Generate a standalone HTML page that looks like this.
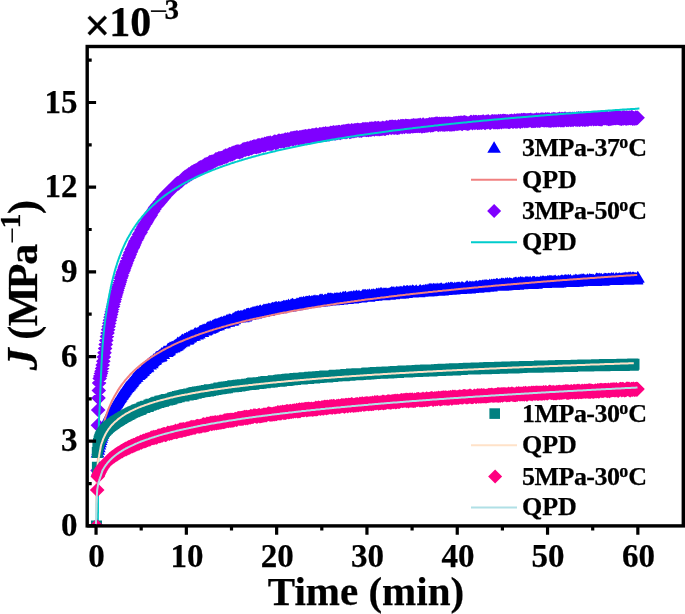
<!DOCTYPE html>
<html><head><meta charset="utf-8"><style>
html,body{margin:0;padding:0;background:#fff;width:685px;height:614px;overflow:hidden}
svg{display:block;will-change:transform}
text{font-family:"Liberation Serif",serif;stroke:#000;stroke-width:0.25px} .thin{stroke:none}
</style></head><body>
<svg xmlns="http://www.w3.org/2000/svg" width="685" height="614" viewBox="0 0 685 614"><defs><clipPath id="c"><rect x="87.2" y="46.5" width="596.0999999999999" height="479.4"/></clipPath></defs><g clip-path="url(#c)"><path fill="#7f00ff" d="M96.5 518.7l7.3 7.3l-7.3 7.3l-7.3-7.3zM97.6 463.1l7.3 7.3l-7.3 7.3l-7.3-7.3zM97.9 417.9l7.3 7.3l-7.3 7.3l-7.3-7.3zM98.2 402.7l7.3 7.3l-7.3 7.3l-7.3-7.3zM98.5 390.7l7.3 7.3l-7.3 7.3l-7.3-7.3zM98.8 383.2l7.3 7.3l-7.3 7.3l-7.3-7.3zM99.1 375.7l7.3 7.3l-7.3 7.3l-7.3-7.3zM99.1 375.7l7.3 7.3l-7.3 7.3l-7.3-7.3zM99.7 371.2l7.3 7.3l-7.3 7.3l-7.3-7.3zM100.3 368.6l7.3 7.3l-7.3 7.3l-7.3-7.3zM100.9 366.3l7.3 7.3l-7.3 7.3l-7.3-7.3zM101.5 363.9l7.3 7.3l-7.3 7.3l-7.3-7.3zM102.1 361.1l7.3 7.3l-7.3 7.3l-7.3-7.3zM102.7 357.8l7.3 7.3l-7.3 7.3l-7.3-7.3zM103.3 353.9l7.3 7.3l-7.3 7.3l-7.3-7.3zM103.9 349.8l7.3 7.3l-7.3 7.3l-7.3-7.3zM104.5 345.5l7.3 7.3l-7.3 7.3l-7.3-7.3zM105.1 341.2l7.3 7.3l-7.3 7.3l-7.3-7.3zM105.7 337.1l7.3 7.3l-7.3 7.3l-7.3-7.3zM106.3 333.1l7.3 7.3l-7.3 7.3l-7.3-7.3zM106.9 329.3l7.3 7.3l-7.3 7.3l-7.3-7.3zM107.5 325.8l7.3 7.3l-7.3 7.3l-7.3-7.3zM108.1 322.4l7.3 7.3l-7.3 7.3l-7.3-7.3zM108.7 319.1l7.3 7.3l-7.3 7.3l-7.3-7.3zM109.3 316l7.3 7.3l-7.3 7.3l-7.3-7.3zM109.9 312.9l7.3 7.3l-7.3 7.3l-7.3-7.3zM110.5 310l7.3 7.3l-7.3 7.3l-7.3-7.3zM111.1 307.2l7.3 7.3l-7.3 7.3l-7.3-7.3zM111.7 304.5l7.3 7.3l-7.3 7.3l-7.3-7.3zM112.4 301.8l7.3 7.3l-7.3 7.3l-7.3-7.3zM113 299.3l7.3 7.3l-7.3 7.3l-7.3-7.3zM113.6 296.8l7.3 7.3l-7.3 7.3l-7.3-7.3zM114.2 294.4l7.3 7.3l-7.3 7.3l-7.3-7.3zM114.8 292l7.3 7.3l-7.3 7.3l-7.3-7.3zM115.4 289.6l7.3 7.3l-7.3 7.3l-7.3-7.3zM116 287.4l7.3 7.3l-7.3 7.3l-7.3-7.3zM116.6 285.4l7.3 7.3l-7.3 7.3l-7.3-7.3zM117.2 283.1l7.3 7.3l-7.3 7.3l-7.3-7.3zM117.8 280.9l7.3 7.3l-7.3 7.3l-7.3-7.3zM118.4 279l7.3 7.3l-7.3 7.3l-7.3-7.3zM119 277.1l7.3 7.3l-7.3 7.3l-7.3-7.3zM119.6 275.1l7.3 7.3l-7.3 7.3l-7.3-7.3zM120.2 273.3l7.3 7.3l-7.3 7.3l-7.3-7.3zM120.8 271l7.3 7.3l-7.3 7.3l-7.3-7.3zM121.4 269.4l7.3 7.3l-7.3 7.3l-7.3-7.3zM122 267.6l7.3 7.3l-7.3 7.3l-7.3-7.3zM122.6 265.6l7.3 7.3l-7.3 7.3l-7.3-7.3zM123.2 264.2l7.3 7.3l-7.3 7.3l-7.3-7.3zM123.8 262.6l7.3 7.3l-7.3 7.3l-7.3-7.3zM124.4 260.8l7.3 7.3l-7.3 7.3l-7.3-7.3zM125 258.9l7.3 7.3l-7.3 7.3l-7.3-7.3zM125.6 257.7l7.3 7.3l-7.3 7.3l-7.3-7.3zM126.2 255.9l7.3 7.3l-7.3 7.3l-7.3-7.3zM126.8 254.3l7.3 7.3l-7.3 7.3l-7.3-7.3zM127.4 253l7.3 7.3l-7.3 7.3l-7.3-7.3zM128 251.1l7.3 7.3l-7.3 7.3l-7.3-7.3zM128.6 250.1l7.3 7.3l-7.3 7.3l-7.3-7.3zM129.2 248.5l7.3 7.3l-7.3 7.3l-7.3-7.3zM129.8 247.2l7.3 7.3l-7.3 7.3l-7.3-7.3zM130.4 245.3l7.3 7.3l-7.3 7.3l-7.3-7.3zM131 244.4l7.3 7.3l-7.3 7.3l-7.3-7.3zM131.6 242.5l7.3 7.3l-7.3 7.3l-7.3-7.3zM132.2 241.1l7.3 7.3l-7.3 7.3l-7.3-7.3zM132.8 240.4l7.3 7.3l-7.3 7.3l-7.3-7.3zM133.4 239.1l7.3 7.3l-7.3 7.3l-7.3-7.3zM134 237.8l7.3 7.3l-7.3 7.3l-7.3-7.3zM134.6 236.2l7.3 7.3l-7.3 7.3l-7.3-7.3zM135.2 234.7l7.3 7.3l-7.3 7.3l-7.3-7.3zM135.8 233.2l7.3 7.3l-7.3 7.3l-7.3-7.3zM136.4 232.6l7.3 7.3l-7.3 7.3l-7.3-7.3zM137 231.5l7.3 7.3l-7.3 7.3l-7.3-7.3zM137.6 230.4l7.3 7.3l-7.3 7.3l-7.3-7.3zM138.2 228.6l7.3 7.3l-7.3 7.3l-7.3-7.3zM138.9 227.4l7.3 7.3l-7.3 7.3l-7.3-7.3zM139.5 226.7l7.3 7.3l-7.3 7.3l-7.3-7.3zM140.1 225.8l7.3 7.3l-7.3 7.3l-7.3-7.3zM140.7 224.9l7.3 7.3l-7.3 7.3l-7.3-7.3zM141.3 222.8l7.3 7.3l-7.3 7.3l-7.3-7.3zM141.9 222.1l7.3 7.3l-7.3 7.3l-7.3-7.3zM142.5 221.5l7.3 7.3l-7.3 7.3l-7.3-7.3zM143.1 219.9l7.3 7.3l-7.3 7.3l-7.3-7.3zM143.7 219l7.3 7.3l-7.3 7.3l-7.3-7.3zM144.3 217.2l7.3 7.3l-7.3 7.3l-7.3-7.3zM144.9 217l7.3 7.3l-7.3 7.3l-7.3-7.3zM145.5 216.4l7.3 7.3l-7.3 7.3l-7.3-7.3zM146.1 215.2l7.3 7.3l-7.3 7.3l-7.3-7.3zM146.7 214.3l7.3 7.3l-7.3 7.3l-7.3-7.3zM147.3 213l7.3 7.3l-7.3 7.3l-7.3-7.3zM147.9 211.4l7.3 7.3l-7.3 7.3l-7.3-7.3zM148.5 211.2l7.3 7.3l-7.3 7.3l-7.3-7.3zM149.1 209.5l7.3 7.3l-7.3 7.3l-7.3-7.3zM149.7 209.5l7.3 7.3l-7.3 7.3l-7.3-7.3zM150.3 207.4l7.3 7.3l-7.3 7.3l-7.3-7.3zM150.9 207.6l7.3 7.3l-7.3 7.3l-7.3-7.3zM151.5 205.7l7.3 7.3l-7.3 7.3l-7.3-7.3zM152.1 205.1l7.3 7.3l-7.3 7.3l-7.3-7.3zM152.7 204.1l7.3 7.3l-7.3 7.3l-7.3-7.3zM153.3 203.8l7.3 7.3l-7.3 7.3l-7.3-7.3zM153.9 202.2l7.3 7.3l-7.3 7.3l-7.3-7.3zM154.5 201.7l7.3 7.3l-7.3 7.3l-7.3-7.3zM155.1 200.2l7.3 7.3l-7.3 7.3l-7.3-7.3zM155.7 199.8l7.3 7.3l-7.3 7.3l-7.3-7.3zM156.3 199.2l7.3 7.3l-7.3 7.3l-7.3-7.3zM156.9 197.9l7.3 7.3l-7.3 7.3l-7.3-7.3zM157.5 197.9l7.3 7.3l-7.3 7.3l-7.3-7.3zM158.1 196.7l7.3 7.3l-7.3 7.3l-7.3-7.3zM158.7 196.5l7.3 7.3l-7.3 7.3l-7.3-7.3zM159.3 195.6l7.3 7.3l-7.3 7.3l-7.3-7.3zM159.9 194.5l7.3 7.3l-7.3 7.3l-7.3-7.3zM160.5 194.4l7.3 7.3l-7.3 7.3l-7.3-7.3zM161.1 193.3l7.3 7.3l-7.3 7.3l-7.3-7.3zM161.7 192.9l7.3 7.3l-7.3 7.3l-7.3-7.3zM162.3 191.4l7.3 7.3l-7.3 7.3l-7.3-7.3zM162.9 191l7.3 7.3l-7.3 7.3l-7.3-7.3zM163.5 189.8l7.3 7.3l-7.3 7.3l-7.3-7.3zM164.1 190.3l7.3 7.3l-7.3 7.3l-7.3-7.3zM164.8 188.5l7.3 7.3l-7.3 7.3l-7.3-7.3zM165.4 187.8l7.3 7.3l-7.3 7.3l-7.3-7.3zM166 186.9l7.3 7.3l-7.3 7.3l-7.3-7.3zM166.6 186.5l7.3 7.3l-7.3 7.3l-7.3-7.3zM167.2 186.6l7.3 7.3l-7.3 7.3l-7.3-7.3zM167.8 185.9l7.3 7.3l-7.3 7.3l-7.3-7.3zM168.4 184.4l7.3 7.3l-7.3 7.3l-7.3-7.3zM169 184.1l7.3 7.3l-7.3 7.3l-7.3-7.3zM169.6 183.6l7.3 7.3l-7.3 7.3l-7.3-7.3zM170.2 183.4l7.3 7.3l-7.3 7.3l-7.3-7.3zM170.8 182.4l7.3 7.3l-7.3 7.3l-7.3-7.3zM171.4 182.1l7.3 7.3l-7.3 7.3l-7.3-7.3zM172 181.9l7.3 7.3l-7.3 7.3l-7.3-7.3zM172.6 181.1l7.3 7.3l-7.3 7.3l-7.3-7.3zM173.2 180l7.3 7.3l-7.3 7.3l-7.3-7.3zM173.8 179.6l7.3 7.3l-7.3 7.3l-7.3-7.3zM174.4 178.9l7.3 7.3l-7.3 7.3l-7.3-7.3zM175 177.9l7.3 7.3l-7.3 7.3l-7.3-7.3zM175.6 177.5l7.3 7.3l-7.3 7.3l-7.3-7.3zM176.2 177.1l7.3 7.3l-7.3 7.3l-7.3-7.3zM176.8 176.6l7.3 7.3l-7.3 7.3l-7.3-7.3zM177.4 176.1l7.3 7.3l-7.3 7.3l-7.3-7.3zM178 176l7.3 7.3l-7.3 7.3l-7.3-7.3zM178.6 176.1l7.3 7.3l-7.3 7.3l-7.3-7.3zM179.2 175.3l7.3 7.3l-7.3 7.3l-7.3-7.3zM179.8 174.8l7.3 7.3l-7.3 7.3l-7.3-7.3zM180.4 174.3l7.3 7.3l-7.3 7.3l-7.3-7.3zM181 173.6l7.3 7.3l-7.3 7.3l-7.3-7.3zM181.6 173.6l7.3 7.3l-7.3 7.3l-7.3-7.3zM182.2 172.8l7.3 7.3l-7.3 7.3l-7.3-7.3zM182.8 172l7.3 7.3l-7.3 7.3l-7.3-7.3zM183.4 170.9l7.3 7.3l-7.3 7.3l-7.3-7.3zM184 171.1l7.3 7.3l-7.3 7.3l-7.3-7.3zM184.6 170.2l7.3 7.3l-7.3 7.3l-7.3-7.3zM185.2 169.6l7.3 7.3l-7.3 7.3l-7.3-7.3zM185.8 169.8l7.3 7.3l-7.3 7.3l-7.3-7.3zM186.4 169.8l7.3 7.3l-7.3 7.3l-7.3-7.3zM187 168.6l7.3 7.3l-7.3 7.3l-7.3-7.3zM187.6 168.9l7.3 7.3l-7.3 7.3l-7.3-7.3zM188.2 168.1l7.3 7.3l-7.3 7.3l-7.3-7.3zM188.8 167.1l7.3 7.3l-7.3 7.3l-7.3-7.3zM189.4 168l7.3 7.3l-7.3 7.3l-7.3-7.3zM190 166.7l7.3 7.3l-7.3 7.3l-7.3-7.3zM190.6 166.1l7.3 7.3l-7.3 7.3l-7.3-7.3zM191.3 166.6l7.3 7.3l-7.3 7.3l-7.3-7.3zM191.9 165.1l7.3 7.3l-7.3 7.3l-7.3-7.3zM192.5 165.6l7.3 7.3l-7.3 7.3l-7.3-7.3zM193.1 164.4l7.3 7.3l-7.3 7.3l-7.3-7.3zM193.7 164.3l7.3 7.3l-7.3 7.3l-7.3-7.3zM194.3 163.7l7.3 7.3l-7.3 7.3l-7.3-7.3zM194.9 164.3l7.3 7.3l-7.3 7.3l-7.3-7.3zM195.5 163.2l7.3 7.3l-7.3 7.3l-7.3-7.3zM196.1 163.7l7.3 7.3l-7.3 7.3l-7.3-7.3zM196.7 162.8l7.3 7.3l-7.3 7.3l-7.3-7.3zM197.3 162.6l7.3 7.3l-7.3 7.3l-7.3-7.3zM197.9 162l7.3 7.3l-7.3 7.3l-7.3-7.3zM198.5 161.3l7.3 7.3l-7.3 7.3l-7.3-7.3zM199.1 161.1l7.3 7.3l-7.3 7.3l-7.3-7.3zM199.7 161.6l7.3 7.3l-7.3 7.3l-7.3-7.3zM200.3 160.1l7.3 7.3l-7.3 7.3l-7.3-7.3zM200.9 161l7.3 7.3l-7.3 7.3l-7.3-7.3zM201.5 160.3l7.3 7.3l-7.3 7.3l-7.3-7.3zM202.1 159.4l7.3 7.3l-7.3 7.3l-7.3-7.3zM202.7 159.5l7.3 7.3l-7.3 7.3l-7.3-7.3zM203.3 158.7l7.3 7.3l-7.3 7.3l-7.3-7.3zM203.9 158.4l7.3 7.3l-7.3 7.3l-7.3-7.3zM204.5 158.3l7.3 7.3l-7.3 7.3l-7.3-7.3zM205.1 157.2l7.3 7.3l-7.3 7.3l-7.3-7.3zM205.7 157.7l7.3 7.3l-7.3 7.3l-7.3-7.3zM206.3 158.1l7.3 7.3l-7.3 7.3l-7.3-7.3zM206.9 156.7l7.3 7.3l-7.3 7.3l-7.3-7.3zM207.5 157.1l7.3 7.3l-7.3 7.3l-7.3-7.3zM208.1 156.4l7.3 7.3l-7.3 7.3l-7.3-7.3zM208.7 155.7l7.3 7.3l-7.3 7.3l-7.3-7.3zM209.3 156.5l7.3 7.3l-7.3 7.3l-7.3-7.3zM209.9 154.8l7.3 7.3l-7.3 7.3l-7.3-7.3zM210.5 155l7.3 7.3l-7.3 7.3l-7.3-7.3zM211.1 155.8l7.3 7.3l-7.3 7.3l-7.3-7.3zM211.7 154.4l7.3 7.3l-7.3 7.3l-7.3-7.3zM212.3 155l7.3 7.3l-7.3 7.3l-7.3-7.3zM212.9 154.3l7.3 7.3l-7.3 7.3l-7.3-7.3zM213.5 154.4l7.3 7.3l-7.3 7.3l-7.3-7.3zM214.1 153.8l7.3 7.3l-7.3 7.3l-7.3-7.3zM214.7 153.2l7.3 7.3l-7.3 7.3l-7.3-7.3zM215.3 153.5l7.3 7.3l-7.3 7.3l-7.3-7.3zM215.9 152.1l7.3 7.3l-7.3 7.3l-7.3-7.3zM216.5 152.5l7.3 7.3l-7.3 7.3l-7.3-7.3zM217.2 152.1l7.3 7.3l-7.3 7.3l-7.3-7.3zM217.8 152l7.3 7.3l-7.3 7.3l-7.3-7.3zM218.4 151.2l7.3 7.3l-7.3 7.3l-7.3-7.3zM219 151.1l7.3 7.3l-7.3 7.3l-7.3-7.3zM219.6 151.4l7.3 7.3l-7.3 7.3l-7.3-7.3zM220.2 150.9l7.3 7.3l-7.3 7.3l-7.3-7.3zM220.8 151.2l7.3 7.3l-7.3 7.3l-7.3-7.3zM221.4 150.7l7.3 7.3l-7.3 7.3l-7.3-7.3zM222 150.9l7.3 7.3l-7.3 7.3l-7.3-7.3zM222.6 150.4l7.3 7.3l-7.3 7.3l-7.3-7.3zM223.2 150l7.3 7.3l-7.3 7.3l-7.3-7.3zM223.8 149.3l7.3 7.3l-7.3 7.3l-7.3-7.3zM224.4 149.8l7.3 7.3l-7.3 7.3l-7.3-7.3zM225 148.8l7.3 7.3l-7.3 7.3l-7.3-7.3zM225.6 148.3l7.3 7.3l-7.3 7.3l-7.3-7.3zM226.2 149.4l7.3 7.3l-7.3 7.3l-7.3-7.3zM226.8 148.5l7.3 7.3l-7.3 7.3l-7.3-7.3zM227.4 148.6l7.3 7.3l-7.3 7.3l-7.3-7.3zM228 148.1l7.3 7.3l-7.3 7.3l-7.3-7.3zM228.6 148l7.3 7.3l-7.3 7.3l-7.3-7.3zM229.2 146.9l7.3 7.3l-7.3 7.3l-7.3-7.3zM229.8 146.9l7.3 7.3l-7.3 7.3l-7.3-7.3zM230.4 147.4l7.3 7.3l-7.3 7.3l-7.3-7.3zM231 147l7.3 7.3l-7.3 7.3l-7.3-7.3zM231.6 146.2l7.3 7.3l-7.3 7.3l-7.3-7.3zM232.2 147.2l7.3 7.3l-7.3 7.3l-7.3-7.3zM232.8 145.8l7.3 7.3l-7.3 7.3l-7.3-7.3zM233.4 146.1l7.3 7.3l-7.3 7.3l-7.3-7.3zM234 145.3l7.3 7.3l-7.3 7.3l-7.3-7.3zM234.6 146l7.3 7.3l-7.3 7.3l-7.3-7.3zM235.2 145.1l7.3 7.3l-7.3 7.3l-7.3-7.3zM235.8 144.7l7.3 7.3l-7.3 7.3l-7.3-7.3zM236.4 144.4l7.3 7.3l-7.3 7.3l-7.3-7.3zM237 144.4l7.3 7.3l-7.3 7.3l-7.3-7.3zM237.6 144.2l7.3 7.3l-7.3 7.3l-7.3-7.3zM238.2 144.5l7.3 7.3l-7.3 7.3l-7.3-7.3zM238.8 144.2l7.3 7.3l-7.3 7.3l-7.3-7.3zM239.4 144.8l7.3 7.3l-7.3 7.3l-7.3-7.3zM240 144.6l7.3 7.3l-7.3 7.3l-7.3-7.3zM240.6 144.2l7.3 7.3l-7.3 7.3l-7.3-7.3zM241.2 143.8l7.3 7.3l-7.3 7.3l-7.3-7.3zM241.8 143.9l7.3 7.3l-7.3 7.3l-7.3-7.3zM242.4 143.8l7.3 7.3l-7.3 7.3l-7.3-7.3zM243 142.3l7.3 7.3l-7.3 7.3l-7.3-7.3zM243.7 142.2l7.3 7.3l-7.3 7.3l-7.3-7.3zM244.3 142.4l7.3 7.3l-7.3 7.3l-7.3-7.3zM244.9 141.8l7.3 7.3l-7.3 7.3l-7.3-7.3zM245.5 142.4l7.3 7.3l-7.3 7.3l-7.3-7.3zM246.1 141.7l7.3 7.3l-7.3 7.3l-7.3-7.3zM246.7 141.6l7.3 7.3l-7.3 7.3l-7.3-7.3zM247.3 141.4l7.3 7.3l-7.3 7.3l-7.3-7.3zM247.9 141l7.3 7.3l-7.3 7.3l-7.3-7.3zM248.5 141.8l7.3 7.3l-7.3 7.3l-7.3-7.3zM249.1 141.5l7.3 7.3l-7.3 7.3l-7.3-7.3zM249.7 141.2l7.3 7.3l-7.3 7.3l-7.3-7.3zM250.3 140.2l7.3 7.3l-7.3 7.3l-7.3-7.3zM250.9 140.6l7.3 7.3l-7.3 7.3l-7.3-7.3zM251.5 140.9l7.3 7.3l-7.3 7.3l-7.3-7.3zM252.1 139.9l7.3 7.3l-7.3 7.3l-7.3-7.3zM252.7 140.1l7.3 7.3l-7.3 7.3l-7.3-7.3zM253.3 139.4l7.3 7.3l-7.3 7.3l-7.3-7.3zM253.9 139.3l7.3 7.3l-7.3 7.3l-7.3-7.3zM254.5 139.3l7.3 7.3l-7.3 7.3l-7.3-7.3zM255.1 139.5l7.3 7.3l-7.3 7.3l-7.3-7.3zM255.7 139.4l7.3 7.3l-7.3 7.3l-7.3-7.3zM256.3 139.9l7.3 7.3l-7.3 7.3l-7.3-7.3zM256.9 138.9l7.3 7.3l-7.3 7.3l-7.3-7.3zM257.5 138.3l7.3 7.3l-7.3 7.3l-7.3-7.3zM258.1 139.3l7.3 7.3l-7.3 7.3l-7.3-7.3zM258.7 138l7.3 7.3l-7.3 7.3l-7.3-7.3zM259.3 137.9l7.3 7.3l-7.3 7.3l-7.3-7.3zM259.9 139.1l7.3 7.3l-7.3 7.3l-7.3-7.3zM260.5 138.6l7.3 7.3l-7.3 7.3l-7.3-7.3zM261.1 137.9l7.3 7.3l-7.3 7.3l-7.3-7.3zM261.7 137.4l7.3 7.3l-7.3 7.3l-7.3-7.3zM262.3 137.6l7.3 7.3l-7.3 7.3l-7.3-7.3zM262.9 137.4l7.3 7.3l-7.3 7.3l-7.3-7.3zM263.5 138.1l7.3 7.3l-7.3 7.3l-7.3-7.3zM264.1 137.3l7.3 7.3l-7.3 7.3l-7.3-7.3zM264.7 136.6l7.3 7.3l-7.3 7.3l-7.3-7.3zM265.3 137.8l7.3 7.3l-7.3 7.3l-7.3-7.3zM265.9 137.1l7.3 7.3l-7.3 7.3l-7.3-7.3zM266.5 136.2l7.3 7.3l-7.3 7.3l-7.3-7.3zM267.1 136.1l7.3 7.3l-7.3 7.3l-7.3-7.3zM267.7 136.5l7.3 7.3l-7.3 7.3l-7.3-7.3zM268.3 135.8l7.3 7.3l-7.3 7.3l-7.3-7.3zM268.9 136.5l7.3 7.3l-7.3 7.3l-7.3-7.3zM269.6 136.3l7.3 7.3l-7.3 7.3l-7.3-7.3zM270.2 135.3l7.3 7.3l-7.3 7.3l-7.3-7.3zM270.8 136.4l7.3 7.3l-7.3 7.3l-7.3-7.3zM271.4 136.2l7.3 7.3l-7.3 7.3l-7.3-7.3zM272 136.3l7.3 7.3l-7.3 7.3l-7.3-7.3zM272.6 135.8l7.3 7.3l-7.3 7.3l-7.3-7.3zM273.2 135.7l7.3 7.3l-7.3 7.3l-7.3-7.3zM273.8 134.7l7.3 7.3l-7.3 7.3l-7.3-7.3zM274.4 134.4l7.3 7.3l-7.3 7.3l-7.3-7.3zM275 134.3l7.3 7.3l-7.3 7.3l-7.3-7.3zM275.6 135.6l7.3 7.3l-7.3 7.3l-7.3-7.3zM276.2 135l7.3 7.3l-7.3 7.3l-7.3-7.3zM276.8 135.3l7.3 7.3l-7.3 7.3l-7.3-7.3zM277.4 134.3l7.3 7.3l-7.3 7.3l-7.3-7.3zM278 134.8l7.3 7.3l-7.3 7.3l-7.3-7.3zM278.6 133.6l7.3 7.3l-7.3 7.3l-7.3-7.3zM279.2 133.6l7.3 7.3l-7.3 7.3l-7.3-7.3zM279.8 133.7l7.3 7.3l-7.3 7.3l-7.3-7.3zM280.4 134l7.3 7.3l-7.3 7.3l-7.3-7.3zM281 133.9l7.3 7.3l-7.3 7.3l-7.3-7.3zM281.6 133.6l7.3 7.3l-7.3 7.3l-7.3-7.3zM282.2 133.4l7.3 7.3l-7.3 7.3l-7.3-7.3zM282.8 133.5l7.3 7.3l-7.3 7.3l-7.3-7.3zM283.4 134l7.3 7.3l-7.3 7.3l-7.3-7.3zM284 133.1l7.3 7.3l-7.3 7.3l-7.3-7.3zM284.6 133.6l7.3 7.3l-7.3 7.3l-7.3-7.3zM285.2 132.3l7.3 7.3l-7.3 7.3l-7.3-7.3zM285.8 132.7l7.3 7.3l-7.3 7.3l-7.3-7.3zM286.4 132.8l7.3 7.3l-7.3 7.3l-7.3-7.3zM287 132.8l7.3 7.3l-7.3 7.3l-7.3-7.3zM287.6 132.1l7.3 7.3l-7.3 7.3l-7.3-7.3zM288.2 132.2l7.3 7.3l-7.3 7.3l-7.3-7.3zM288.8 133l7.3 7.3l-7.3 7.3l-7.3-7.3zM289.4 132.4l7.3 7.3l-7.3 7.3l-7.3-7.3zM290 132.2l7.3 7.3l-7.3 7.3l-7.3-7.3zM290.6 131.3l7.3 7.3l-7.3 7.3l-7.3-7.3zM291.2 131.2l7.3 7.3l-7.3 7.3l-7.3-7.3zM291.8 131.3l7.3 7.3l-7.3 7.3l-7.3-7.3zM292.4 131.1l7.3 7.3l-7.3 7.3l-7.3-7.3zM293 132.3l7.3 7.3l-7.3 7.3l-7.3-7.3zM293.6 130.7l7.3 7.3l-7.3 7.3l-7.3-7.3zM294.2 131.1l7.3 7.3l-7.3 7.3l-7.3-7.3zM294.8 130.6l7.3 7.3l-7.3 7.3l-7.3-7.3zM295.5 131.4l7.3 7.3l-7.3 7.3l-7.3-7.3zM296.1 130.3l7.3 7.3l-7.3 7.3l-7.3-7.3zM296.7 130.3l7.3 7.3l-7.3 7.3l-7.3-7.3zM297.3 130.2l7.3 7.3l-7.3 7.3l-7.3-7.3zM297.9 130.4l7.3 7.3l-7.3 7.3l-7.3-7.3zM298.5 130.8l7.3 7.3l-7.3 7.3l-7.3-7.3zM299.1 131l7.3 7.3l-7.3 7.3l-7.3-7.3zM299.7 130.1l7.3 7.3l-7.3 7.3l-7.3-7.3zM300.3 130l7.3 7.3l-7.3 7.3l-7.3-7.3zM300.9 130.7l7.3 7.3l-7.3 7.3l-7.3-7.3zM301.5 130.5l7.3 7.3l-7.3 7.3l-7.3-7.3zM302.1 129.5l7.3 7.3l-7.3 7.3l-7.3-7.3zM302.7 130.4l7.3 7.3l-7.3 7.3l-7.3-7.3zM303.3 130.4l7.3 7.3l-7.3 7.3l-7.3-7.3zM303.9 129.3l7.3 7.3l-7.3 7.3l-7.3-7.3zM304.5 129.9l7.3 7.3l-7.3 7.3l-7.3-7.3zM305.1 129.1l7.3 7.3l-7.3 7.3l-7.3-7.3zM305.7 129.1l7.3 7.3l-7.3 7.3l-7.3-7.3zM306.3 129.4l7.3 7.3l-7.3 7.3l-7.3-7.3zM306.9 129.3l7.3 7.3l-7.3 7.3l-7.3-7.3zM307.5 129.2l7.3 7.3l-7.3 7.3l-7.3-7.3zM308.1 129.2l7.3 7.3l-7.3 7.3l-7.3-7.3zM308.7 128.6l7.3 7.3l-7.3 7.3l-7.3-7.3zM309.3 129.4l7.3 7.3l-7.3 7.3l-7.3-7.3zM309.9 128.5l7.3 7.3l-7.3 7.3l-7.3-7.3zM310.5 129.4l7.3 7.3l-7.3 7.3l-7.3-7.3zM311.1 128.7l7.3 7.3l-7.3 7.3l-7.3-7.3zM311.7 128.3l7.3 7.3l-7.3 7.3l-7.3-7.3zM312.3 128l7.3 7.3l-7.3 7.3l-7.3-7.3zM312.9 128.4l7.3 7.3l-7.3 7.3l-7.3-7.3zM313.5 128.1l7.3 7.3l-7.3 7.3l-7.3-7.3zM314.1 128.4l7.3 7.3l-7.3 7.3l-7.3-7.3zM314.7 128.2l7.3 7.3l-7.3 7.3l-7.3-7.3zM315.3 127.4l7.3 7.3l-7.3 7.3l-7.3-7.3zM315.9 128.5l7.3 7.3l-7.3 7.3l-7.3-7.3zM316.5 127.2l7.3 7.3l-7.3 7.3l-7.3-7.3zM317.1 128.3l7.3 7.3l-7.3 7.3l-7.3-7.3zM317.7 128.2l7.3 7.3l-7.3 7.3l-7.3-7.3zM318.3 128.3l7.3 7.3l-7.3 7.3l-7.3-7.3zM318.9 127.8l7.3 7.3l-7.3 7.3l-7.3-7.3zM319.5 127l7.3 7.3l-7.3 7.3l-7.3-7.3zM320.1 127.3l7.3 7.3l-7.3 7.3l-7.3-7.3zM320.7 127.2l7.3 7.3l-7.3 7.3l-7.3-7.3zM321.3 127.5l7.3 7.3l-7.3 7.3l-7.3-7.3zM322 127l7.3 7.3l-7.3 7.3l-7.3-7.3zM322.6 127.4l7.3 7.3l-7.3 7.3l-7.3-7.3zM323.2 126.6l7.3 7.3l-7.3 7.3l-7.3-7.3zM323.8 126.7l7.3 7.3l-7.3 7.3l-7.3-7.3zM324.4 126.9l7.3 7.3l-7.3 7.3l-7.3-7.3zM325 126.7l7.3 7.3l-7.3 7.3l-7.3-7.3zM325.6 126.1l7.3 7.3l-7.3 7.3l-7.3-7.3zM326.2 127.3l7.3 7.3l-7.3 7.3l-7.3-7.3zM326.8 126.8l7.3 7.3l-7.3 7.3l-7.3-7.3zM327.4 127l7.3 7.3l-7.3 7.3l-7.3-7.3zM328 126.2l7.3 7.3l-7.3 7.3l-7.3-7.3zM328.6 127l7.3 7.3l-7.3 7.3l-7.3-7.3zM329.2 126.7l7.3 7.3l-7.3 7.3l-7.3-7.3zM329.8 126.9l7.3 7.3l-7.3 7.3l-7.3-7.3zM330.4 125.6l7.3 7.3l-7.3 7.3l-7.3-7.3zM331 126l7.3 7.3l-7.3 7.3l-7.3-7.3zM331.6 125.8l7.3 7.3l-7.3 7.3l-7.3-7.3zM332.2 126.1l7.3 7.3l-7.3 7.3l-7.3-7.3zM332.8 125.4l7.3 7.3l-7.3 7.3l-7.3-7.3zM333.4 125.1l7.3 7.3l-7.3 7.3l-7.3-7.3zM334 125.6l7.3 7.3l-7.3 7.3l-7.3-7.3zM334.6 125.8l7.3 7.3l-7.3 7.3l-7.3-7.3zM335.2 125.3l7.3 7.3l-7.3 7.3l-7.3-7.3zM335.8 126.2l7.3 7.3l-7.3 7.3l-7.3-7.3zM336.4 125.2l7.3 7.3l-7.3 7.3l-7.3-7.3zM337 125l7.3 7.3l-7.3 7.3l-7.3-7.3zM337.6 125.7l7.3 7.3l-7.3 7.3l-7.3-7.3zM338.2 125.1l7.3 7.3l-7.3 7.3l-7.3-7.3zM338.8 124.7l7.3 7.3l-7.3 7.3l-7.3-7.3zM339.4 124.7l7.3 7.3l-7.3 7.3l-7.3-7.3zM340 125.6l7.3 7.3l-7.3 7.3l-7.3-7.3zM340.6 125.6l7.3 7.3l-7.3 7.3l-7.3-7.3zM341.2 125l7.3 7.3l-7.3 7.3l-7.3-7.3zM341.8 124.4l7.3 7.3l-7.3 7.3l-7.3-7.3zM342.4 125l7.3 7.3l-7.3 7.3l-7.3-7.3zM343 124.2l7.3 7.3l-7.3 7.3l-7.3-7.3zM343.6 124.3l7.3 7.3l-7.3 7.3l-7.3-7.3zM344.2 124.6l7.3 7.3l-7.3 7.3l-7.3-7.3zM344.8 124.3l7.3 7.3l-7.3 7.3l-7.3-7.3zM345.4 124.1l7.3 7.3l-7.3 7.3l-7.3-7.3zM346 125l7.3 7.3l-7.3 7.3l-7.3-7.3zM346.6 123.7l7.3 7.3l-7.3 7.3l-7.3-7.3zM347.2 124.3l7.3 7.3l-7.3 7.3l-7.3-7.3zM347.9 123.4l7.3 7.3l-7.3 7.3l-7.3-7.3zM348.5 123.4l7.3 7.3l-7.3 7.3l-7.3-7.3zM349.1 123.5l7.3 7.3l-7.3 7.3l-7.3-7.3zM349.7 124.7l7.3 7.3l-7.3 7.3l-7.3-7.3zM350.3 124.2l7.3 7.3l-7.3 7.3l-7.3-7.3zM350.9 124.3l7.3 7.3l-7.3 7.3l-7.3-7.3zM351.5 123l7.3 7.3l-7.3 7.3l-7.3-7.3zM352.1 123.9l7.3 7.3l-7.3 7.3l-7.3-7.3zM352.7 123.5l7.3 7.3l-7.3 7.3l-7.3-7.3zM353.3 123.4l7.3 7.3l-7.3 7.3l-7.3-7.3zM353.9 123.8l7.3 7.3l-7.3 7.3l-7.3-7.3zM354.5 123.1l7.3 7.3l-7.3 7.3l-7.3-7.3zM355.1 123.4l7.3 7.3l-7.3 7.3l-7.3-7.3zM355.7 122.9l7.3 7.3l-7.3 7.3l-7.3-7.3zM356.3 123.1l7.3 7.3l-7.3 7.3l-7.3-7.3zM356.9 123.2l7.3 7.3l-7.3 7.3l-7.3-7.3zM357.5 122.6l7.3 7.3l-7.3 7.3l-7.3-7.3zM358.1 122.7l7.3 7.3l-7.3 7.3l-7.3-7.3zM358.7 122.9l7.3 7.3l-7.3 7.3l-7.3-7.3zM359.3 122.9l7.3 7.3l-7.3 7.3l-7.3-7.3zM359.9 123.3l7.3 7.3l-7.3 7.3l-7.3-7.3zM360.5 123l7.3 7.3l-7.3 7.3l-7.3-7.3zM361.1 122.9l7.3 7.3l-7.3 7.3l-7.3-7.3zM361.7 123.3l7.3 7.3l-7.3 7.3l-7.3-7.3zM362.3 122.2l7.3 7.3l-7.3 7.3l-7.3-7.3zM362.9 122l7.3 7.3l-7.3 7.3l-7.3-7.3zM363.5 122.4l7.3 7.3l-7.3 7.3l-7.3-7.3zM364.1 121.9l7.3 7.3l-7.3 7.3l-7.3-7.3zM364.7 122.5l7.3 7.3l-7.3 7.3l-7.3-7.3zM365.3 122.5l7.3 7.3l-7.3 7.3l-7.3-7.3zM365.9 121.7l7.3 7.3l-7.3 7.3l-7.3-7.3zM366.5 122.6l7.3 7.3l-7.3 7.3l-7.3-7.3zM367.1 122.3l7.3 7.3l-7.3 7.3l-7.3-7.3zM367.7 122l7.3 7.3l-7.3 7.3l-7.3-7.3zM368.3 122.7l7.3 7.3l-7.3 7.3l-7.3-7.3zM368.9 122.6l7.3 7.3l-7.3 7.3l-7.3-7.3zM369.5 121.6l7.3 7.3l-7.3 7.3l-7.3-7.3zM370.1 121.4l7.3 7.3l-7.3 7.3l-7.3-7.3zM370.7 122.5l7.3 7.3l-7.3 7.3l-7.3-7.3zM371.3 121.3l7.3 7.3l-7.3 7.3l-7.3-7.3zM371.9 122.2l7.3 7.3l-7.3 7.3l-7.3-7.3zM372.5 121.4l7.3 7.3l-7.3 7.3l-7.3-7.3zM373.1 121.5l7.3 7.3l-7.3 7.3l-7.3-7.3zM373.7 121.7l7.3 7.3l-7.3 7.3l-7.3-7.3zM374.4 122.2l7.3 7.3l-7.3 7.3l-7.3-7.3zM375 120.7l7.3 7.3l-7.3 7.3l-7.3-7.3zM375.6 120.9l7.3 7.3l-7.3 7.3l-7.3-7.3zM376.2 121.7l7.3 7.3l-7.3 7.3l-7.3-7.3zM376.8 121.2l7.3 7.3l-7.3 7.3l-7.3-7.3zM377.4 121l7.3 7.3l-7.3 7.3l-7.3-7.3zM378 122l7.3 7.3l-7.3 7.3l-7.3-7.3zM378.6 120.8l7.3 7.3l-7.3 7.3l-7.3-7.3zM379.2 121.5l7.3 7.3l-7.3 7.3l-7.3-7.3zM379.8 121.8l7.3 7.3l-7.3 7.3l-7.3-7.3zM380.4 121.5l7.3 7.3l-7.3 7.3l-7.3-7.3zM381 121.3l7.3 7.3l-7.3 7.3l-7.3-7.3zM381.6 121.3l7.3 7.3l-7.3 7.3l-7.3-7.3zM382.2 121.4l7.3 7.3l-7.3 7.3l-7.3-7.3zM382.8 120.5l7.3 7.3l-7.3 7.3l-7.3-7.3zM383.4 121l7.3 7.3l-7.3 7.3l-7.3-7.3zM384 121.2l7.3 7.3l-7.3 7.3l-7.3-7.3zM384.6 121.3l7.3 7.3l-7.3 7.3l-7.3-7.3zM385.2 121.3l7.3 7.3l-7.3 7.3l-7.3-7.3zM385.8 121.2l7.3 7.3l-7.3 7.3l-7.3-7.3zM386.4 119.9l7.3 7.3l-7.3 7.3l-7.3-7.3zM387 120.3l7.3 7.3l-7.3 7.3l-7.3-7.3zM387.6 120.4l7.3 7.3l-7.3 7.3l-7.3-7.3zM388.2 121l7.3 7.3l-7.3 7.3l-7.3-7.3zM388.8 120.3l7.3 7.3l-7.3 7.3l-7.3-7.3zM389.4 120l7.3 7.3l-7.3 7.3l-7.3-7.3zM390 119.5l7.3 7.3l-7.3 7.3l-7.3-7.3zM390.6 119.9l7.3 7.3l-7.3 7.3l-7.3-7.3zM391.2 120.6l7.3 7.3l-7.3 7.3l-7.3-7.3zM391.8 119.4l7.3 7.3l-7.3 7.3l-7.3-7.3zM392.4 119.6l7.3 7.3l-7.3 7.3l-7.3-7.3zM393 119.8l7.3 7.3l-7.3 7.3l-7.3-7.3zM393.6 120.1l7.3 7.3l-7.3 7.3l-7.3-7.3zM394.2 119.8l7.3 7.3l-7.3 7.3l-7.3-7.3zM394.8 120.5l7.3 7.3l-7.3 7.3l-7.3-7.3zM395.4 119.4l7.3 7.3l-7.3 7.3l-7.3-7.3zM396 119.9l7.3 7.3l-7.3 7.3l-7.3-7.3zM396.6 120.2l7.3 7.3l-7.3 7.3l-7.3-7.3zM397.2 120.4l7.3 7.3l-7.3 7.3l-7.3-7.3zM397.8 120.3l7.3 7.3l-7.3 7.3l-7.3-7.3zM398.4 119.1l7.3 7.3l-7.3 7.3l-7.3-7.3zM399 120.1l7.3 7.3l-7.3 7.3l-7.3-7.3zM399.6 119.8l7.3 7.3l-7.3 7.3l-7.3-7.3zM400.3 119.4l7.3 7.3l-7.3 7.3l-7.3-7.3zM400.9 118.8l7.3 7.3l-7.3 7.3l-7.3-7.3zM401.5 118.9l7.3 7.3l-7.3 7.3l-7.3-7.3zM402.1 119.8l7.3 7.3l-7.3 7.3l-7.3-7.3zM402.7 118.7l7.3 7.3l-7.3 7.3l-7.3-7.3zM403.3 119l7.3 7.3l-7.3 7.3l-7.3-7.3zM403.9 118.9l7.3 7.3l-7.3 7.3l-7.3-7.3zM404.5 119.6l7.3 7.3l-7.3 7.3l-7.3-7.3zM405.1 119l7.3 7.3l-7.3 7.3l-7.3-7.3zM405.7 118.5l7.3 7.3l-7.3 7.3l-7.3-7.3zM406.3 118.9l7.3 7.3l-7.3 7.3l-7.3-7.3zM406.9 118.8l7.3 7.3l-7.3 7.3l-7.3-7.3zM407.5 119.3l7.3 7.3l-7.3 7.3l-7.3-7.3zM408.1 118.7l7.3 7.3l-7.3 7.3l-7.3-7.3zM408.7 119.2l7.3 7.3l-7.3 7.3l-7.3-7.3zM409.3 119l7.3 7.3l-7.3 7.3l-7.3-7.3zM409.9 119.4l7.3 7.3l-7.3 7.3l-7.3-7.3zM410.5 119.2l7.3 7.3l-7.3 7.3l-7.3-7.3zM411.1 118.6l7.3 7.3l-7.3 7.3l-7.3-7.3zM411.7 118.7l7.3 7.3l-7.3 7.3l-7.3-7.3zM412.3 118.6l7.3 7.3l-7.3 7.3l-7.3-7.3zM412.9 119.2l7.3 7.3l-7.3 7.3l-7.3-7.3zM413.5 118.1l7.3 7.3l-7.3 7.3l-7.3-7.3zM414.1 118.5l7.3 7.3l-7.3 7.3l-7.3-7.3zM414.7 118.6l7.3 7.3l-7.3 7.3l-7.3-7.3zM415.3 118.4l7.3 7.3l-7.3 7.3l-7.3-7.3zM415.9 118.6l7.3 7.3l-7.3 7.3l-7.3-7.3zM416.5 118.4l7.3 7.3l-7.3 7.3l-7.3-7.3zM417.1 118.2l7.3 7.3l-7.3 7.3l-7.3-7.3zM417.7 118.6l7.3 7.3l-7.3 7.3l-7.3-7.3zM418.3 118l7.3 7.3l-7.3 7.3l-7.3-7.3zM418.9 118.4l7.3 7.3l-7.3 7.3l-7.3-7.3zM419.5 118.6l7.3 7.3l-7.3 7.3l-7.3-7.3zM420.1 117.6l7.3 7.3l-7.3 7.3l-7.3-7.3zM420.7 117.9l7.3 7.3l-7.3 7.3l-7.3-7.3zM421.3 118.8l7.3 7.3l-7.3 7.3l-7.3-7.3zM421.9 118.8l7.3 7.3l-7.3 7.3l-7.3-7.3zM422.5 118.8l7.3 7.3l-7.3 7.3l-7.3-7.3zM423.1 117.3l7.3 7.3l-7.3 7.3l-7.3-7.3zM423.7 118.5l7.3 7.3l-7.3 7.3l-7.3-7.3zM424.3 118.6l7.3 7.3l-7.3 7.3l-7.3-7.3zM424.9 118.5l7.3 7.3l-7.3 7.3l-7.3-7.3zM425.5 118.2l7.3 7.3l-7.3 7.3l-7.3-7.3zM426.1 118.1l7.3 7.3l-7.3 7.3l-7.3-7.3zM426.8 118.1l7.3 7.3l-7.3 7.3l-7.3-7.3zM427.4 117.9l7.3 7.3l-7.3 7.3l-7.3-7.3zM428 118.2l7.3 7.3l-7.3 7.3l-7.3-7.3zM428.6 117.7l7.3 7.3l-7.3 7.3l-7.3-7.3zM429.2 117.2l7.3 7.3l-7.3 7.3l-7.3-7.3zM429.8 117l7.3 7.3l-7.3 7.3l-7.3-7.3zM430.4 118.2l7.3 7.3l-7.3 7.3l-7.3-7.3zM431 117.9l7.3 7.3l-7.3 7.3l-7.3-7.3zM431.6 117l7.3 7.3l-7.3 7.3l-7.3-7.3zM432.2 118l7.3 7.3l-7.3 7.3l-7.3-7.3zM432.8 117.1l7.3 7.3l-7.3 7.3l-7.3-7.3zM433.4 117.6l7.3 7.3l-7.3 7.3l-7.3-7.3zM434 117.1l7.3 7.3l-7.3 7.3l-7.3-7.3zM434.6 116.9l7.3 7.3l-7.3 7.3l-7.3-7.3zM435.2 116.8l7.3 7.3l-7.3 7.3l-7.3-7.3zM435.8 116.6l7.3 7.3l-7.3 7.3l-7.3-7.3zM436.4 116.6l7.3 7.3l-7.3 7.3l-7.3-7.3zM437 116.5l7.3 7.3l-7.3 7.3l-7.3-7.3zM437.6 116.5l7.3 7.3l-7.3 7.3l-7.3-7.3zM438.2 117.6l7.3 7.3l-7.3 7.3l-7.3-7.3zM438.8 117.1l7.3 7.3l-7.3 7.3l-7.3-7.3zM439.4 116.5l7.3 7.3l-7.3 7.3l-7.3-7.3zM440 117.1l7.3 7.3l-7.3 7.3l-7.3-7.3zM440.6 117.1l7.3 7.3l-7.3 7.3l-7.3-7.3zM441.2 117l7.3 7.3l-7.3 7.3l-7.3-7.3zM441.8 116.5l7.3 7.3l-7.3 7.3l-7.3-7.3zM442.4 116.8l7.3 7.3l-7.3 7.3l-7.3-7.3zM443 117.4l7.3 7.3l-7.3 7.3l-7.3-7.3zM443.6 116.6l7.3 7.3l-7.3 7.3l-7.3-7.3zM444.2 116.8l7.3 7.3l-7.3 7.3l-7.3-7.3zM444.8 117.4l7.3 7.3l-7.3 7.3l-7.3-7.3zM445.4 116.3l7.3 7.3l-7.3 7.3l-7.3-7.3zM446 117l7.3 7.3l-7.3 7.3l-7.3-7.3zM446.6 116.6l7.3 7.3l-7.3 7.3l-7.3-7.3zM447.2 117.1l7.3 7.3l-7.3 7.3l-7.3-7.3zM447.8 116.4l7.3 7.3l-7.3 7.3l-7.3-7.3zM448.4 116.6l7.3 7.3l-7.3 7.3l-7.3-7.3zM449 116.3l7.3 7.3l-7.3 7.3l-7.3-7.3zM449.6 117.1l7.3 7.3l-7.3 7.3l-7.3-7.3zM450.2 117.1l7.3 7.3l-7.3 7.3l-7.3-7.3zM450.8 116.6l7.3 7.3l-7.3 7.3l-7.3-7.3zM451.4 117.1l7.3 7.3l-7.3 7.3l-7.3-7.3zM452 116.7l7.3 7.3l-7.3 7.3l-7.3-7.3zM452.7 116.9l7.3 7.3l-7.3 7.3l-7.3-7.3zM453.3 116.9l7.3 7.3l-7.3 7.3l-7.3-7.3zM453.9 115.9l7.3 7.3l-7.3 7.3l-7.3-7.3zM454.5 117l7.3 7.3l-7.3 7.3l-7.3-7.3zM455.1 116.1l7.3 7.3l-7.3 7.3l-7.3-7.3zM455.7 116.2l7.3 7.3l-7.3 7.3l-7.3-7.3zM456.3 115.7l7.3 7.3l-7.3 7.3l-7.3-7.3zM456.9 116.6l7.3 7.3l-7.3 7.3l-7.3-7.3zM457.5 115.9l7.3 7.3l-7.3 7.3l-7.3-7.3zM458.1 116.4l7.3 7.3l-7.3 7.3l-7.3-7.3zM458.7 115.6l7.3 7.3l-7.3 7.3l-7.3-7.3zM459.3 115.8l7.3 7.3l-7.3 7.3l-7.3-7.3zM459.9 115.8l7.3 7.3l-7.3 7.3l-7.3-7.3zM460.5 115.6l7.3 7.3l-7.3 7.3l-7.3-7.3zM461.1 115.2l7.3 7.3l-7.3 7.3l-7.3-7.3zM461.7 116.3l7.3 7.3l-7.3 7.3l-7.3-7.3zM462.3 116.6l7.3 7.3l-7.3 7.3l-7.3-7.3zM462.9 115.4l7.3 7.3l-7.3 7.3l-7.3-7.3zM463.5 115.3l7.3 7.3l-7.3 7.3l-7.3-7.3zM464.1 115.6l7.3 7.3l-7.3 7.3l-7.3-7.3zM464.7 115.1l7.3 7.3l-7.3 7.3l-7.3-7.3zM465.3 116l7.3 7.3l-7.3 7.3l-7.3-7.3zM465.9 115.5l7.3 7.3l-7.3 7.3l-7.3-7.3zM466.5 115.8l7.3 7.3l-7.3 7.3l-7.3-7.3zM467.1 116.3l7.3 7.3l-7.3 7.3l-7.3-7.3zM467.7 116.2l7.3 7.3l-7.3 7.3l-7.3-7.3zM468.3 116.2l7.3 7.3l-7.3 7.3l-7.3-7.3zM468.9 116.2l7.3 7.3l-7.3 7.3l-7.3-7.3zM469.5 115.7l7.3 7.3l-7.3 7.3l-7.3-7.3zM470.1 115.5l7.3 7.3l-7.3 7.3l-7.3-7.3zM470.7 114.8l7.3 7.3l-7.3 7.3l-7.3-7.3zM471.3 114.8l7.3 7.3l-7.3 7.3l-7.3-7.3zM471.9 115.5l7.3 7.3l-7.3 7.3l-7.3-7.3zM472.5 115.9l7.3 7.3l-7.3 7.3l-7.3-7.3zM473.1 115.3l7.3 7.3l-7.3 7.3l-7.3-7.3zM473.7 114.6l7.3 7.3l-7.3 7.3l-7.3-7.3zM474.3 114.9l7.3 7.3l-7.3 7.3l-7.3-7.3zM474.9 115.7l7.3 7.3l-7.3 7.3l-7.3-7.3zM475.5 114.7l7.3 7.3l-7.3 7.3l-7.3-7.3zM476.1 114.8l7.3 7.3l-7.3 7.3l-7.3-7.3zM476.7 114.9l7.3 7.3l-7.3 7.3l-7.3-7.3zM477.3 115.4l7.3 7.3l-7.3 7.3l-7.3-7.3zM477.9 115.7l7.3 7.3l-7.3 7.3l-7.3-7.3zM478.5 114.7l7.3 7.3l-7.3 7.3l-7.3-7.3zM479.2 115.3l7.3 7.3l-7.3 7.3l-7.3-7.3zM479.8 115.1l7.3 7.3l-7.3 7.3l-7.3-7.3zM480.4 115l7.3 7.3l-7.3 7.3l-7.3-7.3zM481 115.1l7.3 7.3l-7.3 7.3l-7.3-7.3zM481.6 115.5l7.3 7.3l-7.3 7.3l-7.3-7.3zM482.2 114.5l7.3 7.3l-7.3 7.3l-7.3-7.3zM482.8 114.9l7.3 7.3l-7.3 7.3l-7.3-7.3zM483.4 114.3l7.3 7.3l-7.3 7.3l-7.3-7.3zM484 114.9l7.3 7.3l-7.3 7.3l-7.3-7.3zM484.6 115.3l7.3 7.3l-7.3 7.3l-7.3-7.3zM485.2 115.6l7.3 7.3l-7.3 7.3l-7.3-7.3zM485.8 114.8l7.3 7.3l-7.3 7.3l-7.3-7.3zM486.4 114.5l7.3 7.3l-7.3 7.3l-7.3-7.3zM487 114.9l7.3 7.3l-7.3 7.3l-7.3-7.3zM487.6 114.6l7.3 7.3l-7.3 7.3l-7.3-7.3zM488.2 114.1l7.3 7.3l-7.3 7.3l-7.3-7.3zM488.8 114.7l7.3 7.3l-7.3 7.3l-7.3-7.3zM489.4 115.1l7.3 7.3l-7.3 7.3l-7.3-7.3zM490 115.2l7.3 7.3l-7.3 7.3l-7.3-7.3zM490.6 115.4l7.3 7.3l-7.3 7.3l-7.3-7.3zM491.2 114.4l7.3 7.3l-7.3 7.3l-7.3-7.3zM491.8 114.2l7.3 7.3l-7.3 7.3l-7.3-7.3zM492.4 114l7.3 7.3l-7.3 7.3l-7.3-7.3zM493 114.4l7.3 7.3l-7.3 7.3l-7.3-7.3zM493.6 115l7.3 7.3l-7.3 7.3l-7.3-7.3zM494.2 114.1l7.3 7.3l-7.3 7.3l-7.3-7.3zM494.8 115l7.3 7.3l-7.3 7.3l-7.3-7.3zM495.4 114.8l7.3 7.3l-7.3 7.3l-7.3-7.3zM496 113.9l7.3 7.3l-7.3 7.3l-7.3-7.3zM496.6 114.6l7.3 7.3l-7.3 7.3l-7.3-7.3zM497.2 114.8l7.3 7.3l-7.3 7.3l-7.3-7.3zM497.8 115l7.3 7.3l-7.3 7.3l-7.3-7.3zM498.4 113.8l7.3 7.3l-7.3 7.3l-7.3-7.3zM499 114.8l7.3 7.3l-7.3 7.3l-7.3-7.3zM499.6 114.7l7.3 7.3l-7.3 7.3l-7.3-7.3zM500.2 113.8l7.3 7.3l-7.3 7.3l-7.3-7.3zM500.8 113.9l7.3 7.3l-7.3 7.3l-7.3-7.3zM501.4 114.9l7.3 7.3l-7.3 7.3l-7.3-7.3zM502 114l7.3 7.3l-7.3 7.3l-7.3-7.3zM502.6 113.8l7.3 7.3l-7.3 7.3l-7.3-7.3zM503.2 114.5l7.3 7.3l-7.3 7.3l-7.3-7.3zM503.8 113.5l7.3 7.3l-7.3 7.3l-7.3-7.3zM504.4 114.1l7.3 7.3l-7.3 7.3l-7.3-7.3zM505.1 113.8l7.3 7.3l-7.3 7.3l-7.3-7.3zM505.7 114.1l7.3 7.3l-7.3 7.3l-7.3-7.3zM506.3 114.2l7.3 7.3l-7.3 7.3l-7.3-7.3zM506.9 114.2l7.3 7.3l-7.3 7.3l-7.3-7.3zM507.5 113.9l7.3 7.3l-7.3 7.3l-7.3-7.3zM508.1 114.5l7.3 7.3l-7.3 7.3l-7.3-7.3zM508.7 114.4l7.3 7.3l-7.3 7.3l-7.3-7.3zM509.3 114.6l7.3 7.3l-7.3 7.3l-7.3-7.3zM509.9 113.8l7.3 7.3l-7.3 7.3l-7.3-7.3zM510.5 114.2l7.3 7.3l-7.3 7.3l-7.3-7.3zM511.1 113.7l7.3 7.3l-7.3 7.3l-7.3-7.3zM511.7 113.5l7.3 7.3l-7.3 7.3l-7.3-7.3zM512.3 114l7.3 7.3l-7.3 7.3l-7.3-7.3zM512.9 114.5l7.3 7.3l-7.3 7.3l-7.3-7.3zM513.5 114.2l7.3 7.3l-7.3 7.3l-7.3-7.3zM514.1 113.4l7.3 7.3l-7.3 7.3l-7.3-7.3zM514.7 113.3l7.3 7.3l-7.3 7.3l-7.3-7.3zM515.3 114.1l7.3 7.3l-7.3 7.3l-7.3-7.3zM515.9 114l7.3 7.3l-7.3 7.3l-7.3-7.3zM516.5 114.2l7.3 7.3l-7.3 7.3l-7.3-7.3zM517.1 113.1l7.3 7.3l-7.3 7.3l-7.3-7.3zM517.7 114.2l7.3 7.3l-7.3 7.3l-7.3-7.3zM518.3 113.5l7.3 7.3l-7.3 7.3l-7.3-7.3zM518.9 113.2l7.3 7.3l-7.3 7.3l-7.3-7.3zM519.5 113.3l7.3 7.3l-7.3 7.3l-7.3-7.3zM520.1 114.3l7.3 7.3l-7.3 7.3l-7.3-7.3zM520.7 114.2l7.3 7.3l-7.3 7.3l-7.3-7.3zM521.3 112.8l7.3 7.3l-7.3 7.3l-7.3-7.3zM521.9 113.2l7.3 7.3l-7.3 7.3l-7.3-7.3zM522.5 113.8l7.3 7.3l-7.3 7.3l-7.3-7.3zM523.1 112.7l7.3 7.3l-7.3 7.3l-7.3-7.3zM523.7 112.7l7.3 7.3l-7.3 7.3l-7.3-7.3zM524.3 112.7l7.3 7.3l-7.3 7.3l-7.3-7.3zM524.9 113.9l7.3 7.3l-7.3 7.3l-7.3-7.3zM525.5 113.1l7.3 7.3l-7.3 7.3l-7.3-7.3zM526.1 113l7.3 7.3l-7.3 7.3l-7.3-7.3zM526.7 113.7l7.3 7.3l-7.3 7.3l-7.3-7.3zM527.3 113l7.3 7.3l-7.3 7.3l-7.3-7.3zM527.9 113.6l7.3 7.3l-7.3 7.3l-7.3-7.3zM528.5 113l7.3 7.3l-7.3 7.3l-7.3-7.3zM529.1 112.9l7.3 7.3l-7.3 7.3l-7.3-7.3zM529.7 113l7.3 7.3l-7.3 7.3l-7.3-7.3zM530.3 112.7l7.3 7.3l-7.3 7.3l-7.3-7.3zM530.9 112.5l7.3 7.3l-7.3 7.3l-7.3-7.3zM531.6 113.7l7.3 7.3l-7.3 7.3l-7.3-7.3zM532.2 113.7l7.3 7.3l-7.3 7.3l-7.3-7.3zM532.8 113l7.3 7.3l-7.3 7.3l-7.3-7.3zM533.4 113.4l7.3 7.3l-7.3 7.3l-7.3-7.3zM534 113.6l7.3 7.3l-7.3 7.3l-7.3-7.3zM534.6 112.9l7.3 7.3l-7.3 7.3l-7.3-7.3zM535.2 113.3l7.3 7.3l-7.3 7.3l-7.3-7.3zM535.8 113.4l7.3 7.3l-7.3 7.3l-7.3-7.3zM536.4 112.3l7.3 7.3l-7.3 7.3l-7.3-7.3zM537 112.4l7.3 7.3l-7.3 7.3l-7.3-7.3zM537.6 113.3l7.3 7.3l-7.3 7.3l-7.3-7.3zM538.2 113.2l7.3 7.3l-7.3 7.3l-7.3-7.3zM538.8 112.4l7.3 7.3l-7.3 7.3l-7.3-7.3zM539.4 113.4l7.3 7.3l-7.3 7.3l-7.3-7.3zM540 113.3l7.3 7.3l-7.3 7.3l-7.3-7.3zM540.6 112.6l7.3 7.3l-7.3 7.3l-7.3-7.3zM541.2 112.6l7.3 7.3l-7.3 7.3l-7.3-7.3zM541.8 112.2l7.3 7.3l-7.3 7.3l-7.3-7.3zM542.4 112.7l7.3 7.3l-7.3 7.3l-7.3-7.3zM543 112.2l7.3 7.3l-7.3 7.3l-7.3-7.3zM543.6 112.8l7.3 7.3l-7.3 7.3l-7.3-7.3zM544.2 112.9l7.3 7.3l-7.3 7.3l-7.3-7.3zM544.8 112.8l7.3 7.3l-7.3 7.3l-7.3-7.3zM545.4 112l7.3 7.3l-7.3 7.3l-7.3-7.3zM546 112.9l7.3 7.3l-7.3 7.3l-7.3-7.3zM546.6 113l7.3 7.3l-7.3 7.3l-7.3-7.3zM547.2 112.1l7.3 7.3l-7.3 7.3l-7.3-7.3zM547.8 112.8l7.3 7.3l-7.3 7.3l-7.3-7.3zM548.4 113.1l7.3 7.3l-7.3 7.3l-7.3-7.3zM549 112.1l7.3 7.3l-7.3 7.3l-7.3-7.3zM549.6 113.2l7.3 7.3l-7.3 7.3l-7.3-7.3zM550.2 113.3l7.3 7.3l-7.3 7.3l-7.3-7.3zM550.8 112.9l7.3 7.3l-7.3 7.3l-7.3-7.3zM551.4 113.1l7.3 7.3l-7.3 7.3l-7.3-7.3zM552 112.1l7.3 7.3l-7.3 7.3l-7.3-7.3zM552.6 112.7l7.3 7.3l-7.3 7.3l-7.3-7.3zM553.2 113.1l7.3 7.3l-7.3 7.3l-7.3-7.3zM553.8 111.7l7.3 7.3l-7.3 7.3l-7.3-7.3zM554.4 112.9l7.3 7.3l-7.3 7.3l-7.3-7.3zM555 112l7.3 7.3l-7.3 7.3l-7.3-7.3zM555.6 112.9l7.3 7.3l-7.3 7.3l-7.3-7.3zM556.2 112.6l7.3 7.3l-7.3 7.3l-7.3-7.3zM556.8 112.8l7.3 7.3l-7.3 7.3l-7.3-7.3zM557.5 112.2l7.3 7.3l-7.3 7.3l-7.3-7.3zM558.1 112.2l7.3 7.3l-7.3 7.3l-7.3-7.3zM558.7 113l7.3 7.3l-7.3 7.3l-7.3-7.3zM559.3 111.6l7.3 7.3l-7.3 7.3l-7.3-7.3zM559.9 111.7l7.3 7.3l-7.3 7.3l-7.3-7.3zM560.5 113l7.3 7.3l-7.3 7.3l-7.3-7.3zM561.1 112.9l7.3 7.3l-7.3 7.3l-7.3-7.3zM561.7 111.7l7.3 7.3l-7.3 7.3l-7.3-7.3zM562.3 112.9l7.3 7.3l-7.3 7.3l-7.3-7.3zM562.9 111.8l7.3 7.3l-7.3 7.3l-7.3-7.3zM563.5 112.8l7.3 7.3l-7.3 7.3l-7.3-7.3zM564.1 112.8l7.3 7.3l-7.3 7.3l-7.3-7.3zM564.7 111.4l7.3 7.3l-7.3 7.3l-7.3-7.3zM565.3 111.4l7.3 7.3l-7.3 7.3l-7.3-7.3zM565.9 111.8l7.3 7.3l-7.3 7.3l-7.3-7.3zM566.5 112.7l7.3 7.3l-7.3 7.3l-7.3-7.3zM567.1 112.5l7.3 7.3l-7.3 7.3l-7.3-7.3zM567.7 111.9l7.3 7.3l-7.3 7.3l-7.3-7.3zM568.3 112.6l7.3 7.3l-7.3 7.3l-7.3-7.3zM568.9 111.7l7.3 7.3l-7.3 7.3l-7.3-7.3zM569.5 111.8l7.3 7.3l-7.3 7.3l-7.3-7.3zM570.1 111.5l7.3 7.3l-7.3 7.3l-7.3-7.3zM570.7 112.7l7.3 7.3l-7.3 7.3l-7.3-7.3zM571.3 112.4l7.3 7.3l-7.3 7.3l-7.3-7.3zM571.9 111.9l7.3 7.3l-7.3 7.3l-7.3-7.3zM572.5 111.6l7.3 7.3l-7.3 7.3l-7.3-7.3zM573.1 112.6l7.3 7.3l-7.3 7.3l-7.3-7.3zM573.7 111.7l7.3 7.3l-7.3 7.3l-7.3-7.3zM574.3 111.4l7.3 7.3l-7.3 7.3l-7.3-7.3zM574.9 111.7l7.3 7.3l-7.3 7.3l-7.3-7.3zM575.5 112.2l7.3 7.3l-7.3 7.3l-7.3-7.3zM576.1 112.2l7.3 7.3l-7.3 7.3l-7.3-7.3zM576.7 111.2l7.3 7.3l-7.3 7.3l-7.3-7.3zM577.3 112.5l7.3 7.3l-7.3 7.3l-7.3-7.3zM577.9 112l7.3 7.3l-7.3 7.3l-7.3-7.3zM578.5 111.1l7.3 7.3l-7.3 7.3l-7.3-7.3zM579.1 112.3l7.3 7.3l-7.3 7.3l-7.3-7.3zM579.7 112.5l7.3 7.3l-7.3 7.3l-7.3-7.3zM580.3 112.2l7.3 7.3l-7.3 7.3l-7.3-7.3zM580.9 111l7.3 7.3l-7.3 7.3l-7.3-7.3zM581.5 111.6l7.3 7.3l-7.3 7.3l-7.3-7.3zM582.1 111.8l7.3 7.3l-7.3 7.3l-7.3-7.3zM582.7 112.3l7.3 7.3l-7.3 7.3l-7.3-7.3zM583.4 111.6l7.3 7.3l-7.3 7.3l-7.3-7.3zM584 111l7.3 7.3l-7.3 7.3l-7.3-7.3zM584.6 112.3l7.3 7.3l-7.3 7.3l-7.3-7.3zM585.2 112.3l7.3 7.3l-7.3 7.3l-7.3-7.3zM585.8 111.6l7.3 7.3l-7.3 7.3l-7.3-7.3zM586.4 110.9l7.3 7.3l-7.3 7.3l-7.3-7.3zM587 112.1l7.3 7.3l-7.3 7.3l-7.3-7.3zM587.6 111.9l7.3 7.3l-7.3 7.3l-7.3-7.3zM588.2 112.2l7.3 7.3l-7.3 7.3l-7.3-7.3zM588.8 110.8l7.3 7.3l-7.3 7.3l-7.3-7.3zM589.4 111.4l7.3 7.3l-7.3 7.3l-7.3-7.3zM590 111.1l7.3 7.3l-7.3 7.3l-7.3-7.3zM590.6 110.9l7.3 7.3l-7.3 7.3l-7.3-7.3zM591.2 111.8l7.3 7.3l-7.3 7.3l-7.3-7.3zM591.8 111.2l7.3 7.3l-7.3 7.3l-7.3-7.3zM592.4 110.7l7.3 7.3l-7.3 7.3l-7.3-7.3zM593 110.8l7.3 7.3l-7.3 7.3l-7.3-7.3zM593.6 111.9l7.3 7.3l-7.3 7.3l-7.3-7.3zM594.2 111.5l7.3 7.3l-7.3 7.3l-7.3-7.3zM594.8 110.9l7.3 7.3l-7.3 7.3l-7.3-7.3zM595.4 111.6l7.3 7.3l-7.3 7.3l-7.3-7.3zM596 110.8l7.3 7.3l-7.3 7.3l-7.3-7.3zM596.6 111.6l7.3 7.3l-7.3 7.3l-7.3-7.3zM597.2 111.5l7.3 7.3l-7.3 7.3l-7.3-7.3zM597.8 110.5l7.3 7.3l-7.3 7.3l-7.3-7.3zM598.4 111.3l7.3 7.3l-7.3 7.3l-7.3-7.3zM599 111.6l7.3 7.3l-7.3 7.3l-7.3-7.3zM599.6 111.6l7.3 7.3l-7.3 7.3l-7.3-7.3zM600.2 111.5l7.3 7.3l-7.3 7.3l-7.3-7.3zM600.8 111.8l7.3 7.3l-7.3 7.3l-7.3-7.3zM601.4 111.6l7.3 7.3l-7.3 7.3l-7.3-7.3zM602 111.8l7.3 7.3l-7.3 7.3l-7.3-7.3zM602.6 111l7.3 7.3l-7.3 7.3l-7.3-7.3zM603.2 110.4l7.3 7.3l-7.3 7.3l-7.3-7.3zM603.8 110.7l7.3 7.3l-7.3 7.3l-7.3-7.3zM604.4 110.8l7.3 7.3l-7.3 7.3l-7.3-7.3zM605 110.4l7.3 7.3l-7.3 7.3l-7.3-7.3zM605.6 110.5l7.3 7.3l-7.3 7.3l-7.3-7.3zM606.2 111.1l7.3 7.3l-7.3 7.3l-7.3-7.3zM606.8 110.7l7.3 7.3l-7.3 7.3l-7.3-7.3zM607.4 110.7l7.3 7.3l-7.3 7.3l-7.3-7.3zM608 111.4l7.3 7.3l-7.3 7.3l-7.3-7.3zM608.6 111.6l7.3 7.3l-7.3 7.3l-7.3-7.3zM609.2 111.6l7.3 7.3l-7.3 7.3l-7.3-7.3zM609.9 110.8l7.3 7.3l-7.3 7.3l-7.3-7.3zM610.5 111.3l7.3 7.3l-7.3 7.3l-7.3-7.3zM611.1 111.5l7.3 7.3l-7.3 7.3l-7.3-7.3zM611.7 110.4l7.3 7.3l-7.3 7.3l-7.3-7.3zM612.3 110.5l7.3 7.3l-7.3 7.3l-7.3-7.3zM612.9 111.2l7.3 7.3l-7.3 7.3l-7.3-7.3zM613.5 110.6l7.3 7.3l-7.3 7.3l-7.3-7.3zM614.1 110.4l7.3 7.3l-7.3 7.3l-7.3-7.3zM614.7 110.7l7.3 7.3l-7.3 7.3l-7.3-7.3zM615.3 110.2l7.3 7.3l-7.3 7.3l-7.3-7.3zM615.9 110.8l7.3 7.3l-7.3 7.3l-7.3-7.3zM616.5 110.2l7.3 7.3l-7.3 7.3l-7.3-7.3zM617.1 110.5l7.3 7.3l-7.3 7.3l-7.3-7.3zM617.7 110.4l7.3 7.3l-7.3 7.3l-7.3-7.3zM618.3 110.6l7.3 7.3l-7.3 7.3l-7.3-7.3zM618.9 110.2l7.3 7.3l-7.3 7.3l-7.3-7.3zM619.5 110.8l7.3 7.3l-7.3 7.3l-7.3-7.3zM620.1 111.1l7.3 7.3l-7.3 7.3l-7.3-7.3zM620.7 110.5l7.3 7.3l-7.3 7.3l-7.3-7.3zM621.3 111.4l7.3 7.3l-7.3 7.3l-7.3-7.3zM621.9 111.3l7.3 7.3l-7.3 7.3l-7.3-7.3zM622.5 110.4l7.3 7.3l-7.3 7.3l-7.3-7.3zM623.1 110l7.3 7.3l-7.3 7.3l-7.3-7.3zM623.7 111.1l7.3 7.3l-7.3 7.3l-7.3-7.3zM624.3 110.3l7.3 7.3l-7.3 7.3l-7.3-7.3zM624.9 110.4l7.3 7.3l-7.3 7.3l-7.3-7.3zM625.5 110.8l7.3 7.3l-7.3 7.3l-7.3-7.3zM626.1 111.4l7.3 7.3l-7.3 7.3l-7.3-7.3zM626.7 110.3l7.3 7.3l-7.3 7.3l-7.3-7.3zM627.3 110.6l7.3 7.3l-7.3 7.3l-7.3-7.3zM627.9 110.8l7.3 7.3l-7.3 7.3l-7.3-7.3zM628.5 110.9l7.3 7.3l-7.3 7.3l-7.3-7.3zM629.1 110.2l7.3 7.3l-7.3 7.3l-7.3-7.3zM629.7 110.7l7.3 7.3l-7.3 7.3l-7.3-7.3zM630.3 110.6l7.3 7.3l-7.3 7.3l-7.3-7.3zM630.9 110.8l7.3 7.3l-7.3 7.3l-7.3-7.3zM631.5 110l7.3 7.3l-7.3 7.3l-7.3-7.3zM632.1 110l7.3 7.3l-7.3 7.3l-7.3-7.3zM632.7 111.3l7.3 7.3l-7.3 7.3l-7.3-7.3zM633.3 111l7.3 7.3l-7.3 7.3l-7.3-7.3zM633.9 111l7.3 7.3l-7.3 7.3l-7.3-7.3zM634.5 111.2l7.3 7.3l-7.3 7.3l-7.3-7.3zM635.1 111.2l7.3 7.3l-7.3 7.3l-7.3-7.3zM635.8 110.3l7.3 7.3l-7.3 7.3l-7.3-7.3zM636.4 110.8l7.3 7.3l-7.3 7.3l-7.3-7.3zM637 110.7l7.3 7.3l-7.3 7.3l-7.3-7.3zM637.6 110.5l7.3 7.3l-7.3 7.3l-7.3-7.3z"/><path fill="none" stroke="#00cccc" stroke-width="2" d="M97.9 525.9 L97.9 524.7 L97.9 523.5 L97.9 522.3 L97.9 521.1 L97.9 519.9 L97.9 518.7 L97.9 517.5 L97.9 516.3 L97.9 515.1 L97.9 513.9 L98.0 512.7 L98.0 511.5 L98.0 510.3 L98.0 509.1 L98.0 507.9 L98.0 506.7 L98.0 505.5 L98.0 504.3 L98.0 503.1 L98.0 501.9 L98.0 500.7 L98.0 499.5 L98.0 498.3 L98.0 497.1 L98.0 495.9 L98.0 494.7 L98.0 493.5 L98.1 492.3 L98.1 491.1 L98.1 489.9 L98.1 488.7 L98.1 487.5 L98.1 486.3 L98.1 485.1 L98.1 483.9 L98.1 482.7 L98.1 481.5 L98.1 480.3 L98.1 479.1 L98.1 477.9 L98.2 476.7 L98.2 475.5 L98.2 474.3 L98.2 473.1 L98.2 471.9 L98.2 470.7 L98.2 469.5 L98.2 468.3 L98.2 467.1 L98.2 465.9 L98.3 464.7 L98.3 463.5 L98.3 462.3 L98.3 461.1 L98.3 459.9 L98.3 458.7 L98.3 457.5 L98.3 456.3 L98.3 455.1 L98.4 453.9 L98.4 452.7 L98.4 451.5 L98.4 450.3 L98.4 449.1 L98.4 447.9 L98.4 446.7 L98.4 445.5 L98.5 444.3 L98.5 443.1 L98.5 441.9 L98.5 440.7 L98.5 439.5 L98.5 438.3 L98.6 437.1 L98.6 435.9 L98.6 434.7 L98.7 433.5 L98.7 432.3 L98.7 431.1 L98.8 429.9 L98.8 428.7 L98.8 427.5 L98.8 426.3 L98.9 425.1 L98.9 423.9 L98.9 422.7 L99.0 421.5 L99.0 420.3 L99.0 419.1 L99.1 417.9 L99.2 416.7 L99.2 415.5 L99.3 414.3 L99.4 413.1 L99.4 411.9 L99.5 410.7 L99.6 409.5 L99.6 408.3 L99.7 407.1 L99.8 405.9 L99.8 404.7 L99.9 403.5 L99.9 402.3 L100.0 401.1 L100.0 399.9 L100.1 398.7 L100.1 397.5 L100.2 396.3 L100.2 395.1 L100.2 393.9 L100.3 392.7 L100.3 391.5 L100.4 390.3 L100.4 389.1 L100.5 387.9 L100.5 386.7 L100.6 385.5 L100.6 384.3 L100.7 383.1 L100.7 381.9 L100.8 380.7 L100.8 379.6 L100.9 378.4 L100.9 377.2 L101.0 376.0 L101.0 374.8 L101.1 373.6 L101.1 372.4 L101.2 371.2 L101.3 370.0 L101.3 368.8 L101.4 367.6 L101.4 366.4 L101.5 365.2 L101.5 364.0 L101.6 362.8 L101.7 361.6 L101.7 360.4 L101.8 359.2 L101.9 358.0 L101.9 356.8 L102.0 355.6 L102.1 354.4 L102.1 353.2 L102.2 352.0 L102.3 350.8 L102.4 349.6 L102.4 348.4 L102.5 347.2 L102.6 346.0 L102.7 344.8 L102.8 343.6 L102.9 342.4 L103.0 341.2 L103.1 340.0 L103.2 338.8 L103.3 337.6 L103.4 336.4 L103.5 335.2 L103.6 334.0 L103.7 332.8 L103.8 331.7 L104.0 330.5 L104.1 329.3 L104.2 328.1 L104.3 326.9 L104.5 325.7 L104.6 324.5 L104.8 323.3 L104.9 322.1 L105.1 320.9 L105.2 319.7 L105.4 318.5 L105.6 317.4 L105.7 316.2 L105.9 315.0 L106.1 313.8 L106.3 312.6 L106.5 311.4 L106.6 310.2 L106.8 309.1 L107.0 307.9 L107.2 306.7 L107.4 305.5 L107.6 304.3 L107.8 303.1 L108.0 302.0 L108.2 300.8 L108.4 299.6 L108.6 298.4 L108.9 297.2 L109.1 296.0 L109.3 294.9 L109.5 293.7 L109.8 292.5 L110.0 291.3 L110.2 290.2 L110.5 289.0 L110.7 287.8 L111.0 286.6 L111.2 285.5 L111.5 284.3 L111.8 283.1 L112.0 282.0 L112.3 280.8 L112.6 279.6 L112.9 278.5 L113.2 277.3 L113.5 276.1 L113.8 275.0 L114.1 273.8 L114.4 272.6 L114.7 271.5 L115.0 270.3 L115.4 269.2 L115.7 268.0 L116.1 266.9 L116.4 265.7 L116.8 264.6 L117.1 263.5 L117.5 262.3 L117.9 261.2 L118.3 260.0 L118.7 258.9 L119.1 257.8 L119.5 256.7 L119.9 255.5 L120.4 254.4 L120.8 253.3 L121.2 252.2 L121.7 251.1 L122.2 250.0 L122.6 248.9 L123.1 247.8 L123.6 246.7 L124.1 245.6 L124.6 244.5 L125.1 243.4 L125.6 242.3 L126.2 241.2 L126.7 240.2 L127.3 239.1 L127.8 238.0 L128.4 237.0 L129.0 235.9 L129.6 234.9 L130.2 233.9 L130.8 232.8 L131.4 231.8 L132.0 230.8 L132.7 229.8 L133.3 228.7 L134.0 227.7 L134.6 226.7 L135.3 225.8 L136.0 224.8 L136.7 223.8 L137.4 222.8 L138.1 221.9 L138.8 220.9 L139.6 220.0 L140.3 219.0 L141.1 218.1 L141.8 217.2 L142.6 216.2 L143.4 215.3 L144.2 214.4 L145.0 213.5 L145.8 212.6 L146.6 211.8 L147.4 210.9 L148.3 210.0 L149.1 209.2 L149.9 208.3 L150.8 207.5 L151.7 206.6 L152.5 205.8 L153.4 205.0 L154.3 204.2 L155.2 203.4 L156.1 202.6 L157.0 201.8 L157.9 201.0 L158.9 200.3 L159.8 199.5 L160.7 198.8 L161.7 198.0 L162.6 197.3 L163.6 196.6 L164.5 195.8 L165.5 195.1 L166.5 194.4 L167.4 193.7 L168.4 193.0 L169.4 192.4 L170.4 191.7 L171.4 191.0 L172.4 190.4 L173.4 189.7 L174.4 189.1 L175.4 188.4 L176.5 187.8 L177.5 187.2 L178.5 186.6 L179.5 185.9 L180.6 185.3 L181.6 184.7 L182.7 184.2 L183.7 183.6 L184.8 183.0 L185.8 182.4 L186.9 181.9 L187.9 181.3 L189.0 180.7 L190.1 180.2 L191.1 179.7 L192.2 179.1 L193.3 178.6 L194.4 178.1 L195.5 177.5 L196.5 177.0 L197.6 176.5 L198.7 176.0 L199.8 175.5 L200.9 175.0 L202.0 174.5 L203.1 174.1 L204.2 173.6 L205.3 173.1 L206.4 172.6 L207.5 172.2 L208.6 171.7 L209.7 171.3 L210.9 170.8 L212.0 170.4 L213.1 169.9 L214.2 169.5 L215.3 169.1 L216.4 168.6 L217.6 168.2 L218.7 167.8 L219.8 167.4 L220.9 167.0 L222.1 166.6 L223.2 166.1 L224.3 165.7 L225.5 165.4 L226.6 165.0 L227.7 164.6 L228.9 164.2 L230.0 163.8 L231.1 163.4 L232.3 163.0 L233.4 162.7 L234.6 162.3 L235.7 161.9 L236.9 161.6 L238.0 161.2 L239.1 160.9 L240.3 160.5 L241.4 160.2 L242.6 159.8 L243.7 159.5 L244.9 159.1 L246.0 158.8 L247.2 158.5 L248.3 158.1 L249.5 157.8 L250.7 157.5 L251.8 157.1 L253.0 156.8 L254.1 156.5 L255.3 156.2 L256.4 155.9 L257.6 155.6 L258.8 155.2 L259.9 154.9 L261.1 154.6 L262.2 154.3 L263.4 154.0 L264.6 153.7 L265.7 153.4 L266.9 153.2 L268.1 152.9 L269.2 152.6 L270.4 152.3 L271.5 152.0 L272.7 151.7 L273.9 151.4 L275.1 151.2 L276.2 150.9 L277.4 150.6 L278.6 150.3 L279.7 150.1 L280.9 149.8 L282.1 149.5 L283.2 149.3 L284.4 149.0 L285.6 148.8 L286.7 148.5 L287.9 148.2 L289.1 148.0 L290.3 147.7 L291.4 147.5 L292.6 147.2 L293.8 147.0 L295.0 146.7 L296.1 146.5 L297.3 146.2 L298.5 146.0 L299.7 145.8 L300.8 145.5 L302.0 145.3 L303.2 145.1 L304.4 144.8 L305.5 144.6 L306.7 144.4 L307.9 144.1 L309.1 143.9 L310.3 143.7 L311.4 143.4 L312.6 143.2 L313.8 143.0 L315.0 142.8 L316.2 142.6 L317.3 142.3 L318.5 142.1 L319.7 141.9 L320.9 141.7 L322.1 141.5 L323.2 141.3 L324.4 141.1 L325.6 140.9 L326.8 140.6 L328.0 140.4 L329.1 140.2 L330.3 140.0 L331.5 139.8 L332.7 139.6 L333.9 139.4 L335.1 139.2 L336.2 139.0 L337.4 138.8 L338.6 138.6 L339.8 138.4 L341.0 138.2 L342.2 138.1 L343.4 137.9 L344.5 137.7 L345.7 137.5 L346.9 137.3 L348.1 137.1 L349.3 136.9 L350.5 136.7 L351.6 136.5 L352.8 136.4 L354.0 136.2 L355.2 136.0 L356.4 135.8 L357.6 135.6 L358.8 135.5 L360.0 135.3 L361.1 135.1 L362.3 134.9 L363.5 134.8 L364.7 134.6 L365.9 134.4 L367.1 134.2 L368.3 134.1 L369.5 133.9 L370.6 133.7 L371.8 133.5 L373.0 133.4 L374.2 133.2 L375.4 133.0 L376.6 132.9 L377.8 132.7 L379.0 132.6 L380.1 132.4 L381.3 132.2 L382.5 132.1 L383.7 131.9 L384.9 131.7 L386.1 131.6 L387.3 131.4 L388.5 131.3 L389.7 131.1 L390.9 131.0 L392.0 130.8 L393.2 130.6 L394.4 130.5 L395.6 130.3 L396.8 130.2 L398.0 130.0 L399.2 129.9 L400.4 129.7 L401.6 129.6 L402.8 129.4 L403.9 129.3 L405.1 129.1 L406.3 129.0 L407.5 128.8 L408.7 128.7 L409.9 128.5 L411.1 128.4 L412.3 128.3 L413.5 128.1 L414.7 128.0 L415.9 127.8 L417.0 127.7 L418.2 127.5 L419.4 127.4 L420.6 127.3 L421.8 127.1 L423.0 127.0 L424.2 126.8 L425.4 126.7 L426.6 126.6 L427.8 126.4 L429.0 126.3 L430.2 126.2 L431.4 126.0 L432.5 125.9 L433.7 125.8 L434.9 125.6 L436.1 125.5 L437.3 125.4 L438.5 125.2 L439.7 125.1 L440.9 125.0 L442.1 124.8 L443.3 124.7 L444.5 124.6 L445.7 124.5 L446.9 124.3 L448.1 124.2 L449.2 124.1 L450.4 123.9 L451.6 123.8 L452.8 123.7 L454.0 123.6 L455.2 123.4 L456.4 123.3 L457.6 123.2 L458.8 123.1 L460.0 123.0 L461.2 122.8 L462.4 122.7 L463.6 122.6 L464.8 122.5 L466.0 122.4 L467.2 122.2 L468.3 122.1 L469.5 122.0 L470.7 121.9 L471.9 121.8 L473.1 121.6 L474.3 121.5 L475.5 121.4 L476.7 121.3 L477.9 121.2 L479.1 121.1 L480.3 120.9 L481.5 120.8 L482.7 120.7 L483.9 120.6 L485.1 120.5 L486.3 120.4 L487.5 120.3 L488.7 120.2 L489.8 120.0 L491.0 119.9 L492.2 119.8 L493.4 119.7 L494.6 119.6 L495.8 119.5 L497.0 119.4 L498.2 119.3 L499.4 119.2 L500.6 119.1 L501.8 118.9 L503.0 118.8 L504.2 118.7 L505.4 118.6 L506.6 118.5 L507.8 118.4 L509.0 118.3 L510.2 118.2 L511.4 118.1 L512.6 118.0 L513.7 117.9 L514.9 117.8 L516.1 117.7 L517.3 117.6 L518.5 117.5 L519.7 117.4 L520.9 117.3 L522.1 117.2 L523.3 117.1 L524.5 117.0 L525.7 116.9 L526.9 116.8 L528.1 116.7 L529.3 116.6 L530.5 116.5 L531.7 116.4 L532.9 116.3 L534.1 116.2 L535.3 116.1 L536.5 116.0 L537.7 115.9 L538.9 115.8 L540.1 115.7 L541.3 115.6 L542.4 115.5 L543.6 115.4 L544.8 115.3 L546.0 115.2 L547.2 115.1 L548.4 115.0 L549.6 114.9 L550.8 114.8 L552.0 114.7 L553.2 114.6 L554.4 114.5 L555.6 114.5 L556.8 114.4 L558.0 114.3 L559.2 114.2 L560.4 114.1 L561.6 114.0 L562.8 113.9 L564.0 113.8 L565.2 113.7 L566.4 113.6 L567.6 113.5 L568.8 113.4 L570.0 113.4 L571.2 113.3 L572.4 113.2 L573.6 113.1 L574.8 113.0 L575.9 112.9 L577.1 112.8 L578.3 112.7 L579.5 112.6 L580.7 112.6 L581.9 112.5 L583.1 112.4 L584.3 112.3 L585.5 112.2 L586.7 112.1 L587.9 112.0 L589.1 112.0 L590.3 111.9 L591.5 111.8 L592.7 111.7 L593.9 111.6 L595.1 111.5 L596.3 111.4 L597.5 111.4 L598.7 111.3 L599.9 111.2 L601.1 111.1 L602.3 111.0 L603.5 110.9 L604.7 110.9 L605.9 110.8 L607.1 110.7 L608.3 110.6 L609.5 110.5 L610.7 110.5 L611.9 110.4 L613.1 110.3 L614.3 110.2 L615.5 110.1 L616.6 110.0 L617.8 110.0 L619.0 109.9 L620.2 109.8 L621.4 109.7 L622.6 109.6 L623.8 109.6 L625.0 109.5 L626.2 109.4 L627.4 109.3 L628.6 109.3 L629.8 109.2 L631.0 109.1 L632.2 109.0 L633.4 108.9 L634.6 108.9 L635.8 108.8 L637.0 108.7 L638.2 108.6 L639.4 108.6"/><path fill="#0000ff" d="M96.5 520.2l6.9 11.5h-13.8zM98 464.6l6.9 11.5h-13.8zM97.6 445.9l6.9 11.5h-13.8zM97.6 446l6.9 11.5h-13.8zM98.2 443.3l6.9 11.5h-13.8zM98.8 440.7l6.9 11.5h-13.8zM99.4 438.1l6.9 11.5h-13.8zM100 435.7l6.9 11.5h-13.8zM100.6 433.4l6.9 11.5h-13.8zM101.2 431.3l6.9 11.5h-13.8zM101.8 429.2l6.9 11.5h-13.8zM102.4 427.3l6.9 11.5h-13.8zM103 425.4l6.9 11.5h-13.8zM103.6 423.6l6.9 11.5h-13.8zM104.2 421.9l6.9 11.5h-13.8zM104.8 420.2l6.9 11.5h-13.8zM105.4 418.6l6.9 11.5h-13.8zM106 417l6.9 11.5h-13.8zM106.6 415.5l6.9 11.5h-13.8zM107.2 414.1l6.9 11.5h-13.8zM107.8 412.7l6.9 11.5h-13.8zM108.4 411.3l6.9 11.5h-13.8zM109 410l6.9 11.5h-13.8zM109.6 408.7l6.9 11.5h-13.8zM110.2 407.4l6.9 11.5h-13.8zM110.9 406.2l6.9 11.5h-13.8zM111.5 405l6.9 11.5h-13.8zM112.1 403.8l6.9 11.5h-13.8zM112.7 402.8l6.9 11.5h-13.8zM113.3 401.6l6.9 11.5h-13.8zM113.9 400.5l6.9 11.5h-13.8zM114.5 399.3l6.9 11.5h-13.8zM115.1 398.3l6.9 11.5h-13.8zM115.7 397.3l6.9 11.5h-13.8zM116.3 396.5l6.9 11.5h-13.8zM116.9 395.4l6.9 11.5h-13.8zM117.5 394.5l6.9 11.5h-13.8zM118.1 393.5l6.9 11.5h-13.8zM118.7 392.4l6.9 11.5h-13.8zM119.3 391.6l6.9 11.5h-13.8zM119.9 390.7l6.9 11.5h-13.8zM120.5 389.9l6.9 11.5h-13.8zM121.1 388.8l6.9 11.5h-13.8zM121.7 388.2l6.9 11.5h-13.8zM122.3 387.2l6.9 11.5h-13.8zM122.9 386.5l6.9 11.5h-13.8zM123.5 385.5l6.9 11.5h-13.8zM124.1 384.8l6.9 11.5h-13.8zM124.7 383.8l6.9 11.5h-13.8zM125.3 383.1l6.9 11.5h-13.8zM125.9 382.1l6.9 11.5h-13.8zM126.5 381.2l6.9 11.5h-13.8zM127.1 380.4l6.9 11.5h-13.8zM127.7 380.2l6.9 11.5h-13.8zM128.3 379.2l6.9 11.5h-13.8zM128.9 378.9l6.9 11.5h-13.8zM129.5 378.1l6.9 11.5h-13.8zM130.1 377l6.9 11.5h-13.8zM130.7 376.9l6.9 11.5h-13.8zM131.3 375.8l6.9 11.5h-13.8zM131.9 375.3l6.9 11.5h-13.8zM132.5 374.2l6.9 11.5h-13.8zM133.1 373.3l6.9 11.5h-13.8zM133.7 372.6l6.9 11.5h-13.8zM134.3 371.9l6.9 11.5h-13.8zM134.9 371.8l6.9 11.5h-13.8zM135.5 370.5l6.9 11.5h-13.8zM136.1 369.7l6.9 11.5h-13.8zM136.7 370.2l6.9 11.5h-13.8zM137.4 368.6l6.9 11.5h-13.8zM138 368.4l6.9 11.5h-13.8zM138.6 367.9l6.9 11.5h-13.8zM139.2 367.5l6.9 11.5h-13.8zM139.8 366.7l6.9 11.5h-13.8zM140.4 366.8l6.9 11.5h-13.8zM141 365.9l6.9 11.5h-13.8zM141.6 365l6.9 11.5h-13.8zM142.2 364.5l6.9 11.5h-13.8zM142.8 363.8l6.9 11.5h-13.8zM143.4 364l6.9 11.5h-13.8zM144 362.1l6.9 11.5h-13.8zM144.6 362.4l6.9 11.5h-13.8zM145.2 361.6l6.9 11.5h-13.8zM145.8 360.1l6.9 11.5h-13.8zM146.4 360l6.9 11.5h-13.8zM147 360.7l6.9 11.5h-13.8zM147.6 359.9l6.9 11.5h-13.8zM148.2 357.8l6.9 11.5h-13.8zM148.8 357.9l6.9 11.5h-13.8zM149.4 356.8l6.9 11.5h-13.8zM150 357.9l6.9 11.5h-13.8zM150.6 355.9l6.9 11.5h-13.8zM151.2 355.3l6.9 11.5h-13.8zM151.8 356.7l6.9 11.5h-13.8zM152.4 355.1l6.9 11.5h-13.8zM153 354.3l6.9 11.5h-13.8zM153.6 353.3l6.9 11.5h-13.8zM154.2 353.5l6.9 11.5h-13.8zM154.8 353l6.9 11.5h-13.8zM155.4 352.8l6.9 11.5h-13.8zM156 351.3l6.9 11.5h-13.8zM156.6 351.1l6.9 11.5h-13.8zM157.2 350.8l6.9 11.5h-13.8zM157.8 350.8l6.9 11.5h-13.8zM158.4 350l6.9 11.5h-13.8zM159 350.2l6.9 11.5h-13.8zM159.6 349.1l6.9 11.5h-13.8zM160.2 349.9l6.9 11.5h-13.8zM160.8 349.6l6.9 11.5h-13.8zM161.4 347.3l6.9 11.5h-13.8zM162 347.2l6.9 11.5h-13.8zM162.6 347.4l6.9 11.5h-13.8zM163.3 347.4l6.9 11.5h-13.8zM163.9 345.6l6.9 11.5h-13.8zM164.5 345.4l6.9 11.5h-13.8zM165.1 345.5l6.9 11.5h-13.8zM165.7 345.5l6.9 11.5h-13.8zM166.3 345.6l6.9 11.5h-13.8zM166.9 345.1l6.9 11.5h-13.8zM167.5 344.6l6.9 11.5h-13.8zM168.1 342.6l6.9 11.5h-13.8zM168.7 344.1l6.9 11.5h-13.8zM169.3 343l6.9 11.5h-13.8zM169.9 341.5l6.9 11.5h-13.8zM170.5 341.4l6.9 11.5h-13.8zM171.1 341.8l6.9 11.5h-13.8zM171.7 340.9l6.9 11.5h-13.8zM172.3 340.7l6.9 11.5h-13.8zM172.9 341l6.9 11.5h-13.8zM173.5 340.7l6.9 11.5h-13.8zM174.1 339.7l6.9 11.5h-13.8zM174.7 339.9l6.9 11.5h-13.8zM175.3 338.7l6.9 11.5h-13.8zM175.9 339.5l6.9 11.5h-13.8zM176.5 338.4l6.9 11.5h-13.8zM177.1 338.7l6.9 11.5h-13.8zM177.7 336.5l6.9 11.5h-13.8zM178.3 337.8l6.9 11.5h-13.8zM178.9 336.8l6.9 11.5h-13.8zM179.5 336.8l6.9 11.5h-13.8zM180.1 335.4l6.9 11.5h-13.8zM180.7 335.7l6.9 11.5h-13.8zM181.3 334.9l6.9 11.5h-13.8zM181.9 334.1l6.9 11.5h-13.8zM182.5 333.6l6.9 11.5h-13.8zM183.1 335.1l6.9 11.5h-13.8zM183.7 334.3l6.9 11.5h-13.8zM184.3 333l6.9 11.5h-13.8zM184.9 332.7l6.9 11.5h-13.8zM185.5 332.8l6.9 11.5h-13.8zM186.1 333.2l6.9 11.5h-13.8zM186.7 331.5l6.9 11.5h-13.8zM187.3 332.9l6.9 11.5h-13.8zM187.9 332.5l6.9 11.5h-13.8zM188.5 330.7l6.9 11.5h-13.8zM189.1 331.2l6.9 11.5h-13.8zM189.8 330.3l6.9 11.5h-13.8zM190.4 330.7l6.9 11.5h-13.8zM191 329.2l6.9 11.5h-13.8zM191.6 329.6l6.9 11.5h-13.8zM192.2 329.6l6.9 11.5h-13.8zM192.8 329.3l6.9 11.5h-13.8zM193.4 329.2l6.9 11.5h-13.8zM194 329.3l6.9 11.5h-13.8zM194.6 327.6l6.9 11.5h-13.8zM195.2 327.2l6.9 11.5h-13.8zM195.8 327.3l6.9 11.5h-13.8zM196.4 327.4l6.9 11.5h-13.8zM197 327.9l6.9 11.5h-13.8zM197.6 327.1l6.9 11.5h-13.8zM198.2 326.9l6.9 11.5h-13.8zM198.8 327.1l6.9 11.5h-13.8zM199.4 325.4l6.9 11.5h-13.8zM200 325.1l6.9 11.5h-13.8zM200.6 325.1l6.9 11.5h-13.8zM201.2 324.6l6.9 11.5h-13.8zM201.8 325l6.9 11.5h-13.8zM202.4 325.4l6.9 11.5h-13.8zM203 323.5l6.9 11.5h-13.8zM203.6 323.9l6.9 11.5h-13.8zM204.2 324l6.9 11.5h-13.8zM204.8 323.3l6.9 11.5h-13.8zM205.4 323.9l6.9 11.5h-13.8zM206 323.3l6.9 11.5h-13.8zM206.6 323.3l6.9 11.5h-13.8zM207.2 321.5l6.9 11.5h-13.8zM207.8 321.4l6.9 11.5h-13.8zM208.4 320.9l6.9 11.5h-13.8zM209 322.2l6.9 11.5h-13.8zM209.6 322.2l6.9 11.5h-13.8zM210.2 320l6.9 11.5h-13.8zM210.8 321.4l6.9 11.5h-13.8zM211.4 321l6.9 11.5h-13.8zM212 321.1l6.9 11.5h-13.8zM212.6 319.6l6.9 11.5h-13.8zM213.2 320.2l6.9 11.5h-13.8zM213.8 319l6.9 11.5h-13.8zM214.4 318.5l6.9 11.5h-13.8zM215 319.6l6.9 11.5h-13.8zM215.7 317.9l6.9 11.5h-13.8zM216.3 319l6.9 11.5h-13.8zM216.9 317.9l6.9 11.5h-13.8zM217.5 318.1l6.9 11.5h-13.8zM218.1 318.7l6.9 11.5h-13.8zM218.7 317.2l6.9 11.5h-13.8zM219.3 317.4l6.9 11.5h-13.8zM219.9 316.9l6.9 11.5h-13.8zM220.5 316.4l6.9 11.5h-13.8zM221.1 316.7l6.9 11.5h-13.8zM221.7 315.9l6.9 11.5h-13.8zM222.3 317l6.9 11.5h-13.8zM222.9 316.4l6.9 11.5h-13.8zM223.5 315.5l6.9 11.5h-13.8zM224.1 316.7l6.9 11.5h-13.8zM224.7 315.2l6.9 11.5h-13.8zM225.3 315.6l6.9 11.5h-13.8zM225.9 315.6l6.9 11.5h-13.8zM226.5 314.4l6.9 11.5h-13.8zM227.1 313.7l6.9 11.5h-13.8zM227.7 315.3l6.9 11.5h-13.8zM228.3 315.2l6.9 11.5h-13.8zM228.9 313.4l6.9 11.5h-13.8zM229.5 313.2l6.9 11.5h-13.8zM230.1 313.5l6.9 11.5h-13.8zM230.7 313.7l6.9 11.5h-13.8zM231.3 314.3l6.9 11.5h-13.8zM231.9 314l6.9 11.5h-13.8zM232.5 313.9l6.9 11.5h-13.8zM233.1 312.2l6.9 11.5h-13.8zM233.7 312.7l6.9 11.5h-13.8zM234.3 312.2l6.9 11.5h-13.8zM234.9 311.6l6.9 11.5h-13.8zM235.5 311l6.9 11.5h-13.8zM236.1 311.1l6.9 11.5h-13.8zM236.7 311.3l6.9 11.5h-13.8zM237.3 310.5l6.9 11.5h-13.8zM237.9 310.5l6.9 11.5h-13.8zM238.5 310.1l6.9 11.5h-13.8zM239.1 311.1l6.9 11.5h-13.8zM239.7 310.6l6.9 11.5h-13.8zM240.3 310l6.9 11.5h-13.8zM240.9 310.4l6.9 11.5h-13.8zM241.5 310l6.9 11.5h-13.8zM242.2 310.3l6.9 11.5h-13.8zM242.8 310.7l6.9 11.5h-13.8zM243.4 309.3l6.9 11.5h-13.8zM244 309.7l6.9 11.5h-13.8zM244.6 308.7l6.9 11.5h-13.8zM245.2 310l6.9 11.5h-13.8zM245.8 309.2l6.9 11.5h-13.8zM246.4 308.1l6.9 11.5h-13.8zM247 308.1l6.9 11.5h-13.8zM247.6 307.8l6.9 11.5h-13.8zM248.2 307.6l6.9 11.5h-13.8zM248.8 307.7l6.9 11.5h-13.8zM249.4 308.6l6.9 11.5h-13.8zM250 307.7l6.9 11.5h-13.8zM250.6 307.2l6.9 11.5h-13.8zM251.2 307.3l6.9 11.5h-13.8zM251.8 306.9l6.9 11.5h-13.8zM252.4 307.7l6.9 11.5h-13.8zM253 306.1l6.9 11.5h-13.8zM253.6 306.4l6.9 11.5h-13.8zM254.2 306.4l6.9 11.5h-13.8zM254.8 305.9l6.9 11.5h-13.8zM255.4 306.9l6.9 11.5h-13.8zM256 305.6l6.9 11.5h-13.8zM256.6 305.7l6.9 11.5h-13.8zM257.2 305.1l6.9 11.5h-13.8zM257.8 306.3l6.9 11.5h-13.8zM258.4 305.4l6.9 11.5h-13.8zM259 305.8l6.9 11.5h-13.8zM259.6 304.8l6.9 11.5h-13.8zM260.2 304.3l6.9 11.5h-13.8zM260.8 304.7l6.9 11.5h-13.8zM261.4 305.5l6.9 11.5h-13.8zM262 305.5l6.9 11.5h-13.8zM262.6 304.4l6.9 11.5h-13.8zM263.2 305.2l6.9 11.5h-13.8zM263.8 303.5l6.9 11.5h-13.8zM264.4 304.3l6.9 11.5h-13.8zM265 303.6l6.9 11.5h-13.8zM265.6 303.9l6.9 11.5h-13.8zM266.2 303.3l6.9 11.5h-13.8zM266.8 304.5l6.9 11.5h-13.8zM267.4 303.2l6.9 11.5h-13.8zM268.1 304.4l6.9 11.5h-13.8zM268.7 302.5l6.9 11.5h-13.8zM269.3 303l6.9 11.5h-13.8zM269.9 302.9l6.9 11.5h-13.8zM270.5 303.4l6.9 11.5h-13.8zM271.1 302.5l6.9 11.5h-13.8zM271.7 302.6l6.9 11.5h-13.8zM272.3 301.7l6.9 11.5h-13.8zM272.9 302l6.9 11.5h-13.8zM273.5 302.7l6.9 11.5h-13.8zM274.1 301.4l6.9 11.5h-13.8zM274.7 302l6.9 11.5h-13.8zM275.3 301.4l6.9 11.5h-13.8zM275.9 301.1l6.9 11.5h-13.8zM276.5 300.9l6.9 11.5h-13.8zM277.1 302.2l6.9 11.5h-13.8zM277.7 301.8l6.9 11.5h-13.8zM278.3 301l6.9 11.5h-13.8zM278.9 301l6.9 11.5h-13.8zM279.5 301.5l6.9 11.5h-13.8zM280.1 301.1l6.9 11.5h-13.8zM280.7 301.7l6.9 11.5h-13.8zM281.3 301.6l6.9 11.5h-13.8zM281.9 300.5l6.9 11.5h-13.8zM282.5 300.8l6.9 11.5h-13.8zM283.1 300.4l6.9 11.5h-13.8zM283.7 299.8l6.9 11.5h-13.8zM284.3 300l6.9 11.5h-13.8zM284.9 300.5l6.9 11.5h-13.8zM285.5 300l6.9 11.5h-13.8zM286.1 300l6.9 11.5h-13.8zM286.7 299.6l6.9 11.5h-13.8zM287.3 300.5l6.9 11.5h-13.8zM287.9 300l6.9 11.5h-13.8zM288.5 298.6l6.9 11.5h-13.8zM289.1 299.9l6.9 11.5h-13.8zM289.7 300l6.9 11.5h-13.8zM290.3 299.6l6.9 11.5h-13.8zM290.9 298.6l6.9 11.5h-13.8zM291.5 298.5l6.9 11.5h-13.8zM292.1 298.1l6.9 11.5h-13.8zM292.7 297.7l6.9 11.5h-13.8zM293.3 298.4l6.9 11.5h-13.8zM294 299.1l6.9 11.5h-13.8zM294.6 298.8l6.9 11.5h-13.8zM295.2 298.5l6.9 11.5h-13.8zM295.8 298.7l6.9 11.5h-13.8zM296.4 298.3l6.9 11.5h-13.8zM297 297.3l6.9 11.5h-13.8zM297.6 298.3l6.9 11.5h-13.8zM298.2 297.4l6.9 11.5h-13.8zM298.8 298.3l6.9 11.5h-13.8zM299.4 297.1l6.9 11.5h-13.8zM300 296.5l6.9 11.5h-13.8zM300.6 297.7l6.9 11.5h-13.8zM301.2 296.3l6.9 11.5h-13.8zM301.8 297.8l6.9 11.5h-13.8zM302.4 296.7l6.9 11.5h-13.8zM303 297.4l6.9 11.5h-13.8zM303.6 295.8l6.9 11.5h-13.8zM304.2 296.7l6.9 11.5h-13.8zM304.8 296.9l6.9 11.5h-13.8zM305.4 295.7l6.9 11.5h-13.8zM306 296.6l6.9 11.5h-13.8zM306.6 295.5l6.9 11.5h-13.8zM307.2 295.7l6.9 11.5h-13.8zM307.8 295.8l6.9 11.5h-13.8zM308.4 296.2l6.9 11.5h-13.8zM309 295.1l6.9 11.5h-13.8zM309.6 295.1l6.9 11.5h-13.8zM310.2 296.3l6.9 11.5h-13.8zM310.8 296l6.9 11.5h-13.8zM311.4 295.4l6.9 11.5h-13.8zM312 295l6.9 11.5h-13.8zM312.6 295.7l6.9 11.5h-13.8zM313.2 295.2l6.9 11.5h-13.8zM313.8 294.7l6.9 11.5h-13.8zM314.4 295.8l6.9 11.5h-13.8zM315 294.3l6.9 11.5h-13.8zM315.6 295.5l6.9 11.5h-13.8zM316.2 295l6.9 11.5h-13.8zM316.8 295l6.9 11.5h-13.8zM317.4 295l6.9 11.5h-13.8zM318 295l6.9 11.5h-13.8zM318.6 295.2l6.9 11.5h-13.8zM319.2 295.2l6.9 11.5h-13.8zM319.8 293.7l6.9 11.5h-13.8zM320.5 293.5l6.9 11.5h-13.8zM321.1 294.9l6.9 11.5h-13.8zM321.7 293.4l6.9 11.5h-13.8zM322.3 293.4l6.9 11.5h-13.8zM322.9 294.5l6.9 11.5h-13.8zM323.5 294.8l6.9 11.5h-13.8zM324.1 294.5l6.9 11.5h-13.8zM324.7 293.8l6.9 11.5h-13.8zM325.3 293.4l6.9 11.5h-13.8zM325.9 294.6l6.9 11.5h-13.8zM326.5 294l6.9 11.5h-13.8zM327.1 293.7l6.9 11.5h-13.8zM327.7 292.4l6.9 11.5h-13.8zM328.3 292.7l6.9 11.5h-13.8zM328.9 292.3l6.9 11.5h-13.8zM329.5 294.1l6.9 11.5h-13.8zM330.1 292.6l6.9 11.5h-13.8zM330.7 292.4l6.9 11.5h-13.8zM331.3 293.2l6.9 11.5h-13.8zM331.9 292.4l6.9 11.5h-13.8zM332.5 293l6.9 11.5h-13.8zM333.1 293.8l6.9 11.5h-13.8zM333.7 293.5l6.9 11.5h-13.8zM334.3 292.2l6.9 11.5h-13.8zM334.9 293.5l6.9 11.5h-13.8zM335.5 292.4l6.9 11.5h-13.8zM336.1 292.6l6.9 11.5h-13.8zM336.7 292.2l6.9 11.5h-13.8zM337.3 293.5l6.9 11.5h-13.8zM337.9 292l6.9 11.5h-13.8zM338.5 292.8l6.9 11.5h-13.8zM339.1 292.5l6.9 11.5h-13.8zM339.7 292.6l6.9 11.5h-13.8zM340.3 291.4l6.9 11.5h-13.8zM340.9 292.2l6.9 11.5h-13.8zM341.5 293.1l6.9 11.5h-13.8zM342.1 292.1l6.9 11.5h-13.8zM342.7 291.3l6.9 11.5h-13.8zM343.3 291l6.9 11.5h-13.8zM343.9 291.5l6.9 11.5h-13.8zM344.5 292.3l6.9 11.5h-13.8zM345.1 290.8l6.9 11.5h-13.8zM345.7 290.8l6.9 11.5h-13.8zM346.4 292l6.9 11.5h-13.8zM347 292.4l6.9 11.5h-13.8zM347.6 291.4l6.9 11.5h-13.8zM348.2 291.7l6.9 11.5h-13.8zM348.8 290.9l6.9 11.5h-13.8zM349.4 290.9l6.9 11.5h-13.8zM350 291.3l6.9 11.5h-13.8zM350.6 290.7l6.9 11.5h-13.8zM351.2 291.1l6.9 11.5h-13.8zM351.8 290.4l6.9 11.5h-13.8zM352.4 291.9l6.9 11.5h-13.8zM353 291.3l6.9 11.5h-13.8zM353.6 290.1l6.9 11.5h-13.8zM354.2 290.2l6.9 11.5h-13.8zM354.8 291.5l6.9 11.5h-13.8zM355.4 290.5l6.9 11.5h-13.8zM356 290.2l6.9 11.5h-13.8zM356.6 289.6l6.9 11.5h-13.8zM357.2 290.9l6.9 11.5h-13.8zM357.8 290.6l6.9 11.5h-13.8zM358.4 291.1l6.9 11.5h-13.8zM359 289.6l6.9 11.5h-13.8zM359.6 290.8l6.9 11.5h-13.8zM360.2 290.9l6.9 11.5h-13.8zM360.8 290.8l6.9 11.5h-13.8zM361.4 290.6l6.9 11.5h-13.8zM362 289.9l6.9 11.5h-13.8zM362.6 289l6.9 11.5h-13.8zM363.2 290.2l6.9 11.5h-13.8zM363.8 288.8l6.9 11.5h-13.8zM364.4 288.9l6.9 11.5h-13.8zM365 289.5l6.9 11.5h-13.8zM365.6 288.8l6.9 11.5h-13.8zM366.2 289.4l6.9 11.5h-13.8zM366.8 290.2l6.9 11.5h-13.8zM367.4 288.8l6.9 11.5h-13.8zM368 290l6.9 11.5h-13.8zM368.6 290.3l6.9 11.5h-13.8zM369.2 288.3l6.9 11.5h-13.8zM369.8 289l6.9 11.5h-13.8zM370.4 289.5l6.9 11.5h-13.8zM371 289.5l6.9 11.5h-13.8zM371.6 288.5l6.9 11.5h-13.8zM372.2 289.5l6.9 11.5h-13.8zM372.9 288.6l6.9 11.5h-13.8zM373.5 288.2l6.9 11.5h-13.8zM374.1 288.8l6.9 11.5h-13.8zM374.7 288.9l6.9 11.5h-13.8zM375.3 289.3l6.9 11.5h-13.8zM375.9 288.9l6.9 11.5h-13.8zM376.5 287.6l6.9 11.5h-13.8zM377.1 288.6l6.9 11.5h-13.8zM377.7 288.1l6.9 11.5h-13.8zM378.3 288.7l6.9 11.5h-13.8zM378.9 287.3l6.9 11.5h-13.8zM379.5 288.5l6.9 11.5h-13.8zM380.1 288.7l6.9 11.5h-13.8zM380.7 287.1l6.9 11.5h-13.8zM381.3 287l6.9 11.5h-13.8zM381.9 288.8l6.9 11.5h-13.8zM382.5 288.7l6.9 11.5h-13.8zM383.1 287.2l6.9 11.5h-13.8zM383.7 288.7l6.9 11.5h-13.8zM384.3 287.5l6.9 11.5h-13.8zM384.9 287.7l6.9 11.5h-13.8zM385.5 287.6l6.9 11.5h-13.8zM386.1 287.2l6.9 11.5h-13.8zM386.7 288.3l6.9 11.5h-13.8zM387.3 287.7l6.9 11.5h-13.8zM387.9 288.3l6.9 11.5h-13.8zM388.5 287.6l6.9 11.5h-13.8zM389.1 288.2l6.9 11.5h-13.8zM389.7 287.3l6.9 11.5h-13.8zM390.3 287.1l6.9 11.5h-13.8zM390.9 287.3l6.9 11.5h-13.8zM391.5 286.1l6.9 11.5h-13.8zM392.1 287.6l6.9 11.5h-13.8zM392.7 286.2l6.9 11.5h-13.8zM393.3 287.8l6.9 11.5h-13.8zM393.9 285.9l6.9 11.5h-13.8zM394.5 287.2l6.9 11.5h-13.8zM395.1 287.3l6.9 11.5h-13.8zM395.7 286.8l6.9 11.5h-13.8zM396.3 285.8l6.9 11.5h-13.8zM396.9 287.2l6.9 11.5h-13.8zM397.5 286.2l6.9 11.5h-13.8zM398.1 286l6.9 11.5h-13.8zM398.8 286.8l6.9 11.5h-13.8zM399.4 287.3l6.9 11.5h-13.8zM400 285.5l6.9 11.5h-13.8zM400.6 286.1l6.9 11.5h-13.8zM401.2 286.6l6.9 11.5h-13.8zM401.8 285.7l6.9 11.5h-13.8zM402.4 287l6.9 11.5h-13.8zM403 286.3l6.9 11.5h-13.8zM403.6 285.1l6.9 11.5h-13.8zM404.2 285.2l6.9 11.5h-13.8zM404.8 285.2l6.9 11.5h-13.8zM405.4 285.8l6.9 11.5h-13.8zM406 286.6l6.9 11.5h-13.8zM406.6 284.9l6.9 11.5h-13.8zM407.2 285l6.9 11.5h-13.8zM407.8 285.1l6.9 11.5h-13.8zM408.4 285.7l6.9 11.5h-13.8zM409 285.4l6.9 11.5h-13.8zM409.6 285.3l6.9 11.5h-13.8zM410.2 284.7l6.9 11.5h-13.8zM410.8 286l6.9 11.5h-13.8zM411.4 285.3l6.9 11.5h-13.8zM412 286l6.9 11.5h-13.8zM412.6 284.3l6.9 11.5h-13.8zM413.2 285.1l6.9 11.5h-13.8zM413.8 284.9l6.9 11.5h-13.8zM414.4 285.8l6.9 11.5h-13.8zM415 285.4l6.9 11.5h-13.8zM415.6 285l6.9 11.5h-13.8zM416.2 284.3l6.9 11.5h-13.8zM416.8 285.3l6.9 11.5h-13.8zM417.4 285.7l6.9 11.5h-13.8zM418 285.4l6.9 11.5h-13.8zM418.6 285.7l6.9 11.5h-13.8zM419.2 284.9l6.9 11.5h-13.8zM419.8 284.3l6.9 11.5h-13.8zM420.4 284l6.9 11.5h-13.8zM421 285.2l6.9 11.5h-13.8zM421.6 285.2l6.9 11.5h-13.8zM422.2 284.7l6.9 11.5h-13.8zM422.8 285l6.9 11.5h-13.8zM423.4 284.3l6.9 11.5h-13.8zM424 285l6.9 11.5h-13.8zM424.6 284.7l6.9 11.5h-13.8zM425.3 283.7l6.9 11.5h-13.8zM425.9 284.4l6.9 11.5h-13.8zM426.5 284.5l6.9 11.5h-13.8zM427.1 283.5l6.9 11.5h-13.8zM427.7 284.9l6.9 11.5h-13.8zM428.3 284.6l6.9 11.5h-13.8zM428.9 283.2l6.9 11.5h-13.8zM429.5 283.3l6.9 11.5h-13.8zM430.1 282.8l6.9 11.5h-13.8zM430.7 284.7l6.9 11.5h-13.8zM431.3 283.1l6.9 11.5h-13.8zM431.9 284.4l6.9 11.5h-13.8zM432.5 283.7l6.9 11.5h-13.8zM433.1 282.7l6.9 11.5h-13.8zM433.7 283l6.9 11.5h-13.8zM434.3 283.1l6.9 11.5h-13.8zM434.9 284l6.9 11.5h-13.8zM435.5 283.2l6.9 11.5h-13.8zM436.1 282.7l6.9 11.5h-13.8zM436.7 284.3l6.9 11.5h-13.8zM437.3 283.4l6.9 11.5h-13.8zM437.9 282.4l6.9 11.5h-13.8zM438.5 284.2l6.9 11.5h-13.8zM439.1 283.6l6.9 11.5h-13.8zM439.7 283l6.9 11.5h-13.8zM440.3 282.4l6.9 11.5h-13.8zM440.9 283.5l6.9 11.5h-13.8zM441.5 282.2l6.9 11.5h-13.8zM442.1 283.9l6.9 11.5h-13.8zM442.7 283.4l6.9 11.5h-13.8zM443.3 283.3l6.9 11.5h-13.8zM443.9 283.4l6.9 11.5h-13.8zM444.5 283.5l6.9 11.5h-13.8zM445.1 282.7l6.9 11.5h-13.8zM445.7 283.4l6.9 11.5h-13.8zM446.3 281.9l6.9 11.5h-13.8zM446.9 283l6.9 11.5h-13.8zM447.5 283.1l6.9 11.5h-13.8zM448.1 282l6.9 11.5h-13.8zM448.7 281.7l6.9 11.5h-13.8zM449.3 283.3l6.9 11.5h-13.8zM449.9 283.2l6.9 11.5h-13.8zM450.5 281.6l6.9 11.5h-13.8zM451.2 282.5l6.9 11.5h-13.8zM451.8 281.6l6.9 11.5h-13.8zM452.4 281.7l6.9 11.5h-13.8zM453 283.1l6.9 11.5h-13.8zM453.6 282.5l6.9 11.5h-13.8zM454.2 282.7l6.9 11.5h-13.8zM454.8 281.6l6.9 11.5h-13.8zM455.4 282.6l6.9 11.5h-13.8zM456 282.4l6.9 11.5h-13.8zM456.6 281.7l6.9 11.5h-13.8zM457.2 281.9l6.9 11.5h-13.8zM457.8 281.4l6.9 11.5h-13.8zM458.4 282l6.9 11.5h-13.8zM459 281.2l6.9 11.5h-13.8zM459.6 281.7l6.9 11.5h-13.8zM460.2 282.4l6.9 11.5h-13.8zM460.8 282l6.9 11.5h-13.8zM461.4 281.8l6.9 11.5h-13.8zM462 280.8l6.9 11.5h-13.8zM462.6 282.2l6.9 11.5h-13.8zM463.2 281.7l6.9 11.5h-13.8zM463.8 282.3l6.9 11.5h-13.8zM464.4 282.2l6.9 11.5h-13.8zM465 282.2l6.9 11.5h-13.8zM465.6 281.3l6.9 11.5h-13.8zM466.2 281.8l6.9 11.5h-13.8zM466.8 280.3l6.9 11.5h-13.8zM467.4 280.2l6.9 11.5h-13.8zM468 281.6l6.9 11.5h-13.8zM468.6 281.4l6.9 11.5h-13.8zM469.2 281.9l6.9 11.5h-13.8zM469.8 280.5l6.9 11.5h-13.8zM470.4 280.8l6.9 11.5h-13.8zM471 281.4l6.9 11.5h-13.8zM471.6 281l6.9 11.5h-13.8zM472.2 281.4l6.9 11.5h-13.8zM472.8 280.4l6.9 11.5h-13.8zM473.4 281.3l6.9 11.5h-13.8zM474 281.3l6.9 11.5h-13.8zM474.6 281.3l6.9 11.5h-13.8zM475.2 280.2l6.9 11.5h-13.8zM475.8 281.2l6.9 11.5h-13.8zM476.4 280l6.9 11.5h-13.8zM477 280.5l6.9 11.5h-13.8zM477.7 281.2l6.9 11.5h-13.8zM478.3 280.5l6.9 11.5h-13.8zM478.9 280.3l6.9 11.5h-13.8zM479.5 279.8l6.9 11.5h-13.8zM480.1 280.1l6.9 11.5h-13.8zM480.7 280l6.9 11.5h-13.8zM481.3 280.3l6.9 11.5h-13.8zM481.9 280l6.9 11.5h-13.8zM482.5 279.5l6.9 11.5h-13.8zM483.1 279.2l6.9 11.5h-13.8zM483.7 280.8l6.9 11.5h-13.8zM484.3 280l6.9 11.5h-13.8zM484.9 279l6.9 11.5h-13.8zM485.5 279.3l6.9 11.5h-13.8zM486.1 279.9l6.9 11.5h-13.8zM486.7 279l6.9 11.5h-13.8zM487.3 280.3l6.9 11.5h-13.8zM487.9 279.5l6.9 11.5h-13.8zM488.5 279.7l6.9 11.5h-13.8zM489.1 279.7l6.9 11.5h-13.8zM489.7 278.6l6.9 11.5h-13.8zM490.3 280.1l6.9 11.5h-13.8zM490.9 279.9l6.9 11.5h-13.8zM491.5 278.4l6.9 11.5h-13.8zM492.1 279.2l6.9 11.5h-13.8zM492.7 279.1l6.9 11.5h-13.8zM493.3 278.6l6.9 11.5h-13.8zM493.9 278.7l6.9 11.5h-13.8zM494.5 278.4l6.9 11.5h-13.8zM495.1 279.1l6.9 11.5h-13.8zM495.7 278.7l6.9 11.5h-13.8zM496.3 277.9l6.9 11.5h-13.8zM496.9 278.1l6.9 11.5h-13.8zM497.5 277.9l6.9 11.5h-13.8zM498.1 278.9l6.9 11.5h-13.8zM498.7 278.7l6.9 11.5h-13.8zM499.3 278.3l6.9 11.5h-13.8zM499.9 278.6l6.9 11.5h-13.8zM500.5 278.7l6.9 11.5h-13.8zM501.1 277.8l6.9 11.5h-13.8zM501.7 277.4l6.9 11.5h-13.8zM502.3 279.2l6.9 11.5h-13.8zM502.9 277.6l6.9 11.5h-13.8zM503.6 277.7l6.9 11.5h-13.8zM504.2 278.6l6.9 11.5h-13.8zM504.8 279.1l6.9 11.5h-13.8zM505.4 277.3l6.9 11.5h-13.8zM506 277.8l6.9 11.5h-13.8zM506.6 278.7l6.9 11.5h-13.8zM507.2 277.1l6.9 11.5h-13.8zM507.8 277.4l6.9 11.5h-13.8zM508.4 278.1l6.9 11.5h-13.8zM509 278.4l6.9 11.5h-13.8zM509.6 276.9l6.9 11.5h-13.8zM510.2 277.5l6.9 11.5h-13.8zM510.8 277.8l6.9 11.5h-13.8zM511.4 277.7l6.9 11.5h-13.8zM512 277.7l6.9 11.5h-13.8zM512.6 278.6l6.9 11.5h-13.8zM513.2 278.5l6.9 11.5h-13.8zM513.8 276.9l6.9 11.5h-13.8zM514.4 277l6.9 11.5h-13.8zM515 277.2l6.9 11.5h-13.8zM515.6 276.6l6.9 11.5h-13.8zM516.2 276.6l6.9 11.5h-13.8zM516.8 277.5l6.9 11.5h-13.8zM517.4 278.3l6.9 11.5h-13.8zM518 276.8l6.9 11.5h-13.8zM518.6 276.6l6.9 11.5h-13.8zM519.2 277.4l6.9 11.5h-13.8zM519.8 276.7l6.9 11.5h-13.8zM520.4 276.1l6.9 11.5h-13.8zM521 276.3l6.9 11.5h-13.8zM521.6 277.8l6.9 11.5h-13.8zM522.2 276.2l6.9 11.5h-13.8zM522.8 277.3l6.9 11.5h-13.8zM523.4 276.8l6.9 11.5h-13.8zM524 277.5l6.9 11.5h-13.8zM524.6 276.9l6.9 11.5h-13.8zM525.2 276.3l6.9 11.5h-13.8zM525.8 276.3l6.9 11.5h-13.8zM526.4 276.3l6.9 11.5h-13.8zM527 276.2l6.9 11.5h-13.8zM527.6 276.2l6.9 11.5h-13.8zM528.2 276.3l6.9 11.5h-13.8zM528.8 276.9l6.9 11.5h-13.8zM529.4 276.7l6.9 11.5h-13.8zM530.1 275.7l6.9 11.5h-13.8zM530.7 276.4l6.9 11.5h-13.8zM531.3 277.4l6.9 11.5h-13.8zM531.9 277.4l6.9 11.5h-13.8zM532.5 276.1l6.9 11.5h-13.8zM533.1 275.8l6.9 11.5h-13.8zM533.7 276l6.9 11.5h-13.8zM534.3 275.7l6.9 11.5h-13.8zM534.9 275.9l6.9 11.5h-13.8zM535.5 277.2l6.9 11.5h-13.8zM536.1 277.1l6.9 11.5h-13.8zM536.7 276.2l6.9 11.5h-13.8zM537.3 276.3l6.9 11.5h-13.8zM537.9 276.6l6.9 11.5h-13.8zM538.5 276.6l6.9 11.5h-13.8zM539.1 276.6l6.9 11.5h-13.8zM539.7 276.6l6.9 11.5h-13.8zM540.3 276.3l6.9 11.5h-13.8zM540.9 275.3l6.9 11.5h-13.8zM541.5 276.4l6.9 11.5h-13.8zM542.1 276.3l6.9 11.5h-13.8zM542.7 275.3l6.9 11.5h-13.8zM543.3 275.3l6.9 11.5h-13.8zM543.9 276.2l6.9 11.5h-13.8zM544.5 275.7l6.9 11.5h-13.8zM545.1 276.5l6.9 11.5h-13.8zM545.7 275.4l6.9 11.5h-13.8zM546.3 276.1l6.9 11.5h-13.8zM546.9 276l6.9 11.5h-13.8zM547.5 274.9l6.9 11.5h-13.8zM548.1 275.3l6.9 11.5h-13.8zM548.7 275.4l6.9 11.5h-13.8zM549.3 275.2l6.9 11.5h-13.8zM549.9 274.8l6.9 11.5h-13.8zM550.5 275l6.9 11.5h-13.8zM551.1 275.6l6.9 11.5h-13.8zM551.7 275l6.9 11.5h-13.8zM552.3 275.8l6.9 11.5h-13.8zM552.9 275.3l6.9 11.5h-13.8zM553.5 275.4l6.9 11.5h-13.8zM554.1 274.8l6.9 11.5h-13.8zM554.7 276l6.9 11.5h-13.8zM555.3 274.5l6.9 11.5h-13.8zM556 276.2l6.9 11.5h-13.8zM556.6 275.5l6.9 11.5h-13.8zM557.2 276.2l6.9 11.5h-13.8zM557.8 275.3l6.9 11.5h-13.8zM558.4 274.9l6.9 11.5h-13.8zM559 274.9l6.9 11.5h-13.8zM559.6 276l6.9 11.5h-13.8zM560.2 275.2l6.9 11.5h-13.8zM560.8 274.9l6.9 11.5h-13.8zM561.4 274.4l6.9 11.5h-13.8zM562 274.3l6.9 11.5h-13.8zM562.6 274.8l6.9 11.5h-13.8zM563.2 274.9l6.9 11.5h-13.8zM563.8 275.6l6.9 11.5h-13.8zM564.4 274.2l6.9 11.5h-13.8zM565 274.8l6.9 11.5h-13.8zM565.6 274.1l6.9 11.5h-13.8zM566.2 274.3l6.9 11.5h-13.8zM566.8 274.8l6.9 11.5h-13.8zM567.4 275.6l6.9 11.5h-13.8zM568 274l6.9 11.5h-13.8zM568.6 274.1l6.9 11.5h-13.8zM569.2 275.1l6.9 11.5h-13.8zM569.8 274.7l6.9 11.5h-13.8zM570.4 273.8l6.9 11.5h-13.8zM571 275l6.9 11.5h-13.8zM571.6 275.5l6.9 11.5h-13.8zM572.2 275.1l6.9 11.5h-13.8zM572.8 275.5l6.9 11.5h-13.8zM573.4 275l6.9 11.5h-13.8zM574 274.1l6.9 11.5h-13.8zM574.6 275.1l6.9 11.5h-13.8zM575.2 274.6l6.9 11.5h-13.8zM575.8 273.6l6.9 11.5h-13.8zM576.4 274.1l6.9 11.5h-13.8zM577 275.3l6.9 11.5h-13.8zM577.6 274.6l6.9 11.5h-13.8zM578.2 274l6.9 11.5h-13.8zM578.8 274.7l6.9 11.5h-13.8zM579.4 274.6l6.9 11.5h-13.8zM580 273.5l6.9 11.5h-13.8zM580.6 274.1l6.9 11.5h-13.8zM581.2 274.8l6.9 11.5h-13.8zM581.9 273.3l6.9 11.5h-13.8zM582.5 274.2l6.9 11.5h-13.8zM583.1 273.3l6.9 11.5h-13.8zM583.7 273.6l6.9 11.5h-13.8zM584.3 274.6l6.9 11.5h-13.8zM584.9 273.7l6.9 11.5h-13.8zM585.5 274.6l6.9 11.5h-13.8zM586.1 274.4l6.9 11.5h-13.8zM586.7 274.2l6.9 11.5h-13.8zM587.3 273.2l6.9 11.5h-13.8zM587.9 273.8l6.9 11.5h-13.8zM588.5 274.6l6.9 11.5h-13.8zM589.1 274.1l6.9 11.5h-13.8zM589.7 272.9l6.9 11.5h-13.8zM590.3 273.8l6.9 11.5h-13.8zM590.9 273.7l6.9 11.5h-13.8zM591.5 273.7l6.9 11.5h-13.8zM592.1 273.5l6.9 11.5h-13.8zM592.7 274.3l6.9 11.5h-13.8zM593.3 273.7l6.9 11.5h-13.8zM593.9 274.3l6.9 11.5h-13.8zM594.5 274.5l6.9 11.5h-13.8zM595.1 274.4l6.9 11.5h-13.8zM595.7 274.1l6.9 11.5h-13.8zM596.3 272.5l6.9 11.5h-13.8zM596.9 272.5l6.9 11.5h-13.8zM597.5 272.8l6.9 11.5h-13.8zM598.1 273.5l6.9 11.5h-13.8zM598.7 273l6.9 11.5h-13.8zM599.3 272.6l6.9 11.5h-13.8zM599.9 274.2l6.9 11.5h-13.8zM600.5 273.2l6.9 11.5h-13.8zM601.1 272.7l6.9 11.5h-13.8zM601.7 273.3l6.9 11.5h-13.8zM602.3 274.2l6.9 11.5h-13.8zM602.9 273.7l6.9 11.5h-13.8zM603.5 274.1l6.9 11.5h-13.8zM604.1 272.4l6.9 11.5h-13.8zM604.7 273.6l6.9 11.5h-13.8zM605.3 272.8l6.9 11.5h-13.8zM605.9 272.8l6.9 11.5h-13.8zM606.5 273l6.9 11.5h-13.8zM607.1 273l6.9 11.5h-13.8zM607.7 273.6l6.9 11.5h-13.8zM608.4 272.6l6.9 11.5h-13.8zM609 272.9l6.9 11.5h-13.8zM609.6 272.8l6.9 11.5h-13.8zM610.2 273.2l6.9 11.5h-13.8zM610.8 273l6.9 11.5h-13.8zM611.4 271.9l6.9 11.5h-13.8zM612 273.6l6.9 11.5h-13.8zM612.6 273.1l6.9 11.5h-13.8zM613.2 272.1l6.9 11.5h-13.8zM613.8 272.8l6.9 11.5h-13.8zM614.4 273.6l6.9 11.5h-13.8zM615 273.5l6.9 11.5h-13.8zM615.6 272.5l6.9 11.5h-13.8zM616.2 272.1l6.9 11.5h-13.8zM616.8 273.6l6.9 11.5h-13.8zM617.4 273.1l6.9 11.5h-13.8zM618 272.9l6.9 11.5h-13.8zM618.6 272.4l6.9 11.5h-13.8zM619.2 273.3l6.9 11.5h-13.8zM619.8 271.9l6.9 11.5h-13.8zM620.4 273.2l6.9 11.5h-13.8zM621 273.1l6.9 11.5h-13.8zM621.6 272.5l6.9 11.5h-13.8zM622.2 272.2l6.9 11.5h-13.8zM622.8 272.8l6.9 11.5h-13.8zM623.4 272.2l6.9 11.5h-13.8zM624 272.2l6.9 11.5h-13.8zM624.6 271.9l6.9 11.5h-13.8zM625.2 272.9l6.9 11.5h-13.8zM625.8 271.6l6.9 11.5h-13.8zM626.4 272.3l6.9 11.5h-13.8zM627 272.1l6.9 11.5h-13.8zM627.6 273.2l6.9 11.5h-13.8zM628.2 271.4l6.9 11.5h-13.8zM628.8 272.3l6.9 11.5h-13.8zM629.4 271.6l6.9 11.5h-13.8zM630 273l6.9 11.5h-13.8zM630.6 271.3l6.9 11.5h-13.8zM631.2 272.9l6.9 11.5h-13.8zM631.8 272.3l6.9 11.5h-13.8zM632.4 271.4l6.9 11.5h-13.8zM633 271.8l6.9 11.5h-13.8zM633.6 271.5l6.9 11.5h-13.8zM634.3 271.9l6.9 11.5h-13.8zM634.9 272.6l6.9 11.5h-13.8zM635.5 271.9l6.9 11.5h-13.8zM636.1 272.9l6.9 11.5h-13.8zM636.7 272.7l6.9 11.5h-13.8zM637.3 271.3l6.9 11.5h-13.8zM637.9 271.1l6.9 11.5h-13.8z"/><path fill="none" stroke="#f08080" stroke-width="2" d="M96.0 525.9 L96.1 524.7 L96.1 523.5 L96.1 522.3 L96.1 521.1 L96.1 519.9 L96.1 518.7 L96.2 517.5 L96.2 516.3 L96.2 515.1 L96.2 513.9 L96.2 512.7 L96.2 511.5 L96.2 510.3 L96.3 509.1 L96.3 507.9 L96.3 506.7 L96.3 505.5 L96.3 504.3 L96.3 503.1 L96.4 501.9 L96.4 500.7 L96.4 499.5 L96.4 498.3 L96.4 497.1 L96.4 495.9 L96.4 494.7 L96.5 493.5 L96.5 492.3 L96.5 491.1 L96.5 489.9 L96.6 488.7 L96.6 487.5 L96.6 486.3 L96.7 485.1 L96.7 483.9 L96.8 482.7 L96.8 481.5 L96.9 480.3 L96.9 479.1 L97.0 477.9 L97.0 476.7 L97.1 475.5 L97.1 474.3 L97.2 473.1 L97.2 471.9 L97.3 470.7 L97.3 469.5 L97.4 468.3 L97.4 467.1 L97.5 465.9 L97.5 464.7 L97.6 463.5 L97.7 462.3 L97.8 461.1 L97.9 459.9 L98.0 458.7 L98.1 457.5 L98.1 456.3 L98.2 455.2 L98.3 454.0 L98.4 452.8 L98.5 451.6 L98.6 450.4 L98.7 449.2 L98.8 448.0 L98.9 446.8 L99.0 445.6 L99.1 444.4 L99.3 443.2 L99.6 442.0 L99.8 440.9 L100.0 439.7 L100.3 438.5 L100.5 437.3 L100.7 436.1 L101.0 435.0 L101.2 433.8 L101.4 432.6 L101.7 431.4 L101.9 430.3 L102.2 429.1 L102.5 427.9 L102.8 426.8 L103.1 425.6 L103.4 424.5 L103.7 423.3 L104.0 422.1 L104.4 421.0 L104.7 419.8 L105.1 418.7 L105.4 417.5 L105.8 416.4 L106.2 415.3 L106.6 414.1 L107.0 413.0 L107.4 411.9 L107.8 410.8 L108.2 409.6 L108.7 408.5 L109.1 407.4 L109.6 406.3 L110.1 405.2 L110.6 404.1 L111.1 403.0 L111.6 401.9 L112.1 400.8 L112.6 399.8 L113.2 398.7 L113.7 397.6 L114.3 396.6 L114.9 395.5 L115.5 394.5 L116.1 393.4 L116.7 392.4 L117.3 391.4 L117.9 390.4 L118.6 389.4 L119.2 388.4 L119.9 387.4 L120.6 386.4 L121.3 385.4 L122.0 384.4 L122.7 383.5 L123.5 382.5 L124.2 381.6 L124.9 380.6 L125.7 379.7 L126.5 378.8 L127.3 377.9 L128.1 377.0 L128.9 376.1 L129.7 375.2 L130.5 374.3 L131.3 373.5 L132.2 372.6 L133.0 371.8 L133.9 371.0 L134.8 370.1 L135.7 369.3 L136.5 368.5 L137.4 367.7 L138.4 366.9 L139.3 366.1 L140.2 365.4 L141.1 364.6 L142.1 363.9 L143.0 363.1 L144.0 362.4 L144.9 361.7 L145.9 361.0 L146.8 360.3 L147.8 359.6 L148.8 358.9 L149.8 358.2 L150.8 357.5 L151.8 356.9 L152.8 356.2 L153.8 355.6 L154.8 354.9 L155.9 354.3 L156.9 353.7 L157.9 353.1 L158.9 352.5 L160.0 351.9 L161.0 351.3 L162.1 350.7 L163.1 350.1 L164.2 349.5 L165.2 349.0 L166.3 348.4 L167.4 347.9 L168.4 347.3 L169.5 346.8 L170.6 346.3 L171.7 345.7 L172.8 345.2 L173.8 344.7 L174.9 344.2 L176.0 343.7 L177.1 343.2 L178.2 342.7 L179.3 342.2 L180.4 341.7 L181.5 341.3 L182.6 340.8 L183.7 340.3 L184.8 339.9 L185.9 339.4 L187.0 339.0 L188.2 338.5 L189.3 338.1 L190.4 337.6 L191.5 337.2 L192.6 336.8 L193.8 336.4 L194.9 336.0 L196.0 335.5 L197.1 335.1 L198.3 334.7 L199.4 334.3 L200.5 333.9 L201.7 333.5 L202.8 333.1 L203.9 332.8 L205.1 332.4 L206.2 332.0 L207.4 331.6 L208.5 331.3 L209.6 330.9 L210.8 330.5 L211.9 330.2 L213.1 329.8 L214.2 329.4 L215.4 329.1 L216.5 328.7 L217.7 328.4 L218.8 328.1 L220.0 327.7 L221.1 327.4 L222.3 327.0 L223.4 326.7 L224.6 326.4 L225.7 326.1 L226.9 325.7 L228.0 325.4 L229.2 325.1 L230.4 324.8 L231.5 324.5 L232.7 324.2 L233.8 323.9 L235.0 323.6 L236.2 323.3 L237.3 323.0 L238.5 322.7 L239.6 322.4 L240.8 322.1 L242.0 321.8 L243.1 321.5 L244.3 321.2 L245.5 320.9 L246.6 320.6 L247.8 320.4 L249.0 320.1 L250.1 319.8 L251.3 319.5 L252.5 319.3 L253.6 319.0 L254.8 318.7 L256.0 318.5 L257.2 318.2 L258.3 317.9 L259.5 317.7 L260.7 317.4 L261.8 317.2 L263.0 316.9 L264.2 316.7 L265.4 316.4 L266.5 316.2 L267.7 315.9 L268.9 315.7 L270.1 315.4 L271.2 315.2 L272.4 314.9 L273.6 314.7 L274.8 314.5 L275.9 314.2 L277.1 314.0 L278.3 313.7 L279.5 313.5 L280.6 313.3 L281.8 313.1 L283.0 312.8 L284.2 312.6 L285.4 312.4 L286.5 312.2 L287.7 311.9 L288.9 311.7 L290.1 311.5 L291.3 311.3 L292.4 311.1 L293.6 310.8 L294.8 310.6 L296.0 310.4 L297.2 310.2 L298.3 310.0 L299.5 309.8 L300.7 309.6 L301.9 309.4 L303.1 309.2 L304.3 309.0 L305.4 308.7 L306.6 308.5 L307.8 308.3 L309.0 308.1 L310.2 307.9 L311.4 307.7 L312.5 307.5 L313.7 307.4 L314.9 307.2 L316.1 307.0 L317.3 306.8 L318.5 306.6 L319.6 306.4 L320.8 306.2 L322.0 306.0 L323.2 305.8 L324.4 305.6 L325.6 305.4 L326.8 305.3 L327.9 305.1 L329.1 304.9 L330.3 304.7 L331.5 304.5 L332.7 304.4 L333.9 304.2 L335.1 304.0 L336.2 303.8 L337.4 303.6 L338.6 303.5 L339.8 303.3 L341.0 303.1 L342.2 302.9 L343.4 302.8 L344.6 302.6 L345.7 302.4 L346.9 302.3 L348.1 302.1 L349.3 301.9 L350.5 301.8 L351.7 301.6 L352.9 301.4 L354.1 301.3 L355.2 301.1 L356.4 300.9 L357.6 300.8 L358.8 300.6 L360.0 300.4 L361.2 300.3 L362.4 300.1 L363.6 300.0 L364.8 299.8 L366.0 299.6 L367.1 299.5 L368.3 299.3 L369.5 299.2 L370.7 299.0 L371.9 298.9 L373.1 298.7 L374.3 298.6 L375.5 298.4 L376.7 298.3 L377.9 298.1 L379.0 297.9 L380.2 297.8 L381.4 297.6 L382.6 297.5 L383.8 297.4 L385.0 297.2 L386.2 297.1 L387.4 296.9 L388.6 296.8 L389.8 296.6 L391.0 296.5 L392.1 296.3 L393.3 296.2 L394.5 296.0 L395.7 295.9 L396.9 295.8 L398.1 295.6 L399.3 295.5 L400.5 295.3 L401.7 295.2 L402.9 295.1 L404.1 294.9 L405.3 294.8 L406.4 294.6 L407.6 294.5 L408.8 294.4 L410.0 294.2 L411.2 294.1 L412.4 294.0 L413.6 293.8 L414.8 293.7 L416.0 293.6 L417.2 293.4 L418.4 293.3 L419.6 293.2 L420.8 293.0 L421.9 292.9 L423.1 292.8 L424.3 292.7 L425.5 292.5 L426.7 292.4 L427.9 292.3 L429.1 292.1 L430.3 292.0 L431.5 291.9 L432.7 291.8 L433.9 291.6 L435.1 291.5 L436.3 291.4 L437.5 291.3 L438.7 291.1 L439.8 291.0 L441.0 290.9 L442.2 290.8 L443.4 290.6 L444.6 290.5 L445.8 290.4 L447.0 290.3 L448.2 290.2 L449.4 290.0 L450.6 289.9 L451.8 289.8 L453.0 289.7 L454.2 289.6 L455.4 289.4 L456.6 289.3 L457.8 289.2 L458.9 289.1 L460.1 289.0 L461.3 288.8 L462.5 288.7 L463.7 288.6 L464.9 288.5 L466.1 288.4 L467.3 288.3 L468.5 288.2 L469.7 288.0 L470.9 287.9 L472.1 287.8 L473.3 287.7 L474.5 287.6 L475.7 287.5 L476.9 287.4 L478.1 287.3 L479.3 287.1 L480.5 287.0 L481.6 286.9 L482.8 286.8 L484.0 286.7 L485.2 286.6 L486.4 286.5 L487.6 286.4 L488.8 286.3 L490.0 286.2 L491.2 286.1 L492.4 285.9 L493.6 285.8 L494.8 285.7 L496.0 285.6 L497.2 285.5 L498.4 285.4 L499.6 285.3 L500.8 285.2 L502.0 285.1 L503.2 285.0 L504.4 284.9 L505.6 284.8 L506.7 284.7 L507.9 284.6 L509.1 284.5 L510.3 284.4 L511.5 284.3 L512.7 284.2 L513.9 284.1 L515.1 284.0 L516.3 283.9 L517.5 283.8 L518.7 283.7 L519.9 283.6 L521.1 283.5 L522.3 283.4 L523.5 283.3 L524.7 283.2 L525.9 283.1 L527.1 283.0 L528.3 282.9 L529.5 282.8 L530.7 282.7 L531.9 282.6 L533.1 282.5 L534.3 282.4 L535.4 282.3 L536.6 282.2 L537.8 282.1 L539.0 282.0 L540.2 281.9 L541.4 281.8 L542.6 281.7 L543.8 281.6 L545.0 281.5 L546.2 281.4 L547.4 281.3 L548.6 281.2 L549.8 281.2 L551.0 281.1 L552.2 281.0 L553.4 280.9 L554.6 280.8 L555.8 280.7 L557.0 280.6 L558.2 280.5 L559.4 280.4 L560.6 280.3 L561.8 280.2 L563.0 280.1 L564.2 280.0 L565.4 280.0 L566.6 279.9 L567.8 279.8 L568.9 279.7 L570.1 279.6 L571.3 279.5 L572.5 279.4 L573.7 279.3 L574.9 279.2 L576.1 279.2 L577.3 279.1 L578.5 279.0 L579.7 278.9 L580.9 278.8 L582.1 278.7 L583.3 278.6 L584.5 278.5 L585.7 278.5 L586.9 278.4 L588.1 278.3 L589.3 278.2 L590.5 278.1 L591.7 278.0 L592.9 277.9 L594.1 277.9 L595.3 277.8 L596.5 277.7 L597.7 277.6 L598.9 277.5 L600.1 277.4 L601.3 277.3 L602.5 277.3 L603.7 277.2 L604.9 277.1 L606.1 277.0 L607.2 276.9 L608.4 276.8 L609.6 276.8 L610.8 276.7 L612.0 276.6 L613.2 276.5 L614.4 276.4 L615.6 276.4 L616.8 276.3 L618.0 276.2 L619.2 276.1 L620.4 276.0 L621.6 276.0 L622.8 275.9 L624.0 275.8 L625.2 275.7 L626.4 275.6 L627.6 275.6 L628.8 275.5 L630.0 275.4 L631.2 275.3 L632.4 275.2 L633.6 275.2 L634.8 275.1 L636.0 275.0 L637.2 274.9"/><path fill="#008080" d="M91 520.5h11v11h-11zM91.9 461.7h11v11h-11zM91.8 446.9h11v11h-11zM92.4 441.3h11v11h-11zM93 437.9h11v11h-11zM93.6 435.5h11v11h-11zM94.2 433.7h11v11h-11zM94.8 432.2h11v11h-11zM95.4 431h11v11h-11zM96 429.9h11v11h-11zM96.6 428.9h11v11h-11zM97.2 428h11v11h-11zM97.8 427.2h11v11h-11zM98.4 426.5h11v11h-11zM99 425.7h11v11h-11zM99.6 425.1h11v11h-11zM100.2 424.4h11v11h-11zM100.8 423.8h11v11h-11zM101.4 423.2h11v11h-11zM102 422.7h11v11h-11zM102.6 422.1h11v11h-11zM103.2 421.6h11v11h-11zM103.8 421.1h11v11h-11zM104.4 420.6h11v11h-11zM105.1 420.1h11v11h-11zM105.7 419.6h11v11h-11zM106.3 419.2h11v11h-11zM106.9 418.7h11v11h-11zM107.5 418.3h11v11h-11zM108.1 417.9h11v11h-11zM108.7 417.4h11v11h-11zM109.3 417h11v11h-11zM109.9 416.6h11v11h-11zM110.5 416.1h11v11h-11zM111.1 415.8h11v11h-11zM111.7 415.5h11v11h-11zM112.3 414.9h11v11h-11zM112.9 414.7h11v11h-11zM113.5 414.2h11v11h-11zM114.1 413.9h11v11h-11zM114.7 413.6h11v11h-11zM115.3 413h11v11h-11zM115.9 412.9h11v11h-11zM116.5 412.5h11v11h-11zM117.1 412.1h11v11h-11zM117.7 411.8h11v11h-11zM118.3 411.3h11v11h-11zM118.9 411.1h11v11h-11zM119.5 410.9h11v11h-11zM120.1 410.2h11v11h-11zM120.7 410.2h11v11h-11zM121.3 409.7h11v11h-11zM121.9 409.4h11v11h-11zM122.5 408.9h11v11h-11zM123.1 408.9h11v11h-11zM123.7 408.3h11v11h-11zM124.3 408.4h11v11h-11zM124.9 407.7h11v11h-11zM125.5 407.6h11v11h-11zM126.1 407.2h11v11h-11zM126.7 407h11v11h-11zM127.3 406.5h11v11h-11zM127.9 406.2h11v11h-11zM128.5 406.3h11v11h-11zM129.1 406h11v11h-11zM129.7 405.6h11v11h-11zM130.3 405.6h11v11h-11zM130.9 404.8h11v11h-11zM131.6 405h11v11h-11zM132.2 404.2h11v11h-11zM132.8 404.6h11v11h-11zM133.4 404.1h11v11h-11zM134 403.8h11v11h-11zM134.6 403.9h11v11h-11zM135.2 403.5h11v11h-11zM135.8 403.2h11v11h-11zM136.4 402.3h11v11h-11zM137 402.3h11v11h-11zM137.6 401.8h11v11h-11zM138.2 401.7h11v11h-11zM138.8 401.5h11v11h-11zM139.4 401.9h11v11h-11zM140 400.9h11v11h-11zM140.6 400.8h11v11h-11zM141.2 400.8h11v11h-11zM141.8 401h11v11h-11zM142.4 400.9h11v11h-11zM143 400.4h11v11h-11zM143.6 399.6h11v11h-11zM144.2 399.8h11v11h-11zM144.8 399.8h11v11h-11zM145.4 398.8h11v11h-11zM146 399.3h11v11h-11zM146.6 398.7h11v11h-11zM147.2 398.8h11v11h-11zM147.8 398.7h11v11h-11zM148.4 398.5h11v11h-11zM149 398.1h11v11h-11zM149.6 397.9h11v11h-11zM150.2 397.3h11v11h-11zM150.8 397.5h11v11h-11zM151.4 396.8h11v11h-11zM152 397.1h11v11h-11zM152.6 396.9h11v11h-11zM153.2 397h11v11h-11zM153.8 396.4h11v11h-11zM154.4 395.7h11v11h-11zM155 396.2h11v11h-11zM155.6 395.6h11v11h-11zM156.2 396.1h11v11h-11zM156.8 395.5h11v11h-11zM157.5 395.3h11v11h-11zM158.1 395.7h11v11h-11zM158.7 394.9h11v11h-11zM159.3 394.7h11v11h-11zM159.9 394.5h11v11h-11zM160.5 394.5h11v11h-11zM161.1 393.9h11v11h-11zM161.7 394.2h11v11h-11zM162.3 394.5h11v11h-11zM162.9 393.9h11v11h-11zM163.5 394h11v11h-11zM164.1 394.1h11v11h-11zM164.7 393.8h11v11h-11zM165.3 393.5h11v11h-11zM165.9 393.4h11v11h-11zM166.5 393.3h11v11h-11zM167.1 392.4h11v11h-11zM167.7 392.5h11v11h-11zM168.3 392.2h11v11h-11zM168.9 392h11v11h-11zM169.5 392.2h11v11h-11zM170.1 391.7h11v11h-11zM170.7 391.9h11v11h-11zM171.3 391.7h11v11h-11zM171.9 391h11v11h-11zM172.5 391.3h11v11h-11zM173.1 391.1h11v11h-11zM173.7 391.3h11v11h-11zM174.3 390.4h11v11h-11zM174.9 390.4h11v11h-11zM175.5 390.6h11v11h-11zM176.1 390.3h11v11h-11zM176.7 390.5h11v11h-11zM177.3 390h11v11h-11zM177.9 389.7h11v11h-11zM178.5 390.4h11v11h-11zM179.1 389.5h11v11h-11zM179.7 389.2h11v11h-11zM180.3 389.2h11v11h-11zM180.9 389.2h11v11h-11zM181.5 388.9h11v11h-11zM182.1 389.1h11v11h-11zM182.7 389.5h11v11h-11zM183.3 388.4h11v11h-11zM184 388.6h11v11h-11zM184.6 388.7h11v11h-11zM185.2 388.9h11v11h-11zM185.8 388.9h11v11h-11zM186.4 387.7h11v11h-11zM187 388.1h11v11h-11zM187.6 388.4h11v11h-11zM188.2 387.2h11v11h-11zM188.8 387.8h11v11h-11zM189.4 387.1h11v11h-11zM190 387.7h11v11h-11zM190.6 387.8h11v11h-11zM191.2 387.2h11v11h-11zM191.8 386.5h11v11h-11zM192.4 386.4h11v11h-11zM193 386.7h11v11h-11zM193.6 387.1h11v11h-11zM194.2 386.2h11v11h-11zM194.8 386.6h11v11h-11zM195.4 386.2h11v11h-11zM196 385.9h11v11h-11zM196.6 386.3h11v11h-11zM197.2 385.7h11v11h-11zM197.8 385.7h11v11h-11zM198.4 386.1h11v11h-11zM199 385.6h11v11h-11zM199.6 385.9h11v11h-11zM200.2 385.4h11v11h-11zM200.8 384.9h11v11h-11zM201.4 385.1h11v11h-11zM202 385.5h11v11h-11zM202.6 385h11v11h-11zM203.2 385.4h11v11h-11zM203.8 384.2h11v11h-11zM204.4 384.4h11v11h-11zM205 384.9h11v11h-11zM205.6 384.6h11v11h-11zM206.2 384.4h11v11h-11zM206.8 384.4h11v11h-11zM207.4 384.6h11v11h-11zM208 384.2h11v11h-11zM208.6 384h11v11h-11zM209.2 383.9h11v11h-11zM209.9 383.9h11v11h-11zM210.5 383.4h11v11h-11zM211.1 383.7h11v11h-11zM211.7 383.5h11v11h-11zM212.3 383.6h11v11h-11zM212.9 383.2h11v11h-11zM213.5 382.5h11v11h-11zM214.1 383h11v11h-11zM214.7 383.3h11v11h-11zM215.3 383h11v11h-11zM215.9 382.9h11v11h-11zM216.5 382.5h11v11h-11zM217.1 382.3h11v11h-11zM217.7 382.7h11v11h-11zM218.3 381.8h11v11h-11zM218.9 382.6h11v11h-11zM219.5 382.6h11v11h-11zM220.1 382.6h11v11h-11zM220.7 381.5h11v11h-11zM221.3 381.4h11v11h-11zM221.9 382.2h11v11h-11zM222.5 381.5h11v11h-11zM223.1 381.3h11v11h-11zM223.7 381.3h11v11h-11zM224.3 381.6h11v11h-11zM224.9 380.9h11v11h-11zM225.5 381.2h11v11h-11zM226.1 381.3h11v11h-11zM226.7 381.3h11v11h-11zM227.3 380.3h11v11h-11zM227.9 381.2h11v11h-11zM228.5 380.7h11v11h-11zM229.1 380.6h11v11h-11zM229.7 380.7h11v11h-11zM230.3 380.2h11v11h-11zM230.9 380.9h11v11h-11zM231.5 380h11v11h-11zM232.1 380.3h11v11h-11zM232.7 379.8h11v11h-11zM233.3 380.2h11v11h-11zM233.9 380.5h11v11h-11zM234.5 380.4h11v11h-11zM235.1 379.4h11v11h-11zM235.7 379.9h11v11h-11zM236.4 380.1h11v11h-11zM237 379.2h11v11h-11zM237.6 379.4h11v11h-11zM238.2 379.7h11v11h-11zM238.8 379.6h11v11h-11zM239.4 379.2h11v11h-11zM240 379.3h11v11h-11zM240.6 379.3h11v11h-11zM241.2 378.8h11v11h-11zM241.8 379.1h11v11h-11zM242.4 378.9h11v11h-11zM243 379h11v11h-11zM243.6 378.7h11v11h-11zM244.2 378.4h11v11h-11zM244.8 378.5h11v11h-11zM245.4 379h11v11h-11zM246 378h11v11h-11zM246.6 377.9h11v11h-11zM247.2 377.6h11v11h-11zM247.8 378.6h11v11h-11zM248.4 378.7h11v11h-11zM249 377.7h11v11h-11zM249.6 377.6h11v11h-11zM250.2 377.5h11v11h-11zM250.8 377.9h11v11h-11zM251.4 377.7h11v11h-11zM252 378h11v11h-11zM252.6 377.2h11v11h-11zM253.2 377.9h11v11h-11zM253.8 377.4h11v11h-11zM254.4 377.7h11v11h-11zM255 377.6h11v11h-11zM255.6 377.7h11v11h-11zM256.2 377.1h11v11h-11zM256.8 377.2h11v11h-11zM257.4 377.1h11v11h-11zM258 376.5h11v11h-11zM258.6 376.9h11v11h-11zM259.2 377.3h11v11h-11zM259.8 377.2h11v11h-11zM260.4 376.1h11v11h-11zM261 376.8h11v11h-11zM261.6 376.3h11v11h-11zM262.3 376h11v11h-11zM262.9 375.9h11v11h-11zM263.5 376.7h11v11h-11zM264.1 376.8h11v11h-11zM264.7 376.2h11v11h-11zM265.3 376h11v11h-11zM265.9 376h11v11h-11zM266.5 376.4h11v11h-11zM267.1 376.2h11v11h-11zM267.7 375.3h11v11h-11zM268.3 375.4h11v11h-11zM268.9 376.1h11v11h-11zM269.5 375.6h11v11h-11zM270.1 375.8h11v11h-11zM270.7 375.8h11v11h-11zM271.3 375.6h11v11h-11zM271.9 375.7h11v11h-11zM272.5 375.4h11v11h-11zM273.1 374.9h11v11h-11zM273.7 374.8h11v11h-11zM274.3 375.7h11v11h-11zM274.9 374.5h11v11h-11zM275.5 375.2h11v11h-11zM276.1 375.4h11v11h-11zM276.7 374.6h11v11h-11zM277.3 374.3h11v11h-11zM277.9 374.6h11v11h-11zM278.5 374.5h11v11h-11zM279.1 374.6h11v11h-11zM279.7 374.5h11v11h-11zM280.3 375h11v11h-11zM280.9 374h11v11h-11zM281.5 374.9h11v11h-11zM282.1 373.8h11v11h-11zM282.7 374.8h11v11h-11zM283.3 374h11v11h-11zM283.9 374.4h11v11h-11zM284.5 373.5h11v11h-11zM285.1 374h11v11h-11zM285.7 374.2h11v11h-11zM286.3 374.1h11v11h-11zM286.9 374.2h11v11h-11zM287.5 373.4h11v11h-11zM288.2 373.6h11v11h-11zM288.8 373.8h11v11h-11zM289.4 373.1h11v11h-11zM290 374h11v11h-11zM290.6 373.4h11v11h-11zM291.2 373.2h11v11h-11zM291.8 373.1h11v11h-11zM292.4 373.5h11v11h-11zM293 372.8h11v11h-11zM293.6 373h11v11h-11zM294.2 373h11v11h-11zM294.8 372.9h11v11h-11zM295.4 373.4h11v11h-11zM296 373.2h11v11h-11zM296.6 373.5h11v11h-11zM297.2 373.2h11v11h-11zM297.8 372.6h11v11h-11zM298.4 372.6h11v11h-11zM299 372.3h11v11h-11zM299.6 372.4h11v11h-11zM300.2 372.8h11v11h-11zM300.8 372.9h11v11h-11zM301.4 372.3h11v11h-11zM302 372.3h11v11h-11zM302.6 372.8h11v11h-11zM303.2 373h11v11h-11zM303.8 371.9h11v11h-11zM304.4 371.8h11v11h-11zM305 372.6h11v11h-11zM305.6 372.2h11v11h-11zM306.2 372.1h11v11h-11zM306.8 372.3h11v11h-11zM307.4 372.4h11v11h-11zM308 371.5h11v11h-11zM308.6 372.5h11v11h-11zM309.2 372.4h11v11h-11zM309.8 371.7h11v11h-11zM310.4 371.8h11v11h-11zM311 371.5h11v11h-11zM311.6 371.8h11v11h-11zM312.2 371.3h11v11h-11zM312.8 371.6h11v11h-11zM313.4 372h11v11h-11zM314 371.5h11v11h-11zM314.7 371.8h11v11h-11zM315.3 371h11v11h-11zM315.9 371.8h11v11h-11zM316.5 370.9h11v11h-11zM317.1 370.9h11v11h-11zM317.7 371.5h11v11h-11zM318.3 370.9h11v11h-11zM318.9 370.7h11v11h-11zM319.5 370.6h11v11h-11zM320.1 371.4h11v11h-11zM320.7 370.4h11v11h-11zM321.3 370.4h11v11h-11zM321.9 371.4h11v11h-11zM322.5 371.2h11v11h-11zM323.1 370.6h11v11h-11zM323.7 370.4h11v11h-11zM324.3 371.1h11v11h-11zM324.9 371h11v11h-11zM325.5 370.8h11v11h-11zM326.1 370.6h11v11h-11zM326.7 370.6h11v11h-11zM327.3 371.1h11v11h-11zM327.9 370.5h11v11h-11zM328.5 369.9h11v11h-11zM329.1 369.8h11v11h-11zM329.7 370.4h11v11h-11zM330.3 370.5h11v11h-11zM330.9 370.4h11v11h-11zM331.5 370.5h11v11h-11zM332.1 369.9h11v11h-11zM332.7 369.9h11v11h-11zM333.3 369.8h11v11h-11zM333.9 369.8h11v11h-11zM334.5 369.7h11v11h-11zM335.1 370.3h11v11h-11zM335.7 369.5h11v11h-11zM336.3 369.5h11v11h-11zM336.9 370h11v11h-11zM337.5 369.6h11v11h-11zM338.1 369.5h11v11h-11zM338.7 370.2h11v11h-11zM339.3 370.1h11v11h-11zM339.9 369.2h11v11h-11zM340.6 369.1h11v11h-11zM341.2 369.5h11v11h-11zM341.8 369.5h11v11h-11zM342.4 369.2h11v11h-11zM343 369.5h11v11h-11zM343.6 369.5h11v11h-11zM344.2 369.7h11v11h-11zM344.8 368.9h11v11h-11zM345.4 369.4h11v11h-11zM346 368.6h11v11h-11zM346.6 368.6h11v11h-11zM347.2 368.6h11v11h-11zM347.8 368.6h11v11h-11zM348.4 369.3h11v11h-11zM349 368.8h11v11h-11zM349.6 368.9h11v11h-11zM350.2 368.8h11v11h-11zM350.8 368.5h11v11h-11zM351.4 368.3h11v11h-11zM352 368.4h11v11h-11zM352.6 369.2h11v11h-11zM353.2 368.5h11v11h-11zM353.8 368.6h11v11h-11zM354.4 368.3h11v11h-11zM355 368.9h11v11h-11zM355.6 368.8h11v11h-11zM356.2 368.4h11v11h-11zM356.8 368.5h11v11h-11zM357.4 368.3h11v11h-11zM358 368.5h11v11h-11zM358.6 368.5h11v11h-11zM359.2 368.4h11v11h-11zM359.8 368.8h11v11h-11zM360.4 368.8h11v11h-11zM361 367.7h11v11h-11zM361.6 368h11v11h-11zM362.2 367.6h11v11h-11zM362.8 367.9h11v11h-11zM363.4 368.4h11v11h-11zM364 368.2h11v11h-11zM364.6 368.1h11v11h-11zM365.2 367.5h11v11h-11zM365.8 368.3h11v11h-11zM366.4 368h11v11h-11zM367.1 367.6h11v11h-11zM367.7 368.1h11v11h-11zM368.3 367.2h11v11h-11zM368.9 367.4h11v11h-11zM369.5 368h11v11h-11zM370.1 367.1h11v11h-11zM370.7 367.2h11v11h-11zM371.3 367.6h11v11h-11zM371.9 367.8h11v11h-11zM372.5 367.6h11v11h-11zM373.1 366.9h11v11h-11zM373.7 367.2h11v11h-11zM374.3 367.7h11v11h-11zM374.9 367.2h11v11h-11zM375.5 367h11v11h-11zM376.1 366.7h11v11h-11zM376.7 367h11v11h-11zM377.3 367.8h11v11h-11zM377.9 366.7h11v11h-11zM378.5 367.3h11v11h-11zM379.1 367.6h11v11h-11zM379.7 367.4h11v11h-11zM380.3 366.8h11v11h-11zM380.9 367.2h11v11h-11zM381.5 366.6h11v11h-11zM382.1 367h11v11h-11zM382.7 366.7h11v11h-11zM383.3 367.4h11v11h-11zM383.9 367.3h11v11h-11zM384.5 367.2h11v11h-11zM385.1 366.7h11v11h-11zM385.7 367.1h11v11h-11zM386.3 367.3h11v11h-11zM386.9 366.6h11v11h-11zM387.5 366.7h11v11h-11zM388.1 366.3h11v11h-11zM388.7 366.2h11v11h-11zM389.3 366.9h11v11h-11zM389.9 366h11v11h-11zM390.5 366.7h11v11h-11zM391.1 366h11v11h-11zM391.7 366.7h11v11h-11zM392.3 366.7h11v11h-11zM393 366.9h11v11h-11zM393.6 366.3h11v11h-11zM394.2 366.2h11v11h-11zM394.8 366.2h11v11h-11zM395.4 366.5h11v11h-11zM396 366.6h11v11h-11zM396.6 365.8h11v11h-11zM397.2 366h11v11h-11zM397.8 365.6h11v11h-11zM398.4 365.8h11v11h-11zM399 366.4h11v11h-11zM399.6 366.6h11v11h-11zM400.2 366.6h11v11h-11zM400.8 365.5h11v11h-11zM401.4 365.9h11v11h-11zM402 366.4h11v11h-11zM402.6 365.9h11v11h-11zM403.2 365.7h11v11h-11zM403.8 366.2h11v11h-11zM404.4 366.3h11v11h-11zM405 365.4h11v11h-11zM405.6 365.8h11v11h-11zM406.2 365.3h11v11h-11zM406.8 365.3h11v11h-11zM407.4 365.7h11v11h-11zM408 365.4h11v11h-11zM408.6 366h11v11h-11zM409.2 365.4h11v11h-11zM409.8 365.2h11v11h-11zM410.4 365.7h11v11h-11zM411 365.2h11v11h-11zM411.6 365h11v11h-11zM412.2 366.1h11v11h-11zM412.8 365.1h11v11h-11zM413.4 365h11v11h-11zM414 365.4h11v11h-11zM414.6 364.8h11v11h-11zM415.2 365.7h11v11h-11zM415.8 364.8h11v11h-11zM416.4 364.7h11v11h-11zM417 365.8h11v11h-11zM417.6 365.2h11v11h-11zM418.2 365.7h11v11h-11zM418.8 365.6h11v11h-11zM419.5 365.4h11v11h-11zM420.1 364.5h11v11h-11zM420.7 365.2h11v11h-11zM421.3 364.5h11v11h-11zM421.9 364.4h11v11h-11zM422.5 365.4h11v11h-11zM423.1 364.7h11v11h-11zM423.7 365.2h11v11h-11zM424.3 365h11v11h-11zM424.9 365.2h11v11h-11zM425.5 365h11v11h-11zM426.1 365.4h11v11h-11zM426.7 364.8h11v11h-11zM427.3 365.2h11v11h-11zM427.9 365.1h11v11h-11zM428.5 364.8h11v11h-11zM429.1 364.7h11v11h-11zM429.7 364.6h11v11h-11zM430.3 364.8h11v11h-11zM430.9 364.3h11v11h-11zM431.5 364.5h11v11h-11zM432.1 364.8h11v11h-11zM432.7 364.3h11v11h-11zM433.3 364.2h11v11h-11zM433.9 364h11v11h-11zM434.5 364.8h11v11h-11zM435.1 364.9h11v11h-11zM435.7 364.8h11v11h-11zM436.3 364.6h11v11h-11zM436.9 364.5h11v11h-11zM437.5 363.8h11v11h-11zM438.1 364.8h11v11h-11zM438.7 364.3h11v11h-11zM439.3 364.5h11v11h-11zM439.9 363.8h11v11h-11zM440.5 364.5h11v11h-11zM441.1 363.8h11v11h-11zM441.7 364.7h11v11h-11zM442.3 364.4h11v11h-11zM442.9 364.2h11v11h-11zM443.5 364.3h11v11h-11zM444.1 363.8h11v11h-11zM444.7 364.1h11v11h-11zM445.4 363.5h11v11h-11zM446 363.8h11v11h-11zM446.6 363.7h11v11h-11zM447.2 363.6h11v11h-11zM447.8 363.8h11v11h-11zM448.4 363.4h11v11h-11zM449 363.3h11v11h-11zM449.6 363.7h11v11h-11zM450.2 364.4h11v11h-11zM450.8 364.1h11v11h-11zM451.4 363.7h11v11h-11zM452 363.4h11v11h-11zM452.6 363.3h11v11h-11zM453.2 363.6h11v11h-11zM453.8 363.9h11v11h-11zM454.4 364.1h11v11h-11zM455 363.6h11v11h-11zM455.6 364.1h11v11h-11zM456.2 364h11v11h-11zM456.8 364h11v11h-11zM457.4 363.4h11v11h-11zM458 363.5h11v11h-11zM458.6 363.1h11v11h-11zM459.2 363.6h11v11h-11zM459.8 362.9h11v11h-11zM460.4 363.4h11v11h-11zM461 363h11v11h-11zM461.6 363.4h11v11h-11zM462.2 363h11v11h-11zM462.8 362.8h11v11h-11zM463.4 363.3h11v11h-11zM464 363.2h11v11h-11zM464.6 363.4h11v11h-11zM465.2 362.8h11v11h-11zM465.8 363.3h11v11h-11zM466.4 363h11v11h-11zM467 362.7h11v11h-11zM467.6 363.1h11v11h-11zM468.2 363.4h11v11h-11zM468.8 362.9h11v11h-11zM469.4 363.4h11v11h-11zM470 363.5h11v11h-11zM470.6 362.5h11v11h-11zM471.2 362.7h11v11h-11zM471.9 362.8h11v11h-11zM472.5 363.1h11v11h-11zM473.1 363h11v11h-11zM473.7 363.1h11v11h-11zM474.3 362.5h11v11h-11zM474.9 362.7h11v11h-11zM475.5 362.5h11v11h-11zM476.1 363.2h11v11h-11zM476.7 363.1h11v11h-11zM477.3 362.6h11v11h-11zM477.9 363.3h11v11h-11zM478.5 362.4h11v11h-11zM479.1 362.2h11v11h-11zM479.7 362.6h11v11h-11zM480.3 363h11v11h-11zM480.9 363.3h11v11h-11zM481.5 362.7h11v11h-11zM482.1 362.3h11v11h-11zM482.7 362.8h11v11h-11zM483.3 362.1h11v11h-11zM483.9 363h11v11h-11zM484.5 362.4h11v11h-11zM485.1 362.1h11v11h-11zM485.7 362.2h11v11h-11zM486.3 363h11v11h-11zM486.9 363h11v11h-11zM487.5 362.1h11v11h-11zM488.1 363.1h11v11h-11zM488.7 362.9h11v11h-11zM489.3 362.3h11v11h-11zM489.9 361.9h11v11h-11zM490.5 362h11v11h-11zM491.1 362.3h11v11h-11zM491.7 362h11v11h-11zM492.3 362h11v11h-11zM492.9 362.1h11v11h-11zM493.5 362.8h11v11h-11zM494.1 361.8h11v11h-11zM494.7 362.8h11v11h-11zM495.3 362.2h11v11h-11zM495.9 362.5h11v11h-11zM496.5 362.3h11v11h-11zM497.1 362.7h11v11h-11zM497.8 361.8h11v11h-11zM498.4 361.9h11v11h-11zM499 362.2h11v11h-11zM499.6 362.2h11v11h-11zM500.2 361.9h11v11h-11zM500.8 361.9h11v11h-11zM501.4 361.6h11v11h-11zM502 362.1h11v11h-11zM502.6 362.4h11v11h-11zM503.2 362.5h11v11h-11zM503.8 361.9h11v11h-11zM504.4 362.6h11v11h-11zM505 362.5h11v11h-11zM505.6 361.7h11v11h-11zM506.2 361.5h11v11h-11zM506.8 362.3h11v11h-11zM507.4 362.4h11v11h-11zM508 362.1h11v11h-11zM508.6 362.4h11v11h-11zM509.2 361.8h11v11h-11zM509.8 361.9h11v11h-11zM510.4 361.3h11v11h-11zM511 361.6h11v11h-11zM511.6 362.3h11v11h-11zM512.2 361.3h11v11h-11zM512.8 361.3h11v11h-11zM513.4 361.2h11v11h-11zM514 361.7h11v11h-11zM514.6 361.8h11v11h-11zM515.2 361.7h11v11h-11zM515.8 362.1h11v11h-11zM516.4 361.9h11v11h-11zM517 361.8h11v11h-11zM517.6 361.7h11v11h-11zM518.2 361.6h11v11h-11zM518.8 361.1h11v11h-11zM519.4 361.1h11v11h-11zM520 361.7h11v11h-11zM520.6 361.2h11v11h-11zM521.2 361.4h11v11h-11zM521.8 361.7h11v11h-11zM522.4 361.6h11v11h-11zM523 361.2h11v11h-11zM523.6 361.2h11v11h-11zM524.3 361h11v11h-11zM524.9 361.6h11v11h-11zM525.5 361.7h11v11h-11zM526.1 360.9h11v11h-11zM526.7 361.1h11v11h-11zM527.3 360.9h11v11h-11zM527.9 361.5h11v11h-11zM528.5 361.1h11v11h-11zM529.1 361.7h11v11h-11zM529.7 361h11v11h-11zM530.3 361.4h11v11h-11zM530.9 361.4h11v11h-11zM531.5 361.8h11v11h-11zM532.1 361.5h11v11h-11zM532.7 361.7h11v11h-11zM533.3 361.3h11v11h-11zM533.9 360.6h11v11h-11zM534.5 361h11v11h-11zM535.1 361.4h11v11h-11zM535.7 360.9h11v11h-11zM536.3 361.3h11v11h-11zM536.9 360.6h11v11h-11zM537.5 361.3h11v11h-11zM538.1 360.9h11v11h-11zM538.7 361.6h11v11h-11zM539.3 360.5h11v11h-11zM539.9 360.9h11v11h-11zM540.5 361.3h11v11h-11zM541.1 360.9h11v11h-11zM541.7 360.9h11v11h-11zM542.3 360.8h11v11h-11zM542.9 360.5h11v11h-11zM543.5 360.7h11v11h-11zM544.1 361.4h11v11h-11zM544.7 361.2h11v11h-11zM545.3 360.7h11v11h-11zM545.9 361.1h11v11h-11zM546.5 361.2h11v11h-11zM547.1 361.2h11v11h-11zM547.7 360.3h11v11h-11zM548.3 360.4h11v11h-11zM548.9 361.3h11v11h-11zM549.5 360.5h11v11h-11zM550.2 361.1h11v11h-11zM550.8 360.9h11v11h-11zM551.4 361.2h11v11h-11zM552 360.2h11v11h-11zM552.6 361.2h11v11h-11zM553.2 361.1h11v11h-11zM553.8 360.4h11v11h-11zM554.4 360.9h11v11h-11zM555 360.1h11v11h-11zM555.6 361.1h11v11h-11zM556.2 360.5h11v11h-11zM556.8 360.9h11v11h-11zM557.4 360.9h11v11h-11zM558 360h11v11h-11zM558.6 361h11v11h-11zM559.2 360.1h11v11h-11zM559.8 360.1h11v11h-11zM560.4 360.5h11v11h-11zM561 360.2h11v11h-11zM561.6 360.7h11v11h-11zM562.2 360.1h11v11h-11zM562.8 360.6h11v11h-11zM563.4 360.8h11v11h-11zM564 361h11v11h-11zM564.6 360.3h11v11h-11zM565.2 360.2h11v11h-11zM565.8 360.5h11v11h-11zM566.4 360.6h11v11h-11zM567 360.9h11v11h-11zM567.6 360.5h11v11h-11zM568.2 360.3h11v11h-11zM568.8 360.1h11v11h-11zM569.4 360.6h11v11h-11zM570 360.5h11v11h-11zM570.6 359.8h11v11h-11zM571.2 360h11v11h-11zM571.8 359.9h11v11h-11zM572.4 360.2h11v11h-11zM573 360.1h11v11h-11zM573.6 359.8h11v11h-11zM574.2 360.2h11v11h-11zM574.8 360.4h11v11h-11zM575.4 360h11v11h-11zM576.1 360.6h11v11h-11zM576.7 359.7h11v11h-11zM577.3 359.6h11v11h-11zM577.9 360.4h11v11h-11zM578.5 360.2h11v11h-11zM579.1 360.4h11v11h-11zM579.7 360.6h11v11h-11zM580.3 360.1h11v11h-11zM580.9 360.4h11v11h-11zM581.5 360.2h11v11h-11zM582.1 360.1h11v11h-11zM582.7 360h11v11h-11zM583.3 360.6h11v11h-11zM583.9 359.8h11v11h-11zM584.5 359.9h11v11h-11zM585.1 360h11v11h-11zM585.7 360.1h11v11h-11zM586.3 359.4h11v11h-11zM586.9 360.1h11v11h-11zM587.5 359.4h11v11h-11zM588.1 359.8h11v11h-11zM588.7 359.8h11v11h-11zM589.3 360h11v11h-11zM589.9 360h11v11h-11zM590.5 360h11v11h-11zM591.1 359.3h11v11h-11zM591.7 359.6h11v11h-11zM592.3 360.1h11v11h-11zM592.9 359.7h11v11h-11zM593.5 360.2h11v11h-11zM594.1 359.9h11v11h-11zM594.7 359.9h11v11h-11zM595.3 360h11v11h-11zM595.9 360.3h11v11h-11zM596.5 359.2h11v11h-11zM597.1 359.3h11v11h-11zM597.7 359.2h11v11h-11zM598.3 359.4h11v11h-11zM598.9 359.1h11v11h-11zM599.5 360.3h11v11h-11zM600.1 359.3h11v11h-11zM600.7 359.6h11v11h-11zM601.3 360.1h11v11h-11zM601.9 359.6h11v11h-11zM602.6 359.3h11v11h-11zM603.2 359.4h11v11h-11zM603.8 359.5h11v11h-11zM604.4 359.4h11v11h-11zM605 359.6h11v11h-11zM605.6 359.5h11v11h-11zM606.2 359.1h11v11h-11zM606.8 360h11v11h-11zM607.4 360.1h11v11h-11zM608 359.6h11v11h-11zM608.6 359h11v11h-11zM609.2 360h11v11h-11zM609.8 359.3h11v11h-11zM610.4 359.4h11v11h-11zM611 359.2h11v11h-11zM611.6 360h11v11h-11zM612.2 359.7h11v11h-11zM612.8 359.2h11v11h-11zM613.4 359.3h11v11h-11zM614 359.3h11v11h-11zM614.6 359.3h11v11h-11zM615.2 359.6h11v11h-11zM615.8 359.9h11v11h-11zM616.4 358.8h11v11h-11zM617 359.8h11v11h-11zM617.6 359.8h11v11h-11zM618.2 359h11v11h-11zM618.8 359.9h11v11h-11zM619.4 359.8h11v11h-11zM620 359.6h11v11h-11zM620.6 358.8h11v11h-11zM621.2 359.2h11v11h-11zM621.8 359.6h11v11h-11zM622.4 359.3h11v11h-11zM623 358.7h11v11h-11zM623.6 359.6h11v11h-11zM624.2 359.1h11v11h-11zM624.8 358.9h11v11h-11zM625.4 359h11v11h-11zM626 358.7h11v11h-11zM626.6 359h11v11h-11zM627.2 358.6h11v11h-11zM627.8 359.8h11v11h-11zM628.5 358.7h11v11h-11z"/><path fill="none" stroke="#ffe2c8" stroke-width="2" d="M96.0 525.9 L96.1 524.7 L96.1 523.5 L96.1 522.3 L96.1 521.1 L96.1 519.9 L96.1 518.7 L96.1 517.5 L96.1 516.3 L96.1 515.1 L96.1 513.9 L96.1 512.7 L96.2 511.5 L96.2 510.3 L96.2 509.1 L96.2 507.9 L96.2 506.7 L96.2 505.5 L96.2 504.3 L96.2 503.1 L96.2 501.9 L96.2 500.7 L96.2 499.5 L96.2 498.3 L96.3 497.1 L96.3 495.9 L96.3 494.7 L96.3 493.5 L96.3 492.3 L96.3 491.1 L96.3 489.9 L96.4 488.7 L96.4 487.5 L96.5 486.3 L96.6 485.1 L96.6 483.9 L96.7 482.7 L96.8 481.5 L96.8 480.3 L96.9 479.1 L97.0 477.9 L97.0 476.7 L97.1 475.5 L97.2 474.3 L97.2 473.1 L97.3 471.9 L97.4 470.7 L97.4 469.5 L97.5 468.3 L97.6 467.1 L97.6 465.9 L97.7 464.7 L97.7 463.5 L97.8 462.3 L98.1 461.2 L98.3 460.0 L98.5 458.8 L98.7 457.6 L99.0 456.4 L99.2 455.3 L99.4 454.1 L99.6 452.9 L99.8 451.7 L100.1 450.6 L100.3 449.4 L100.5 448.2 L100.7 447.0 L100.9 445.8 L101.2 444.7 L101.6 443.5 L102.0 442.4 L102.4 441.3 L102.8 440.1 L103.2 439.0 L103.7 437.9 L104.2 436.8 L104.7 435.7 L105.2 434.7 L105.8 433.6 L106.4 432.6 L107.0 431.5 L107.7 430.5 L108.3 429.5 L109.0 428.5 L109.8 427.6 L110.5 426.7 L111.3 425.7 L112.1 424.8 L112.9 424.0 L113.7 423.1 L114.6 422.3 L115.5 421.4 L116.4 420.7 L117.3 419.9 L118.2 419.1 L119.2 418.4 L120.1 417.7 L121.1 417.0 L122.1 416.3 L123.1 415.6 L124.1 415.0 L125.1 414.3 L126.1 413.7 L127.2 413.1 L128.2 412.6 L129.3 412.0 L130.4 411.4 L131.4 410.9 L132.5 410.4 L133.6 409.8 L134.7 409.3 L135.8 408.8 L136.9 408.4 L138.0 407.9 L139.1 407.4 L140.2 407.0 L141.3 406.5 L142.4 406.1 L143.6 405.7 L144.7 405.3 L145.8 404.9 L147.0 404.5 L148.1 404.1 L149.2 403.7 L150.4 403.3 L151.5 403.0 L152.7 402.6 L153.8 402.3 L154.9 401.9 L156.1 401.6 L157.3 401.2 L158.4 400.9 L159.6 400.6 L160.7 400.3 L161.9 400.0 L163.0 399.7 L164.2 399.4 L165.4 399.1 L166.5 398.8 L167.7 398.5 L168.9 398.2 L170.0 397.9 L171.2 397.6 L172.4 397.4 L173.5 397.1 L174.7 396.8 L175.9 396.6 L177.0 396.3 L178.2 396.1 L179.4 395.8 L180.6 395.6 L181.7 395.3 L182.9 395.1 L184.1 394.9 L185.3 394.6 L186.4 394.4 L187.6 394.2 L188.8 393.9 L190.0 393.7 L191.2 393.5 L192.3 393.3 L193.5 393.1 L194.7 392.9 L195.9 392.6 L197.1 392.4 L198.3 392.2 L199.4 392.0 L200.6 391.8 L201.8 391.6 L203.0 391.4 L204.2 391.2 L205.4 391.1 L206.5 390.9 L207.7 390.7 L208.9 390.5 L210.1 390.3 L211.3 390.1 L212.5 389.9 L213.7 389.8 L214.8 389.6 L216.0 389.4 L217.2 389.2 L218.4 389.1 L219.6 388.9 L220.8 388.7 L222.0 388.6 L223.2 388.4 L224.3 388.2 L225.5 388.1 L226.7 387.9 L227.9 387.8 L229.1 387.6 L230.3 387.4 L231.5 387.3 L232.7 387.1 L233.9 387.0 L235.1 386.8 L236.2 386.7 L237.4 386.5 L238.6 386.4 L239.8 386.2 L241.0 386.1 L242.2 386.0 L243.4 385.8 L244.6 385.7 L245.8 385.5 L247.0 385.4 L248.2 385.3 L249.4 385.1 L250.5 385.0 L251.7 384.9 L252.9 384.7 L254.1 384.6 L255.3 384.5 L256.5 384.3 L257.7 384.2 L258.9 384.1 L260.1 383.9 L261.3 383.8 L262.5 383.7 L263.7 383.6 L264.9 383.4 L266.1 383.3 L267.2 383.2 L268.4 383.1 L269.6 382.9 L270.8 382.8 L272.0 382.7 L273.2 382.6 L274.4 382.5 L275.6 382.4 L276.8 382.2 L278.0 382.1 L279.2 382.0 L280.4 381.9 L281.6 381.8 L282.8 381.7 L284.0 381.6 L285.2 381.4 L286.4 381.3 L287.6 381.2 L288.7 381.1 L289.9 381.0 L291.1 380.9 L292.3 380.8 L293.5 380.7 L294.7 380.6 L295.9 380.5 L297.1 380.4 L298.3 380.3 L299.5 380.2 L300.7 380.1 L301.9 380.0 L303.1 379.9 L304.3 379.8 L305.5 379.7 L306.7 379.6 L307.9 379.5 L309.1 379.4 L310.3 379.3 L311.5 379.2 L312.7 379.1 L313.9 379.0 L315.1 378.9 L316.2 378.8 L317.4 378.7 L318.6 378.6 L319.8 378.5 L321.0 378.4 L322.2 378.3 L323.4 378.2 L324.6 378.1 L325.8 378.0 L327.0 377.9 L328.2 377.9 L329.4 377.8 L330.6 377.7 L331.8 377.6 L333.0 377.5 L334.2 377.4 L335.4 377.3 L336.6 377.2 L337.8 377.1 L339.0 377.1 L340.2 377.0 L341.4 376.9 L342.6 376.8 L343.8 376.7 L345.0 376.6 L346.2 376.5 L347.4 376.5 L348.6 376.4 L349.8 376.3 L351.0 376.2 L352.2 376.1 L353.3 376.1 L354.5 376.0 L355.7 375.9 L356.9 375.8 L358.1 375.7 L359.3 375.7 L360.5 375.6 L361.7 375.5 L362.9 375.4 L364.1 375.3 L365.3 375.3 L366.5 375.2 L367.7 375.1 L368.9 375.0 L370.1 375.0 L371.3 374.9 L372.5 374.8 L373.7 374.7 L374.9 374.6 L376.1 374.6 L377.3 374.5 L378.5 374.4 L379.7 374.4 L380.9 374.3 L382.1 374.2 L383.3 374.1 L384.5 374.1 L385.7 374.0 L386.9 373.9 L388.1 373.8 L389.3 373.8 L390.5 373.7 L391.7 373.6 L392.9 373.6 L394.1 373.5 L395.3 373.4 L396.5 373.3 L397.7 373.3 L398.9 373.2 L400.1 373.1 L401.3 373.1 L402.5 373.0 L403.7 372.9 L404.9 372.9 L406.0 372.8 L407.2 372.7 L408.4 372.7 L409.6 372.6 L410.8 372.5 L412.0 372.5 L413.2 372.4 L414.4 372.3 L415.6 372.3 L416.8 372.2 L418.0 372.1 L419.2 372.1 L420.4 372.0 L421.6 371.9 L422.8 371.9 L424.0 371.8 L425.2 371.7 L426.4 371.7 L427.6 371.6 L428.8 371.6 L430.0 371.5 L431.2 371.4 L432.4 371.4 L433.6 371.3 L434.8 371.2 L436.0 371.2 L437.2 371.1 L438.4 371.1 L439.6 371.0 L440.8 370.9 L442.0 370.9 L443.2 370.8 L444.4 370.8 L445.6 370.7 L446.8 370.6 L448.0 370.6 L449.2 370.5 L450.4 370.5 L451.6 370.4 L452.8 370.3 L454.0 370.3 L455.2 370.2 L456.4 370.2 L457.6 370.1 L458.8 370.1 L460.0 370.0 L461.2 369.9 L462.4 369.9 L463.6 369.8 L464.8 369.8 L466.0 369.7 L467.2 369.7 L468.4 369.6 L469.6 369.5 L470.8 369.5 L472.0 369.4 L473.2 369.4 L474.4 369.3 L475.6 369.3 L476.8 369.2 L478.0 369.2 L479.2 369.1 L480.4 369.0 L481.6 369.0 L482.8 368.9 L483.9 368.9 L485.1 368.8 L486.3 368.8 L487.5 368.7 L488.7 368.7 L489.9 368.6 L491.1 368.6 L492.3 368.5 L493.5 368.5 L494.7 368.4 L495.9 368.4 L497.1 368.3 L498.3 368.2 L499.5 368.2 L500.7 368.1 L501.9 368.1 L503.1 368.0 L504.3 368.0 L505.5 367.9 L506.7 367.9 L507.9 367.8 L509.1 367.8 L510.3 367.7 L511.5 367.7 L512.7 367.6 L513.9 367.6 L515.1 367.5 L516.3 367.5 L517.5 367.4 L518.7 367.4 L519.9 367.3 L521.1 367.3 L522.3 367.2 L523.5 367.2 L524.7 367.1 L525.9 367.1 L527.1 367.0 L528.3 367.0 L529.5 366.9 L530.7 366.9 L531.9 366.9 L533.1 366.8 L534.3 366.8 L535.5 366.7 L536.7 366.7 L537.9 366.6 L539.1 366.6 L540.3 366.5 L541.5 366.5 L542.7 366.4 L543.9 366.4 L545.1 366.3 L546.3 366.3 L547.5 366.2 L548.7 366.2 L549.9 366.1 L551.1 366.1 L552.3 366.1 L553.5 366.0 L554.7 366.0 L555.9 365.9 L557.1 365.9 L558.3 365.8 L559.5 365.8 L560.7 365.7 L561.9 365.7 L563.1 365.6 L564.3 365.6 L565.5 365.6 L566.7 365.5 L567.9 365.5 L569.1 365.4 L570.3 365.4 L571.5 365.3 L572.7 365.3 L573.9 365.2 L575.1 365.2 L576.3 365.2 L577.5 365.1 L578.7 365.1 L579.9 365.0 L581.1 365.0 L582.3 364.9 L583.5 364.9 L584.7 364.9 L585.9 364.8 L587.1 364.8 L588.3 364.7 L589.5 364.7 L590.7 364.6 L591.9 364.6 L593.1 364.6 L594.3 364.5 L595.5 364.5 L596.7 364.4 L597.9 364.4 L599.1 364.4 L600.3 364.3 L601.5 364.3 L602.7 364.2 L603.9 364.2 L605.1 364.1 L606.3 364.1 L607.5 364.1 L608.7 364.0 L609.9 364.0 L611.1 363.9 L612.3 363.9 L613.5 363.9 L614.7 363.8 L615.9 363.8 L617.0 363.7 L618.2 363.7 L619.4 363.7 L620.6 363.6 L621.8 363.6 L623.0 363.5 L624.2 363.5 L625.4 363.5 L626.6 363.4 L627.8 363.4 L629.0 363.3 L630.2 363.3 L631.4 363.3 L632.6 363.2 L633.8 363.2"/><path fill="#ff0080" d="M96.5 518.7l7.3 7.3l-7.3 7.3l-7.3-7.3zM97.2 482.7l7.3 7.3l-7.3 7.3l-7.3-7.3zM97.8 469.2l7.3 7.3l-7.3 7.3l-7.3-7.3zM98.4 467.5l7.3 7.3l-7.3 7.3l-7.3-7.3zM99 466.1l7.3 7.3l-7.3 7.3l-7.3-7.3zM99.6 464.9l7.3 7.3l-7.3 7.3l-7.3-7.3zM100.2 463.7l7.3 7.3l-7.3 7.3l-7.3-7.3zM100.8 462.7l7.3 7.3l-7.3 7.3l-7.3-7.3zM101.4 461.7l7.3 7.3l-7.3 7.3l-7.3-7.3zM102 460.8l7.3 7.3l-7.3 7.3l-7.3-7.3zM102.6 459.9l7.3 7.3l-7.3 7.3l-7.3-7.3zM103.2 459.1l7.3 7.3l-7.3 7.3l-7.3-7.3zM103.8 458.3l7.3 7.3l-7.3 7.3l-7.3-7.3zM104.4 457.6l7.3 7.3l-7.3 7.3l-7.3-7.3zM105 456.9l7.3 7.3l-7.3 7.3l-7.3-7.3zM105.6 456.2l7.3 7.3l-7.3 7.3l-7.3-7.3zM106.2 455.6l7.3 7.3l-7.3 7.3l-7.3-7.3zM106.8 454.9l7.3 7.3l-7.3 7.3l-7.3-7.3zM107.4 454.3l7.3 7.3l-7.3 7.3l-7.3-7.3zM108 453.8l7.3 7.3l-7.3 7.3l-7.3-7.3zM108.6 453.2l7.3 7.3l-7.3 7.3l-7.3-7.3zM109.2 452.6l7.3 7.3l-7.3 7.3l-7.3-7.3zM109.8 452.1l7.3 7.3l-7.3 7.3l-7.3-7.3zM110.4 451.6l7.3 7.3l-7.3 7.3l-7.3-7.3zM111.1 451.1l7.3 7.3l-7.3 7.3l-7.3-7.3zM111.7 450.6l7.3 7.3l-7.3 7.3l-7.3-7.3zM112.3 450.1l7.3 7.3l-7.3 7.3l-7.3-7.3zM112.9 449.7l7.3 7.3l-7.3 7.3l-7.3-7.3zM113.5 449.2l7.3 7.3l-7.3 7.3l-7.3-7.3zM114.1 448.9l7.3 7.3l-7.3 7.3l-7.3-7.3zM114.7 448.3l7.3 7.3l-7.3 7.3l-7.3-7.3zM115.3 447.9l7.3 7.3l-7.3 7.3l-7.3-7.3zM115.9 447.5l7.3 7.3l-7.3 7.3l-7.3-7.3zM116.5 447.1l7.3 7.3l-7.3 7.3l-7.3-7.3zM117.1 446.8l7.3 7.3l-7.3 7.3l-7.3-7.3zM117.7 446.3l7.3 7.3l-7.3 7.3l-7.3-7.3zM118.3 445.9l7.3 7.3l-7.3 7.3l-7.3-7.3zM118.9 445.7l7.3 7.3l-7.3 7.3l-7.3-7.3zM119.5 445.2l7.3 7.3l-7.3 7.3l-7.3-7.3zM120.1 444.9l7.3 7.3l-7.3 7.3l-7.3-7.3zM120.7 444.5l7.3 7.3l-7.3 7.3l-7.3-7.3zM121.3 444l7.3 7.3l-7.3 7.3l-7.3-7.3zM121.9 443.9l7.3 7.3l-7.3 7.3l-7.3-7.3zM122.5 443.6l7.3 7.3l-7.3 7.3l-7.3-7.3zM123.1 442.9l7.3 7.3l-7.3 7.3l-7.3-7.3zM123.7 442.7l7.3 7.3l-7.3 7.3l-7.3-7.3zM124.3 442.4l7.3 7.3l-7.3 7.3l-7.3-7.3zM124.9 441.9l7.3 7.3l-7.3 7.3l-7.3-7.3zM125.5 441.6l7.3 7.3l-7.3 7.3l-7.3-7.3zM126.1 441.8l7.3 7.3l-7.3 7.3l-7.3-7.3zM126.7 441.4l7.3 7.3l-7.3 7.3l-7.3-7.3zM127.3 440.8l7.3 7.3l-7.3 7.3l-7.3-7.3zM127.9 440.8l7.3 7.3l-7.3 7.3l-7.3-7.3zM128.5 440l7.3 7.3l-7.3 7.3l-7.3-7.3zM129.1 440.3l7.3 7.3l-7.3 7.3l-7.3-7.3zM129.7 439.8l7.3 7.3l-7.3 7.3l-7.3-7.3zM130.3 439.7l7.3 7.3l-7.3 7.3l-7.3-7.3zM130.9 439l7.3 7.3l-7.3 7.3l-7.3-7.3zM131.5 438.8l7.3 7.3l-7.3 7.3l-7.3-7.3zM132.1 438.5l7.3 7.3l-7.3 7.3l-7.3-7.3zM132.7 438.8l7.3 7.3l-7.3 7.3l-7.3-7.3zM133.3 438l7.3 7.3l-7.3 7.3l-7.3-7.3zM133.9 437.8l7.3 7.3l-7.3 7.3l-7.3-7.3zM134.5 438l7.3 7.3l-7.3 7.3l-7.3-7.3zM135.1 437.7l7.3 7.3l-7.3 7.3l-7.3-7.3zM135.7 436.9l7.3 7.3l-7.3 7.3l-7.3-7.3zM136.3 436.6l7.3 7.3l-7.3 7.3l-7.3-7.3zM136.9 436.9l7.3 7.3l-7.3 7.3l-7.3-7.3zM137.6 435.9l7.3 7.3l-7.3 7.3l-7.3-7.3zM138.2 435.9l7.3 7.3l-7.3 7.3l-7.3-7.3zM138.8 436.2l7.3 7.3l-7.3 7.3l-7.3-7.3zM139.4 436l7.3 7.3l-7.3 7.3l-7.3-7.3zM140 435l7.3 7.3l-7.3 7.3l-7.3-7.3zM140.6 434.6l7.3 7.3l-7.3 7.3l-7.3-7.3zM141.2 435.2l7.3 7.3l-7.3 7.3l-7.3-7.3zM141.8 434.8l7.3 7.3l-7.3 7.3l-7.3-7.3zM142.4 434.1l7.3 7.3l-7.3 7.3l-7.3-7.3zM143 434.2l7.3 7.3l-7.3 7.3l-7.3-7.3zM143.6 433.4l7.3 7.3l-7.3 7.3l-7.3-7.3zM144.2 434l7.3 7.3l-7.3 7.3l-7.3-7.3zM144.8 433.5l7.3 7.3l-7.3 7.3l-7.3-7.3zM145.4 433.6l7.3 7.3l-7.3 7.3l-7.3-7.3zM146 432.5l7.3 7.3l-7.3 7.3l-7.3-7.3zM146.6 433.1l7.3 7.3l-7.3 7.3l-7.3-7.3zM147.2 432.5l7.3 7.3l-7.3 7.3l-7.3-7.3zM147.8 432.4l7.3 7.3l-7.3 7.3l-7.3-7.3zM148.4 432l7.3 7.3l-7.3 7.3l-7.3-7.3zM149 432.2l7.3 7.3l-7.3 7.3l-7.3-7.3zM149.6 431.9l7.3 7.3l-7.3 7.3l-7.3-7.3zM150.2 431.8l7.3 7.3l-7.3 7.3l-7.3-7.3zM150.8 430.7l7.3 7.3l-7.3 7.3l-7.3-7.3zM151.4 430.8l7.3 7.3l-7.3 7.3l-7.3-7.3zM152 430.3l7.3 7.3l-7.3 7.3l-7.3-7.3zM152.6 430.6l7.3 7.3l-7.3 7.3l-7.3-7.3zM153.2 430.6l7.3 7.3l-7.3 7.3l-7.3-7.3zM153.8 429.8l7.3 7.3l-7.3 7.3l-7.3-7.3zM154.4 430.5l7.3 7.3l-7.3 7.3l-7.3-7.3zM155 430l7.3 7.3l-7.3 7.3l-7.3-7.3zM155.6 429.8l7.3 7.3l-7.3 7.3l-7.3-7.3zM156.2 429.8l7.3 7.3l-7.3 7.3l-7.3-7.3zM156.8 430.1l7.3 7.3l-7.3 7.3l-7.3-7.3zM157.4 429.4l7.3 7.3l-7.3 7.3l-7.3-7.3zM158 428.5l7.3 7.3l-7.3 7.3l-7.3-7.3zM158.6 428.4l7.3 7.3l-7.3 7.3l-7.3-7.3zM159.2 429l7.3 7.3l-7.3 7.3l-7.3-7.3zM159.8 428.3l7.3 7.3l-7.3 7.3l-7.3-7.3zM160.4 428.7l7.3 7.3l-7.3 7.3l-7.3-7.3zM161 428.2l7.3 7.3l-7.3 7.3l-7.3-7.3zM161.6 427.8l7.3 7.3l-7.3 7.3l-7.3-7.3zM162.2 428.2l7.3 7.3l-7.3 7.3l-7.3-7.3zM162.8 427.2l7.3 7.3l-7.3 7.3l-7.3-7.3zM163.5 427.1l7.3 7.3l-7.3 7.3l-7.3-7.3zM164.1 427l7.3 7.3l-7.3 7.3l-7.3-7.3zM164.7 427l7.3 7.3l-7.3 7.3l-7.3-7.3zM165.3 427.6l7.3 7.3l-7.3 7.3l-7.3-7.3zM165.9 427.3l7.3 7.3l-7.3 7.3l-7.3-7.3zM166.5 427.1l7.3 7.3l-7.3 7.3l-7.3-7.3zM167.1 426.7l7.3 7.3l-7.3 7.3l-7.3-7.3zM167.7 425.5l7.3 7.3l-7.3 7.3l-7.3-7.3zM168.3 425.8l7.3 7.3l-7.3 7.3l-7.3-7.3zM168.9 426l7.3 7.3l-7.3 7.3l-7.3-7.3zM169.5 426.4l7.3 7.3l-7.3 7.3l-7.3-7.3zM170.1 425.4l7.3 7.3l-7.3 7.3l-7.3-7.3zM170.7 425.5l7.3 7.3l-7.3 7.3l-7.3-7.3zM171.3 425.8l7.3 7.3l-7.3 7.3l-7.3-7.3zM171.9 424.9l7.3 7.3l-7.3 7.3l-7.3-7.3zM172.5 425.4l7.3 7.3l-7.3 7.3l-7.3-7.3zM173.1 425l7.3 7.3l-7.3 7.3l-7.3-7.3zM173.7 424.7l7.3 7.3l-7.3 7.3l-7.3-7.3zM174.3 424.7l7.3 7.3l-7.3 7.3l-7.3-7.3zM174.9 424.3l7.3 7.3l-7.3 7.3l-7.3-7.3zM175.5 423.6l7.3 7.3l-7.3 7.3l-7.3-7.3zM176.1 424.7l7.3 7.3l-7.3 7.3l-7.3-7.3zM176.7 424.6l7.3 7.3l-7.3 7.3l-7.3-7.3zM177.3 424.3l7.3 7.3l-7.3 7.3l-7.3-7.3zM177.9 423.4l7.3 7.3l-7.3 7.3l-7.3-7.3zM178.5 423.7l7.3 7.3l-7.3 7.3l-7.3-7.3zM179.1 423.7l7.3 7.3l-7.3 7.3l-7.3-7.3zM179.7 422.5l7.3 7.3l-7.3 7.3l-7.3-7.3zM180.3 423.4l7.3 7.3l-7.3 7.3l-7.3-7.3zM180.9 422.2l7.3 7.3l-7.3 7.3l-7.3-7.3zM181.5 423.4l7.3 7.3l-7.3 7.3l-7.3-7.3zM182.1 422.2l7.3 7.3l-7.3 7.3l-7.3-7.3zM182.7 423.1l7.3 7.3l-7.3 7.3l-7.3-7.3zM183.3 421.9l7.3 7.3l-7.3 7.3l-7.3-7.3zM183.9 422.2l7.3 7.3l-7.3 7.3l-7.3-7.3zM184.5 422.5l7.3 7.3l-7.3 7.3l-7.3-7.3zM185.1 422.6l7.3 7.3l-7.3 7.3l-7.3-7.3zM185.7 422l7.3 7.3l-7.3 7.3l-7.3-7.3zM186.3 422.1l7.3 7.3l-7.3 7.3l-7.3-7.3zM186.9 421.3l7.3 7.3l-7.3 7.3l-7.3-7.3zM187.5 421.7l7.3 7.3l-7.3 7.3l-7.3-7.3zM188.1 421l7.3 7.3l-7.3 7.3l-7.3-7.3zM188.7 421.7l7.3 7.3l-7.3 7.3l-7.3-7.3zM189.3 421.3l7.3 7.3l-7.3 7.3l-7.3-7.3zM190 420.6l7.3 7.3l-7.3 7.3l-7.3-7.3zM190.6 421l7.3 7.3l-7.3 7.3l-7.3-7.3zM191.2 419.8l7.3 7.3l-7.3 7.3l-7.3-7.3zM191.8 421l7.3 7.3l-7.3 7.3l-7.3-7.3zM192.4 420.5l7.3 7.3l-7.3 7.3l-7.3-7.3zM193 419.8l7.3 7.3l-7.3 7.3l-7.3-7.3zM193.6 420.2l7.3 7.3l-7.3 7.3l-7.3-7.3zM194.2 420.2l7.3 7.3l-7.3 7.3l-7.3-7.3zM194.8 419.9l7.3 7.3l-7.3 7.3l-7.3-7.3zM195.4 420.1l7.3 7.3l-7.3 7.3l-7.3-7.3zM196 419.3l7.3 7.3l-7.3 7.3l-7.3-7.3zM196.6 419l7.3 7.3l-7.3 7.3l-7.3-7.3zM197.2 418.9l7.3 7.3l-7.3 7.3l-7.3-7.3zM197.8 418.7l7.3 7.3l-7.3 7.3l-7.3-7.3zM198.4 418.9l7.3 7.3l-7.3 7.3l-7.3-7.3zM199 419.2l7.3 7.3l-7.3 7.3l-7.3-7.3zM199.6 419.2l7.3 7.3l-7.3 7.3l-7.3-7.3zM200.2 418.7l7.3 7.3l-7.3 7.3l-7.3-7.3zM200.8 418.8l7.3 7.3l-7.3 7.3l-7.3-7.3zM201.4 419l7.3 7.3l-7.3 7.3l-7.3-7.3zM202 418.4l7.3 7.3l-7.3 7.3l-7.3-7.3zM202.6 417.4l7.3 7.3l-7.3 7.3l-7.3-7.3zM203.2 418.1l7.3 7.3l-7.3 7.3l-7.3-7.3zM203.8 417l7.3 7.3l-7.3 7.3l-7.3-7.3zM204.4 417.9l7.3 7.3l-7.3 7.3l-7.3-7.3zM205 418.3l7.3 7.3l-7.3 7.3l-7.3-7.3zM205.6 417.4l7.3 7.3l-7.3 7.3l-7.3-7.3zM206.2 417.9l7.3 7.3l-7.3 7.3l-7.3-7.3zM206.8 416.4l7.3 7.3l-7.3 7.3l-7.3-7.3zM207.4 417.7l7.3 7.3l-7.3 7.3l-7.3-7.3zM208 416.4l7.3 7.3l-7.3 7.3l-7.3-7.3zM208.6 417.3l7.3 7.3l-7.3 7.3l-7.3-7.3zM209.2 416.4l7.3 7.3l-7.3 7.3l-7.3-7.3zM209.8 416.4l7.3 7.3l-7.3 7.3l-7.3-7.3zM210.4 415.9l7.3 7.3l-7.3 7.3l-7.3-7.3zM211 415.6l7.3 7.3l-7.3 7.3l-7.3-7.3zM211.6 416.6l7.3 7.3l-7.3 7.3l-7.3-7.3zM212.2 416.5l7.3 7.3l-7.3 7.3l-7.3-7.3zM212.8 415.4l7.3 7.3l-7.3 7.3l-7.3-7.3zM213.4 416l7.3 7.3l-7.3 7.3l-7.3-7.3zM214 415.4l7.3 7.3l-7.3 7.3l-7.3-7.3zM214.6 416.2l7.3 7.3l-7.3 7.3l-7.3-7.3zM215.2 415l7.3 7.3l-7.3 7.3l-7.3-7.3zM215.9 415.5l7.3 7.3l-7.3 7.3l-7.3-7.3zM216.5 415.9l7.3 7.3l-7.3 7.3l-7.3-7.3zM217.1 415.2l7.3 7.3l-7.3 7.3l-7.3-7.3zM217.7 415.3l7.3 7.3l-7.3 7.3l-7.3-7.3zM218.3 415.4l7.3 7.3l-7.3 7.3l-7.3-7.3zM218.9 415.2l7.3 7.3l-7.3 7.3l-7.3-7.3zM219.5 415.2l7.3 7.3l-7.3 7.3l-7.3-7.3zM220.1 414.2l7.3 7.3l-7.3 7.3l-7.3-7.3zM220.7 415.1l7.3 7.3l-7.3 7.3l-7.3-7.3zM221.3 414.4l7.3 7.3l-7.3 7.3l-7.3-7.3zM221.9 414.9l7.3 7.3l-7.3 7.3l-7.3-7.3zM222.5 414.5l7.3 7.3l-7.3 7.3l-7.3-7.3zM223.1 414.4l7.3 7.3l-7.3 7.3l-7.3-7.3zM223.7 414.7l7.3 7.3l-7.3 7.3l-7.3-7.3zM224.3 413.3l7.3 7.3l-7.3 7.3l-7.3-7.3zM224.9 414.3l7.3 7.3l-7.3 7.3l-7.3-7.3zM225.5 413.3l7.3 7.3l-7.3 7.3l-7.3-7.3zM226.1 414l7.3 7.3l-7.3 7.3l-7.3-7.3zM226.7 413l7.3 7.3l-7.3 7.3l-7.3-7.3zM227.3 413.3l7.3 7.3l-7.3 7.3l-7.3-7.3zM227.9 412.7l7.3 7.3l-7.3 7.3l-7.3-7.3zM228.5 413.6l7.3 7.3l-7.3 7.3l-7.3-7.3zM229.1 412.7l7.3 7.3l-7.3 7.3l-7.3-7.3zM229.7 412.9l7.3 7.3l-7.3 7.3l-7.3-7.3zM230.3 413.3l7.3 7.3l-7.3 7.3l-7.3-7.3zM230.9 412.5l7.3 7.3l-7.3 7.3l-7.3-7.3zM231.5 413.2l7.3 7.3l-7.3 7.3l-7.3-7.3zM232.1 412.5l7.3 7.3l-7.3 7.3l-7.3-7.3zM232.7 413.1l7.3 7.3l-7.3 7.3l-7.3-7.3zM233.3 412.7l7.3 7.3l-7.3 7.3l-7.3-7.3zM233.9 413l7.3 7.3l-7.3 7.3l-7.3-7.3zM234.5 412.4l7.3 7.3l-7.3 7.3l-7.3-7.3zM235.1 411.7l7.3 7.3l-7.3 7.3l-7.3-7.3zM235.7 411.9l7.3 7.3l-7.3 7.3l-7.3-7.3zM236.3 412.5l7.3 7.3l-7.3 7.3l-7.3-7.3zM236.9 412.4l7.3 7.3l-7.3 7.3l-7.3-7.3zM237.5 411.2l7.3 7.3l-7.3 7.3l-7.3-7.3zM238.1 411.1l7.3 7.3l-7.3 7.3l-7.3-7.3zM238.7 411l7.3 7.3l-7.3 7.3l-7.3-7.3zM239.3 411.5l7.3 7.3l-7.3 7.3l-7.3-7.3zM239.9 410.7l7.3 7.3l-7.3 7.3l-7.3-7.3zM240.5 411.4l7.3 7.3l-7.3 7.3l-7.3-7.3zM241.1 410.7l7.3 7.3l-7.3 7.3l-7.3-7.3zM241.7 411.4l7.3 7.3l-7.3 7.3l-7.3-7.3zM242.4 410.4l7.3 7.3l-7.3 7.3l-7.3-7.3zM243 411.4l7.3 7.3l-7.3 7.3l-7.3-7.3zM243.6 410.4l7.3 7.3l-7.3 7.3l-7.3-7.3zM244.2 409.8l7.3 7.3l-7.3 7.3l-7.3-7.3zM244.8 409.9l7.3 7.3l-7.3 7.3l-7.3-7.3zM245.4 410.8l7.3 7.3l-7.3 7.3l-7.3-7.3zM246 409.8l7.3 7.3l-7.3 7.3l-7.3-7.3zM246.6 409.8l7.3 7.3l-7.3 7.3l-7.3-7.3zM247.2 410.8l7.3 7.3l-7.3 7.3l-7.3-7.3zM247.8 409.9l7.3 7.3l-7.3 7.3l-7.3-7.3zM248.4 410.1l7.3 7.3l-7.3 7.3l-7.3-7.3zM249 409.9l7.3 7.3l-7.3 7.3l-7.3-7.3zM249.6 409.7l7.3 7.3l-7.3 7.3l-7.3-7.3zM250.2 410.2l7.3 7.3l-7.3 7.3l-7.3-7.3zM250.8 408.8l7.3 7.3l-7.3 7.3l-7.3-7.3zM251.4 409.3l7.3 7.3l-7.3 7.3l-7.3-7.3zM252 409.3l7.3 7.3l-7.3 7.3l-7.3-7.3zM252.6 409.5l7.3 7.3l-7.3 7.3l-7.3-7.3zM253.2 409.5l7.3 7.3l-7.3 7.3l-7.3-7.3zM253.8 408.3l7.3 7.3l-7.3 7.3l-7.3-7.3zM254.4 408.4l7.3 7.3l-7.3 7.3l-7.3-7.3zM255 408.5l7.3 7.3l-7.3 7.3l-7.3-7.3zM255.6 408.6l7.3 7.3l-7.3 7.3l-7.3-7.3zM256.2 409.1l7.3 7.3l-7.3 7.3l-7.3-7.3zM256.8 409l7.3 7.3l-7.3 7.3l-7.3-7.3zM257.4 409.2l7.3 7.3l-7.3 7.3l-7.3-7.3zM258 408.3l7.3 7.3l-7.3 7.3l-7.3-7.3zM258.6 408.2l7.3 7.3l-7.3 7.3l-7.3-7.3zM259.2 407.7l7.3 7.3l-7.3 7.3l-7.3-7.3zM259.8 408.8l7.3 7.3l-7.3 7.3l-7.3-7.3zM260.4 408.7l7.3 7.3l-7.3 7.3l-7.3-7.3zM261 408.7l7.3 7.3l-7.3 7.3l-7.3-7.3zM261.6 408.3l7.3 7.3l-7.3 7.3l-7.3-7.3zM262.2 408.4l7.3 7.3l-7.3 7.3l-7.3-7.3zM262.8 407.9l7.3 7.3l-7.3 7.3l-7.3-7.3zM263.4 408.2l7.3 7.3l-7.3 7.3l-7.3-7.3zM264 407.3l7.3 7.3l-7.3 7.3l-7.3-7.3zM264.6 407.9l7.3 7.3l-7.3 7.3l-7.3-7.3zM265.2 407.8l7.3 7.3l-7.3 7.3l-7.3-7.3zM265.8 407.5l7.3 7.3l-7.3 7.3l-7.3-7.3zM266.4 407.8l7.3 7.3l-7.3 7.3l-7.3-7.3zM267 407.5l7.3 7.3l-7.3 7.3l-7.3-7.3zM267.6 406.7l7.3 7.3l-7.3 7.3l-7.3-7.3zM268.3 406.3l7.3 7.3l-7.3 7.3l-7.3-7.3zM268.9 406.7l7.3 7.3l-7.3 7.3l-7.3-7.3zM269.5 406.4l7.3 7.3l-7.3 7.3l-7.3-7.3zM270.1 407.4l7.3 7.3l-7.3 7.3l-7.3-7.3zM270.7 406.7l7.3 7.3l-7.3 7.3l-7.3-7.3zM271.3 407l7.3 7.3l-7.3 7.3l-7.3-7.3zM271.9 407.2l7.3 7.3l-7.3 7.3l-7.3-7.3zM272.5 406.9l7.3 7.3l-7.3 7.3l-7.3-7.3zM273.1 406.9l7.3 7.3l-7.3 7.3l-7.3-7.3zM273.7 406.4l7.3 7.3l-7.3 7.3l-7.3-7.3zM274.3 406.6l7.3 7.3l-7.3 7.3l-7.3-7.3zM274.9 406.8l7.3 7.3l-7.3 7.3l-7.3-7.3zM275.5 406l7.3 7.3l-7.3 7.3l-7.3-7.3zM276.1 406.3l7.3 7.3l-7.3 7.3l-7.3-7.3zM276.7 406.6l7.3 7.3l-7.3 7.3l-7.3-7.3zM277.3 405.4l7.3 7.3l-7.3 7.3l-7.3-7.3zM277.9 405.1l7.3 7.3l-7.3 7.3l-7.3-7.3zM278.5 405.6l7.3 7.3l-7.3 7.3l-7.3-7.3zM279.1 406.2l7.3 7.3l-7.3 7.3l-7.3-7.3zM279.7 405.5l7.3 7.3l-7.3 7.3l-7.3-7.3zM280.3 405l7.3 7.3l-7.3 7.3l-7.3-7.3zM280.9 406.1l7.3 7.3l-7.3 7.3l-7.3-7.3zM281.5 405.2l7.3 7.3l-7.3 7.3l-7.3-7.3zM282.1 405.1l7.3 7.3l-7.3 7.3l-7.3-7.3zM282.7 404.5l7.3 7.3l-7.3 7.3l-7.3-7.3zM283.3 404.9l7.3 7.3l-7.3 7.3l-7.3-7.3zM283.9 405.7l7.3 7.3l-7.3 7.3l-7.3-7.3zM284.5 404.8l7.3 7.3l-7.3 7.3l-7.3-7.3zM285.1 405.3l7.3 7.3l-7.3 7.3l-7.3-7.3zM285.7 405.4l7.3 7.3l-7.3 7.3l-7.3-7.3zM286.3 403.9l7.3 7.3l-7.3 7.3l-7.3-7.3zM286.9 404.9l7.3 7.3l-7.3 7.3l-7.3-7.3zM287.5 404l7.3 7.3l-7.3 7.3l-7.3-7.3zM288.1 404.5l7.3 7.3l-7.3 7.3l-7.3-7.3zM288.7 404.9l7.3 7.3l-7.3 7.3l-7.3-7.3zM289.3 404.1l7.3 7.3l-7.3 7.3l-7.3-7.3zM289.9 404.6l7.3 7.3l-7.3 7.3l-7.3-7.3zM290.5 403.8l7.3 7.3l-7.3 7.3l-7.3-7.3zM291.1 404.2l7.3 7.3l-7.3 7.3l-7.3-7.3zM291.7 404.4l7.3 7.3l-7.3 7.3l-7.3-7.3zM292.3 404l7.3 7.3l-7.3 7.3l-7.3-7.3zM292.9 403.6l7.3 7.3l-7.3 7.3l-7.3-7.3zM293.5 404.2l7.3 7.3l-7.3 7.3l-7.3-7.3zM294.2 403.2l7.3 7.3l-7.3 7.3l-7.3-7.3zM294.8 403.4l7.3 7.3l-7.3 7.3l-7.3-7.3zM295.4 404l7.3 7.3l-7.3 7.3l-7.3-7.3zM296 403.5l7.3 7.3l-7.3 7.3l-7.3-7.3zM296.6 402.8l7.3 7.3l-7.3 7.3l-7.3-7.3zM297.2 403.6l7.3 7.3l-7.3 7.3l-7.3-7.3zM297.8 403.9l7.3 7.3l-7.3 7.3l-7.3-7.3zM298.4 402.7l7.3 7.3l-7.3 7.3l-7.3-7.3zM299 403.8l7.3 7.3l-7.3 7.3l-7.3-7.3zM299.6 402.3l7.3 7.3l-7.3 7.3l-7.3-7.3zM300.2 403.7l7.3 7.3l-7.3 7.3l-7.3-7.3zM300.8 403.1l7.3 7.3l-7.3 7.3l-7.3-7.3zM301.4 402.5l7.3 7.3l-7.3 7.3l-7.3-7.3zM302 402.3l7.3 7.3l-7.3 7.3l-7.3-7.3zM302.6 402.7l7.3 7.3l-7.3 7.3l-7.3-7.3zM303.2 402.6l7.3 7.3l-7.3 7.3l-7.3-7.3zM303.8 402.6l7.3 7.3l-7.3 7.3l-7.3-7.3zM304.4 402.6l7.3 7.3l-7.3 7.3l-7.3-7.3zM305 401.8l7.3 7.3l-7.3 7.3l-7.3-7.3zM305.6 402l7.3 7.3l-7.3 7.3l-7.3-7.3zM306.2 401.8l7.3 7.3l-7.3 7.3l-7.3-7.3zM306.8 402.8l7.3 7.3l-7.3 7.3l-7.3-7.3zM307.4 401.7l7.3 7.3l-7.3 7.3l-7.3-7.3zM308 402.4l7.3 7.3l-7.3 7.3l-7.3-7.3zM308.6 401.4l7.3 7.3l-7.3 7.3l-7.3-7.3zM309.2 402.2l7.3 7.3l-7.3 7.3l-7.3-7.3zM309.8 401.8l7.3 7.3l-7.3 7.3l-7.3-7.3zM310.4 401.9l7.3 7.3l-7.3 7.3l-7.3-7.3zM311 402.2l7.3 7.3l-7.3 7.3l-7.3-7.3zM311.6 401.5l7.3 7.3l-7.3 7.3l-7.3-7.3zM312.2 402l7.3 7.3l-7.3 7.3l-7.3-7.3zM312.8 402.3l7.3 7.3l-7.3 7.3l-7.3-7.3zM313.4 401.9l7.3 7.3l-7.3 7.3l-7.3-7.3zM314 401.6l7.3 7.3l-7.3 7.3l-7.3-7.3zM314.6 401.7l7.3 7.3l-7.3 7.3l-7.3-7.3zM315.2 402l7.3 7.3l-7.3 7.3l-7.3-7.3zM315.8 400.6l7.3 7.3l-7.3 7.3l-7.3-7.3zM316.4 402l7.3 7.3l-7.3 7.3l-7.3-7.3zM317 401.1l7.3 7.3l-7.3 7.3l-7.3-7.3zM317.6 401.7l7.3 7.3l-7.3 7.3l-7.3-7.3zM318.2 400.4l7.3 7.3l-7.3 7.3l-7.3-7.3zM318.8 400.6l7.3 7.3l-7.3 7.3l-7.3-7.3zM319.4 401l7.3 7.3l-7.3 7.3l-7.3-7.3zM320 401l7.3 7.3l-7.3 7.3l-7.3-7.3zM320.7 401.5l7.3 7.3l-7.3 7.3l-7.3-7.3zM321.3 400.4l7.3 7.3l-7.3 7.3l-7.3-7.3zM321.9 400.3l7.3 7.3l-7.3 7.3l-7.3-7.3zM322.5 400.8l7.3 7.3l-7.3 7.3l-7.3-7.3zM323.1 400l7.3 7.3l-7.3 7.3l-7.3-7.3zM323.7 401.1l7.3 7.3l-7.3 7.3l-7.3-7.3zM324.3 400l7.3 7.3l-7.3 7.3l-7.3-7.3zM324.9 399.6l7.3 7.3l-7.3 7.3l-7.3-7.3zM325.5 400.5l7.3 7.3l-7.3 7.3l-7.3-7.3zM326.1 399.8l7.3 7.3l-7.3 7.3l-7.3-7.3zM326.7 400.8l7.3 7.3l-7.3 7.3l-7.3-7.3zM327.3 399.5l7.3 7.3l-7.3 7.3l-7.3-7.3zM327.9 400.1l7.3 7.3l-7.3 7.3l-7.3-7.3zM328.5 400.1l7.3 7.3l-7.3 7.3l-7.3-7.3zM329.1 399.9l7.3 7.3l-7.3 7.3l-7.3-7.3zM329.7 399.2l7.3 7.3l-7.3 7.3l-7.3-7.3zM330.3 399.8l7.3 7.3l-7.3 7.3l-7.3-7.3zM330.9 399.2l7.3 7.3l-7.3 7.3l-7.3-7.3zM331.5 399l7.3 7.3l-7.3 7.3l-7.3-7.3zM332.1 400.3l7.3 7.3l-7.3 7.3l-7.3-7.3zM332.7 399.2l7.3 7.3l-7.3 7.3l-7.3-7.3zM333.3 398.9l7.3 7.3l-7.3 7.3l-7.3-7.3zM333.9 398.7l7.3 7.3l-7.3 7.3l-7.3-7.3zM334.5 400l7.3 7.3l-7.3 7.3l-7.3-7.3zM335.1 399.9l7.3 7.3l-7.3 7.3l-7.3-7.3zM335.7 399.7l7.3 7.3l-7.3 7.3l-7.3-7.3zM336.3 399.7l7.3 7.3l-7.3 7.3l-7.3-7.3zM336.9 398.8l7.3 7.3l-7.3 7.3l-7.3-7.3zM337.5 399.2l7.3 7.3l-7.3 7.3l-7.3-7.3zM338.1 399.4l7.3 7.3l-7.3 7.3l-7.3-7.3zM338.7 398.6l7.3 7.3l-7.3 7.3l-7.3-7.3zM339.3 399.3l7.3 7.3l-7.3 7.3l-7.3-7.3zM339.9 399.3l7.3 7.3l-7.3 7.3l-7.3-7.3zM340.5 398.8l7.3 7.3l-7.3 7.3l-7.3-7.3zM341.1 399l7.3 7.3l-7.3 7.3l-7.3-7.3zM341.7 398l7.3 7.3l-7.3 7.3l-7.3-7.3zM342.3 398.5l7.3 7.3l-7.3 7.3l-7.3-7.3zM342.9 398.3l7.3 7.3l-7.3 7.3l-7.3-7.3zM343.5 398.3l7.3 7.3l-7.3 7.3l-7.3-7.3zM344.1 399.1l7.3 7.3l-7.3 7.3l-7.3-7.3zM344.7 399.1l7.3 7.3l-7.3 7.3l-7.3-7.3zM345.3 397.7l7.3 7.3l-7.3 7.3l-7.3-7.3zM345.9 398.4l7.3 7.3l-7.3 7.3l-7.3-7.3zM346.6 397.8l7.3 7.3l-7.3 7.3l-7.3-7.3zM347.2 398.4l7.3 7.3l-7.3 7.3l-7.3-7.3zM347.8 398.9l7.3 7.3l-7.3 7.3l-7.3-7.3zM348.4 397.5l7.3 7.3l-7.3 7.3l-7.3-7.3zM349 397.9l7.3 7.3l-7.3 7.3l-7.3-7.3zM349.6 397.7l7.3 7.3l-7.3 7.3l-7.3-7.3zM350.2 398.2l7.3 7.3l-7.3 7.3l-7.3-7.3zM350.8 398.3l7.3 7.3l-7.3 7.3l-7.3-7.3zM351.4 397.1l7.3 7.3l-7.3 7.3l-7.3-7.3zM352 397.3l7.3 7.3l-7.3 7.3l-7.3-7.3zM352.6 397.5l7.3 7.3l-7.3 7.3l-7.3-7.3zM353.2 398.4l7.3 7.3l-7.3 7.3l-7.3-7.3zM353.8 398l7.3 7.3l-7.3 7.3l-7.3-7.3zM354.4 397.7l7.3 7.3l-7.3 7.3l-7.3-7.3zM355 398.2l7.3 7.3l-7.3 7.3l-7.3-7.3zM355.6 397.3l7.3 7.3l-7.3 7.3l-7.3-7.3zM356.2 397.8l7.3 7.3l-7.3 7.3l-7.3-7.3zM356.8 396.9l7.3 7.3l-7.3 7.3l-7.3-7.3zM357.4 396.9l7.3 7.3l-7.3 7.3l-7.3-7.3zM358 397.9l7.3 7.3l-7.3 7.3l-7.3-7.3zM358.6 397.7l7.3 7.3l-7.3 7.3l-7.3-7.3zM359.2 397.3l7.3 7.3l-7.3 7.3l-7.3-7.3zM359.8 396.5l7.3 7.3l-7.3 7.3l-7.3-7.3zM360.4 396.7l7.3 7.3l-7.3 7.3l-7.3-7.3zM361 397.6l7.3 7.3l-7.3 7.3l-7.3-7.3zM361.6 396.8l7.3 7.3l-7.3 7.3l-7.3-7.3zM362.2 396.2l7.3 7.3l-7.3 7.3l-7.3-7.3zM362.8 396.4l7.3 7.3l-7.3 7.3l-7.3-7.3zM363.4 396.9l7.3 7.3l-7.3 7.3l-7.3-7.3zM364 397.3l7.3 7.3l-7.3 7.3l-7.3-7.3zM364.6 396.6l7.3 7.3l-7.3 7.3l-7.3-7.3zM365.2 396.2l7.3 7.3l-7.3 7.3l-7.3-7.3zM365.8 397l7.3 7.3l-7.3 7.3l-7.3-7.3zM366.4 396.2l7.3 7.3l-7.3 7.3l-7.3-7.3zM367 396.1l7.3 7.3l-7.3 7.3l-7.3-7.3zM367.6 396.5l7.3 7.3l-7.3 7.3l-7.3-7.3zM368.2 396.4l7.3 7.3l-7.3 7.3l-7.3-7.3zM368.8 396.8l7.3 7.3l-7.3 7.3l-7.3-7.3zM369.4 396.2l7.3 7.3l-7.3 7.3l-7.3-7.3zM370 396.4l7.3 7.3l-7.3 7.3l-7.3-7.3zM370.6 396.1l7.3 7.3l-7.3 7.3l-7.3-7.3zM371.2 396.4l7.3 7.3l-7.3 7.3l-7.3-7.3zM371.8 396.7l7.3 7.3l-7.3 7.3l-7.3-7.3zM372.4 395.4l7.3 7.3l-7.3 7.3l-7.3-7.3zM373.1 396.5l7.3 7.3l-7.3 7.3l-7.3-7.3zM373.7 396.5l7.3 7.3l-7.3 7.3l-7.3-7.3zM374.3 395.6l7.3 7.3l-7.3 7.3l-7.3-7.3zM374.9 395l7.3 7.3l-7.3 7.3l-7.3-7.3zM375.5 395.7l7.3 7.3l-7.3 7.3l-7.3-7.3zM376.1 396l7.3 7.3l-7.3 7.3l-7.3-7.3zM376.7 395.2l7.3 7.3l-7.3 7.3l-7.3-7.3zM377.3 395.1l7.3 7.3l-7.3 7.3l-7.3-7.3zM377.9 395.3l7.3 7.3l-7.3 7.3l-7.3-7.3zM378.5 396.1l7.3 7.3l-7.3 7.3l-7.3-7.3zM379.1 395.6l7.3 7.3l-7.3 7.3l-7.3-7.3zM379.7 395.7l7.3 7.3l-7.3 7.3l-7.3-7.3zM380.3 395.5l7.3 7.3l-7.3 7.3l-7.3-7.3zM380.9 395.6l7.3 7.3l-7.3 7.3l-7.3-7.3zM381.5 395.2l7.3 7.3l-7.3 7.3l-7.3-7.3zM382.1 395.2l7.3 7.3l-7.3 7.3l-7.3-7.3zM382.7 394.6l7.3 7.3l-7.3 7.3l-7.3-7.3zM383.3 395.9l7.3 7.3l-7.3 7.3l-7.3-7.3zM383.9 394.6l7.3 7.3l-7.3 7.3l-7.3-7.3zM384.5 395.5l7.3 7.3l-7.3 7.3l-7.3-7.3zM385.1 395.2l7.3 7.3l-7.3 7.3l-7.3-7.3zM385.7 395.3l7.3 7.3l-7.3 7.3l-7.3-7.3zM386.3 394.9l7.3 7.3l-7.3 7.3l-7.3-7.3zM386.9 394.9l7.3 7.3l-7.3 7.3l-7.3-7.3zM387.5 394.5l7.3 7.3l-7.3 7.3l-7.3-7.3zM388.1 394.1l7.3 7.3l-7.3 7.3l-7.3-7.3zM388.7 394.9l7.3 7.3l-7.3 7.3l-7.3-7.3zM389.3 394.8l7.3 7.3l-7.3 7.3l-7.3-7.3zM389.9 394.3l7.3 7.3l-7.3 7.3l-7.3-7.3zM390.5 395.2l7.3 7.3l-7.3 7.3l-7.3-7.3zM391.1 395.2l7.3 7.3l-7.3 7.3l-7.3-7.3zM391.7 394.3l7.3 7.3l-7.3 7.3l-7.3-7.3zM392.3 394.4l7.3 7.3l-7.3 7.3l-7.3-7.3zM392.9 393.9l7.3 7.3l-7.3 7.3l-7.3-7.3zM393.5 394.7l7.3 7.3l-7.3 7.3l-7.3-7.3zM394.1 393.8l7.3 7.3l-7.3 7.3l-7.3-7.3zM394.7 394l7.3 7.3l-7.3 7.3l-7.3-7.3zM395.3 394.9l7.3 7.3l-7.3 7.3l-7.3-7.3zM395.9 393.6l7.3 7.3l-7.3 7.3l-7.3-7.3zM396.5 394.7l7.3 7.3l-7.3 7.3l-7.3-7.3zM397.1 394.1l7.3 7.3l-7.3 7.3l-7.3-7.3zM397.7 393.5l7.3 7.3l-7.3 7.3l-7.3-7.3zM398.3 394.4l7.3 7.3l-7.3 7.3l-7.3-7.3zM399 394.1l7.3 7.3l-7.3 7.3l-7.3-7.3zM399.6 394.3l7.3 7.3l-7.3 7.3l-7.3-7.3zM400.2 393.6l7.3 7.3l-7.3 7.3l-7.3-7.3zM400.8 393.5l7.3 7.3l-7.3 7.3l-7.3-7.3zM401.4 393.1l7.3 7.3l-7.3 7.3l-7.3-7.3zM402 393.1l7.3 7.3l-7.3 7.3l-7.3-7.3zM402.6 393.7l7.3 7.3l-7.3 7.3l-7.3-7.3zM403.2 393.5l7.3 7.3l-7.3 7.3l-7.3-7.3zM403.8 392.9l7.3 7.3l-7.3 7.3l-7.3-7.3zM404.4 393l7.3 7.3l-7.3 7.3l-7.3-7.3zM405 393.5l7.3 7.3l-7.3 7.3l-7.3-7.3zM405.6 392.7l7.3 7.3l-7.3 7.3l-7.3-7.3zM406.2 392.6l7.3 7.3l-7.3 7.3l-7.3-7.3zM406.8 393.6l7.3 7.3l-7.3 7.3l-7.3-7.3zM407.4 392.7l7.3 7.3l-7.3 7.3l-7.3-7.3zM408 393.1l7.3 7.3l-7.3 7.3l-7.3-7.3zM408.6 393.9l7.3 7.3l-7.3 7.3l-7.3-7.3zM409.2 392.6l7.3 7.3l-7.3 7.3l-7.3-7.3zM409.8 393l7.3 7.3l-7.3 7.3l-7.3-7.3zM410.4 392.6l7.3 7.3l-7.3 7.3l-7.3-7.3zM411 393.5l7.3 7.3l-7.3 7.3l-7.3-7.3zM411.6 393l7.3 7.3l-7.3 7.3l-7.3-7.3zM412.2 392.3l7.3 7.3l-7.3 7.3l-7.3-7.3zM412.8 393.3l7.3 7.3l-7.3 7.3l-7.3-7.3zM413.4 393.5l7.3 7.3l-7.3 7.3l-7.3-7.3zM414 393.3l7.3 7.3l-7.3 7.3l-7.3-7.3zM414.6 392.4l7.3 7.3l-7.3 7.3l-7.3-7.3zM415.2 393.5l7.3 7.3l-7.3 7.3l-7.3-7.3zM415.8 393l7.3 7.3l-7.3 7.3l-7.3-7.3zM416.4 392.5l7.3 7.3l-7.3 7.3l-7.3-7.3zM417 392l7.3 7.3l-7.3 7.3l-7.3-7.3zM417.6 392.6l7.3 7.3l-7.3 7.3l-7.3-7.3zM418.2 391.9l7.3 7.3l-7.3 7.3l-7.3-7.3zM418.8 391.9l7.3 7.3l-7.3 7.3l-7.3-7.3zM419.4 392.7l7.3 7.3l-7.3 7.3l-7.3-7.3zM420 392.8l7.3 7.3l-7.3 7.3l-7.3-7.3zM420.6 392.6l7.3 7.3l-7.3 7.3l-7.3-7.3zM421.2 392.3l7.3 7.3l-7.3 7.3l-7.3-7.3zM421.8 392.8l7.3 7.3l-7.3 7.3l-7.3-7.3zM422.4 392.8l7.3 7.3l-7.3 7.3l-7.3-7.3zM423 391.5l7.3 7.3l-7.3 7.3l-7.3-7.3zM423.6 392.5l7.3 7.3l-7.3 7.3l-7.3-7.3zM424.2 392.6l7.3 7.3l-7.3 7.3l-7.3-7.3zM424.8 392.3l7.3 7.3l-7.3 7.3l-7.3-7.3zM425.5 391.9l7.3 7.3l-7.3 7.3l-7.3-7.3zM426.1 392.4l7.3 7.3l-7.3 7.3l-7.3-7.3zM426.7 391.3l7.3 7.3l-7.3 7.3l-7.3-7.3zM427.3 392.6l7.3 7.3l-7.3 7.3l-7.3-7.3zM427.9 392l7.3 7.3l-7.3 7.3l-7.3-7.3zM428.5 392l7.3 7.3l-7.3 7.3l-7.3-7.3zM429.1 392.1l7.3 7.3l-7.3 7.3l-7.3-7.3zM429.7 391.7l7.3 7.3l-7.3 7.3l-7.3-7.3zM430.3 391.4l7.3 7.3l-7.3 7.3l-7.3-7.3zM430.9 391.3l7.3 7.3l-7.3 7.3l-7.3-7.3zM431.5 391.1l7.3 7.3l-7.3 7.3l-7.3-7.3zM432.1 390.9l7.3 7.3l-7.3 7.3l-7.3-7.3zM432.7 392.1l7.3 7.3l-7.3 7.3l-7.3-7.3zM433.3 392.3l7.3 7.3l-7.3 7.3l-7.3-7.3zM433.9 391.8l7.3 7.3l-7.3 7.3l-7.3-7.3zM434.5 391.2l7.3 7.3l-7.3 7.3l-7.3-7.3zM435.1 391.3l7.3 7.3l-7.3 7.3l-7.3-7.3zM435.7 391.9l7.3 7.3l-7.3 7.3l-7.3-7.3zM436.3 391.3l7.3 7.3l-7.3 7.3l-7.3-7.3zM436.9 391.1l7.3 7.3l-7.3 7.3l-7.3-7.3zM437.5 391.7l7.3 7.3l-7.3 7.3l-7.3-7.3zM438.1 390.9l7.3 7.3l-7.3 7.3l-7.3-7.3zM438.7 390.6l7.3 7.3l-7.3 7.3l-7.3-7.3zM439.3 391l7.3 7.3l-7.3 7.3l-7.3-7.3zM439.9 391.7l7.3 7.3l-7.3 7.3l-7.3-7.3zM440.5 391.8l7.3 7.3l-7.3 7.3l-7.3-7.3zM441.1 390.6l7.3 7.3l-7.3 7.3l-7.3-7.3zM441.7 391.4l7.3 7.3l-7.3 7.3l-7.3-7.3zM442.3 390.4l7.3 7.3l-7.3 7.3l-7.3-7.3zM442.9 391.2l7.3 7.3l-7.3 7.3l-7.3-7.3zM443.5 390.3l7.3 7.3l-7.3 7.3l-7.3-7.3zM444.1 390.4l7.3 7.3l-7.3 7.3l-7.3-7.3zM444.7 391.2l7.3 7.3l-7.3 7.3l-7.3-7.3zM445.3 390.2l7.3 7.3l-7.3 7.3l-7.3-7.3zM445.9 390.8l7.3 7.3l-7.3 7.3l-7.3-7.3zM446.5 390.5l7.3 7.3l-7.3 7.3l-7.3-7.3zM447.1 391.4l7.3 7.3l-7.3 7.3l-7.3-7.3zM447.7 391l7.3 7.3l-7.3 7.3l-7.3-7.3zM448.3 390.3l7.3 7.3l-7.3 7.3l-7.3-7.3zM448.9 391.3l7.3 7.3l-7.3 7.3l-7.3-7.3zM449.5 390.7l7.3 7.3l-7.3 7.3l-7.3-7.3zM450.1 390l7.3 7.3l-7.3 7.3l-7.3-7.3zM450.7 390.1l7.3 7.3l-7.3 7.3l-7.3-7.3zM451.4 390.9l7.3 7.3l-7.3 7.3l-7.3-7.3zM452 391.1l7.3 7.3l-7.3 7.3l-7.3-7.3zM452.6 389.6l7.3 7.3l-7.3 7.3l-7.3-7.3zM453.2 390.4l7.3 7.3l-7.3 7.3l-7.3-7.3zM453.8 389.8l7.3 7.3l-7.3 7.3l-7.3-7.3zM454.4 390.5l7.3 7.3l-7.3 7.3l-7.3-7.3zM455 389.4l7.3 7.3l-7.3 7.3l-7.3-7.3zM455.6 390.5l7.3 7.3l-7.3 7.3l-7.3-7.3zM456.2 390.2l7.3 7.3l-7.3 7.3l-7.3-7.3zM456.8 390.3l7.3 7.3l-7.3 7.3l-7.3-7.3zM457.4 390l7.3 7.3l-7.3 7.3l-7.3-7.3zM458 390.3l7.3 7.3l-7.3 7.3l-7.3-7.3zM458.6 390.5l7.3 7.3l-7.3 7.3l-7.3-7.3zM459.2 389.3l7.3 7.3l-7.3 7.3l-7.3-7.3zM459.8 389.7l7.3 7.3l-7.3 7.3l-7.3-7.3zM460.4 389.4l7.3 7.3l-7.3 7.3l-7.3-7.3zM461 389.8l7.3 7.3l-7.3 7.3l-7.3-7.3zM461.6 390l7.3 7.3l-7.3 7.3l-7.3-7.3zM462.2 389.6l7.3 7.3l-7.3 7.3l-7.3-7.3zM462.8 390.2l7.3 7.3l-7.3 7.3l-7.3-7.3zM463.4 388.9l7.3 7.3l-7.3 7.3l-7.3-7.3zM464 389.1l7.3 7.3l-7.3 7.3l-7.3-7.3zM464.6 389.1l7.3 7.3l-7.3 7.3l-7.3-7.3zM465.2 389l7.3 7.3l-7.3 7.3l-7.3-7.3zM465.8 389.7l7.3 7.3l-7.3 7.3l-7.3-7.3zM466.4 389.8l7.3 7.3l-7.3 7.3l-7.3-7.3zM467 389.3l7.3 7.3l-7.3 7.3l-7.3-7.3zM467.6 389.8l7.3 7.3l-7.3 7.3l-7.3-7.3zM468.2 389.2l7.3 7.3l-7.3 7.3l-7.3-7.3zM468.8 389.5l7.3 7.3l-7.3 7.3l-7.3-7.3zM469.4 388.6l7.3 7.3l-7.3 7.3l-7.3-7.3zM470 389.1l7.3 7.3l-7.3 7.3l-7.3-7.3zM470.6 388.6l7.3 7.3l-7.3 7.3l-7.3-7.3zM471.2 389.6l7.3 7.3l-7.3 7.3l-7.3-7.3zM471.8 389.5l7.3 7.3l-7.3 7.3l-7.3-7.3zM472.4 389.7l7.3 7.3l-7.3 7.3l-7.3-7.3zM473 389.7l7.3 7.3l-7.3 7.3l-7.3-7.3zM473.6 389.2l7.3 7.3l-7.3 7.3l-7.3-7.3zM474.2 388.5l7.3 7.3l-7.3 7.3l-7.3-7.3zM474.8 388.7l7.3 7.3l-7.3 7.3l-7.3-7.3zM475.4 389.2l7.3 7.3l-7.3 7.3l-7.3-7.3zM476 389.3l7.3 7.3l-7.3 7.3l-7.3-7.3zM476.6 389.3l7.3 7.3l-7.3 7.3l-7.3-7.3zM477.2 388.3l7.3 7.3l-7.3 7.3l-7.3-7.3zM477.9 388.3l7.3 7.3l-7.3 7.3l-7.3-7.3zM478.5 389.2l7.3 7.3l-7.3 7.3l-7.3-7.3zM479.1 388.2l7.3 7.3l-7.3 7.3l-7.3-7.3zM479.7 388.8l7.3 7.3l-7.3 7.3l-7.3-7.3zM480.3 388.6l7.3 7.3l-7.3 7.3l-7.3-7.3zM480.9 389.2l7.3 7.3l-7.3 7.3l-7.3-7.3zM481.5 388l7.3 7.3l-7.3 7.3l-7.3-7.3zM482.1 389l7.3 7.3l-7.3 7.3l-7.3-7.3zM482.7 388.4l7.3 7.3l-7.3 7.3l-7.3-7.3zM483.3 388.9l7.3 7.3l-7.3 7.3l-7.3-7.3zM483.9 388l7.3 7.3l-7.3 7.3l-7.3-7.3zM484.5 388.7l7.3 7.3l-7.3 7.3l-7.3-7.3zM485.1 388.9l7.3 7.3l-7.3 7.3l-7.3-7.3zM485.7 388.7l7.3 7.3l-7.3 7.3l-7.3-7.3zM486.3 388.8l7.3 7.3l-7.3 7.3l-7.3-7.3zM486.9 388.6l7.3 7.3l-7.3 7.3l-7.3-7.3zM487.5 388.4l7.3 7.3l-7.3 7.3l-7.3-7.3zM488.1 388.6l7.3 7.3l-7.3 7.3l-7.3-7.3zM488.7 387.7l7.3 7.3l-7.3 7.3l-7.3-7.3zM489.3 388.5l7.3 7.3l-7.3 7.3l-7.3-7.3zM489.9 387.7l7.3 7.3l-7.3 7.3l-7.3-7.3zM490.5 388.1l7.3 7.3l-7.3 7.3l-7.3-7.3zM491.1 388.1l7.3 7.3l-7.3 7.3l-7.3-7.3zM491.7 387.5l7.3 7.3l-7.3 7.3l-7.3-7.3zM492.3 387.7l7.3 7.3l-7.3 7.3l-7.3-7.3zM492.9 388.4l7.3 7.3l-7.3 7.3l-7.3-7.3zM493.5 388.2l7.3 7.3l-7.3 7.3l-7.3-7.3zM494.1 388l7.3 7.3l-7.3 7.3l-7.3-7.3zM494.7 388.2l7.3 7.3l-7.3 7.3l-7.3-7.3zM495.3 387.8l7.3 7.3l-7.3 7.3l-7.3-7.3zM495.9 387.9l7.3 7.3l-7.3 7.3l-7.3-7.3zM496.5 387.8l7.3 7.3l-7.3 7.3l-7.3-7.3zM497.1 388.2l7.3 7.3l-7.3 7.3l-7.3-7.3zM497.7 387.1l7.3 7.3l-7.3 7.3l-7.3-7.3zM498.3 388.3l7.3 7.3l-7.3 7.3l-7.3-7.3zM498.9 387l7.3 7.3l-7.3 7.3l-7.3-7.3zM499.5 387.4l7.3 7.3l-7.3 7.3l-7.3-7.3zM500.1 388.4l7.3 7.3l-7.3 7.3l-7.3-7.3zM500.7 387.2l7.3 7.3l-7.3 7.3l-7.3-7.3zM501.3 387.4l7.3 7.3l-7.3 7.3l-7.3-7.3zM501.9 387.1l7.3 7.3l-7.3 7.3l-7.3-7.3zM502.5 388.1l7.3 7.3l-7.3 7.3l-7.3-7.3zM503.1 387l7.3 7.3l-7.3 7.3l-7.3-7.3zM503.8 387.3l7.3 7.3l-7.3 7.3l-7.3-7.3zM504.4 387.2l7.3 7.3l-7.3 7.3l-7.3-7.3zM505 387l7.3 7.3l-7.3 7.3l-7.3-7.3zM505.6 387.5l7.3 7.3l-7.3 7.3l-7.3-7.3zM506.2 387.2l7.3 7.3l-7.3 7.3l-7.3-7.3zM506.8 388l7.3 7.3l-7.3 7.3l-7.3-7.3zM507.4 387.3l7.3 7.3l-7.3 7.3l-7.3-7.3zM508 387.6l7.3 7.3l-7.3 7.3l-7.3-7.3zM508.6 386.5l7.3 7.3l-7.3 7.3l-7.3-7.3zM509.2 387.7l7.3 7.3l-7.3 7.3l-7.3-7.3zM509.8 387.3l7.3 7.3l-7.3 7.3l-7.3-7.3zM510.4 386.9l7.3 7.3l-7.3 7.3l-7.3-7.3zM511 387.2l7.3 7.3l-7.3 7.3l-7.3-7.3zM511.6 386.4l7.3 7.3l-7.3 7.3l-7.3-7.3zM512.2 386.6l7.3 7.3l-7.3 7.3l-7.3-7.3zM512.8 387.4l7.3 7.3l-7.3 7.3l-7.3-7.3zM513.4 387l7.3 7.3l-7.3 7.3l-7.3-7.3zM514 387.6l7.3 7.3l-7.3 7.3l-7.3-7.3zM514.6 387.3l7.3 7.3l-7.3 7.3l-7.3-7.3zM515.2 387.6l7.3 7.3l-7.3 7.3l-7.3-7.3zM515.8 387.4l7.3 7.3l-7.3 7.3l-7.3-7.3zM516.4 386.3l7.3 7.3l-7.3 7.3l-7.3-7.3zM517 387.4l7.3 7.3l-7.3 7.3l-7.3-7.3zM517.6 387.1l7.3 7.3l-7.3 7.3l-7.3-7.3zM518.2 386.3l7.3 7.3l-7.3 7.3l-7.3-7.3zM518.8 386.2l7.3 7.3l-7.3 7.3l-7.3-7.3zM519.4 386.4l7.3 7.3l-7.3 7.3l-7.3-7.3zM520 387.2l7.3 7.3l-7.3 7.3l-7.3-7.3zM520.6 386.5l7.3 7.3l-7.3 7.3l-7.3-7.3zM521.2 386.7l7.3 7.3l-7.3 7.3l-7.3-7.3zM521.8 386.6l7.3 7.3l-7.3 7.3l-7.3-7.3zM522.4 386.8l7.3 7.3l-7.3 7.3l-7.3-7.3zM523 386.5l7.3 7.3l-7.3 7.3l-7.3-7.3zM523.6 385.9l7.3 7.3l-7.3 7.3l-7.3-7.3zM524.2 387.2l7.3 7.3l-7.3 7.3l-7.3-7.3zM524.8 386.6l7.3 7.3l-7.3 7.3l-7.3-7.3zM525.4 385.7l7.3 7.3l-7.3 7.3l-7.3-7.3zM526 385.9l7.3 7.3l-7.3 7.3l-7.3-7.3zM526.6 387.1l7.3 7.3l-7.3 7.3l-7.3-7.3zM527.2 387.1l7.3 7.3l-7.3 7.3l-7.3-7.3zM527.8 386.3l7.3 7.3l-7.3 7.3l-7.3-7.3zM528.4 386.1l7.3 7.3l-7.3 7.3l-7.3-7.3zM529 386.2l7.3 7.3l-7.3 7.3l-7.3-7.3zM529.6 386l7.3 7.3l-7.3 7.3l-7.3-7.3zM530.3 386.2l7.3 7.3l-7.3 7.3l-7.3-7.3zM530.9 386.4l7.3 7.3l-7.3 7.3l-7.3-7.3zM531.5 385.6l7.3 7.3l-7.3 7.3l-7.3-7.3zM532.1 386.8l7.3 7.3l-7.3 7.3l-7.3-7.3zM532.7 385.7l7.3 7.3l-7.3 7.3l-7.3-7.3zM533.3 385.4l7.3 7.3l-7.3 7.3l-7.3-7.3zM533.9 386.2l7.3 7.3l-7.3 7.3l-7.3-7.3zM534.5 385.8l7.3 7.3l-7.3 7.3l-7.3-7.3zM535.1 386.4l7.3 7.3l-7.3 7.3l-7.3-7.3zM535.7 385.5l7.3 7.3l-7.3 7.3l-7.3-7.3zM536.3 386l7.3 7.3l-7.3 7.3l-7.3-7.3zM536.9 385.3l7.3 7.3l-7.3 7.3l-7.3-7.3zM537.5 386.4l7.3 7.3l-7.3 7.3l-7.3-7.3zM538.1 385.5l7.3 7.3l-7.3 7.3l-7.3-7.3zM538.7 386.5l7.3 7.3l-7.3 7.3l-7.3-7.3zM539.3 385.4l7.3 7.3l-7.3 7.3l-7.3-7.3zM539.9 385.9l7.3 7.3l-7.3 7.3l-7.3-7.3zM540.5 385.6l7.3 7.3l-7.3 7.3l-7.3-7.3zM541.1 386.4l7.3 7.3l-7.3 7.3l-7.3-7.3zM541.7 385.5l7.3 7.3l-7.3 7.3l-7.3-7.3zM542.3 385.8l7.3 7.3l-7.3 7.3l-7.3-7.3zM542.9 386.2l7.3 7.3l-7.3 7.3l-7.3-7.3zM543.5 385l7.3 7.3l-7.3 7.3l-7.3-7.3zM544.1 385.6l7.3 7.3l-7.3 7.3l-7.3-7.3zM544.7 386.1l7.3 7.3l-7.3 7.3l-7.3-7.3zM545.3 385.2l7.3 7.3l-7.3 7.3l-7.3-7.3zM545.9 384.9l7.3 7.3l-7.3 7.3l-7.3-7.3zM546.5 385.6l7.3 7.3l-7.3 7.3l-7.3-7.3zM547.1 386l7.3 7.3l-7.3 7.3l-7.3-7.3zM547.7 386l7.3 7.3l-7.3 7.3l-7.3-7.3zM548.3 385.4l7.3 7.3l-7.3 7.3l-7.3-7.3zM548.9 384.9l7.3 7.3l-7.3 7.3l-7.3-7.3zM549.5 384.6l7.3 7.3l-7.3 7.3l-7.3-7.3zM550.1 385.2l7.3 7.3l-7.3 7.3l-7.3-7.3zM550.7 384.7l7.3 7.3l-7.3 7.3l-7.3-7.3zM551.3 385.4l7.3 7.3l-7.3 7.3l-7.3-7.3zM551.9 385.5l7.3 7.3l-7.3 7.3l-7.3-7.3zM552.5 385.5l7.3 7.3l-7.3 7.3l-7.3-7.3zM553.1 384.8l7.3 7.3l-7.3 7.3l-7.3-7.3zM553.7 385.9l7.3 7.3l-7.3 7.3l-7.3-7.3zM554.3 385.6l7.3 7.3l-7.3 7.3l-7.3-7.3zM554.9 385.3l7.3 7.3l-7.3 7.3l-7.3-7.3zM555.5 385.6l7.3 7.3l-7.3 7.3l-7.3-7.3zM556.2 385.8l7.3 7.3l-7.3 7.3l-7.3-7.3zM556.8 384.8l7.3 7.3l-7.3 7.3l-7.3-7.3zM557.4 385.5l7.3 7.3l-7.3 7.3l-7.3-7.3zM558 384.9l7.3 7.3l-7.3 7.3l-7.3-7.3zM558.6 384.8l7.3 7.3l-7.3 7.3l-7.3-7.3zM559.2 385.7l7.3 7.3l-7.3 7.3l-7.3-7.3zM559.8 384.4l7.3 7.3l-7.3 7.3l-7.3-7.3zM560.4 384.9l7.3 7.3l-7.3 7.3l-7.3-7.3zM561 385.3l7.3 7.3l-7.3 7.3l-7.3-7.3zM561.6 385.1l7.3 7.3l-7.3 7.3l-7.3-7.3zM562.2 384.7l7.3 7.3l-7.3 7.3l-7.3-7.3zM562.8 385.2l7.3 7.3l-7.3 7.3l-7.3-7.3zM563.4 384.4l7.3 7.3l-7.3 7.3l-7.3-7.3zM564 384.8l7.3 7.3l-7.3 7.3l-7.3-7.3zM564.6 384.7l7.3 7.3l-7.3 7.3l-7.3-7.3zM565.2 384.2l7.3 7.3l-7.3 7.3l-7.3-7.3zM565.8 384.2l7.3 7.3l-7.3 7.3l-7.3-7.3zM566.4 385.2l7.3 7.3l-7.3 7.3l-7.3-7.3zM567 384l7.3 7.3l-7.3 7.3l-7.3-7.3zM567.6 385.3l7.3 7.3l-7.3 7.3l-7.3-7.3zM568.2 384.3l7.3 7.3l-7.3 7.3l-7.3-7.3zM568.8 385.3l7.3 7.3l-7.3 7.3l-7.3-7.3zM569.4 384.9l7.3 7.3l-7.3 7.3l-7.3-7.3zM570 384.5l7.3 7.3l-7.3 7.3l-7.3-7.3zM570.6 385l7.3 7.3l-7.3 7.3l-7.3-7.3zM571.2 383.9l7.3 7.3l-7.3 7.3l-7.3-7.3zM571.8 384.5l7.3 7.3l-7.3 7.3l-7.3-7.3zM572.4 384.8l7.3 7.3l-7.3 7.3l-7.3-7.3zM573 384.7l7.3 7.3l-7.3 7.3l-7.3-7.3zM573.6 384.1l7.3 7.3l-7.3 7.3l-7.3-7.3zM574.2 383.7l7.3 7.3l-7.3 7.3l-7.3-7.3zM574.8 385l7.3 7.3l-7.3 7.3l-7.3-7.3zM575.4 384.9l7.3 7.3l-7.3 7.3l-7.3-7.3zM576 384l7.3 7.3l-7.3 7.3l-7.3-7.3zM576.6 384.7l7.3 7.3l-7.3 7.3l-7.3-7.3zM577.2 383.7l7.3 7.3l-7.3 7.3l-7.3-7.3zM577.8 383.8l7.3 7.3l-7.3 7.3l-7.3-7.3zM578.4 384.9l7.3 7.3l-7.3 7.3l-7.3-7.3zM579 383.5l7.3 7.3l-7.3 7.3l-7.3-7.3zM579.6 384.2l7.3 7.3l-7.3 7.3l-7.3-7.3zM580.2 384.4l7.3 7.3l-7.3 7.3l-7.3-7.3zM580.8 384.5l7.3 7.3l-7.3 7.3l-7.3-7.3zM581.4 384.7l7.3 7.3l-7.3 7.3l-7.3-7.3zM582.1 383.4l7.3 7.3l-7.3 7.3l-7.3-7.3zM582.7 384.3l7.3 7.3l-7.3 7.3l-7.3-7.3zM583.3 384.2l7.3 7.3l-7.3 7.3l-7.3-7.3zM583.9 384l7.3 7.3l-7.3 7.3l-7.3-7.3zM584.5 383.6l7.3 7.3l-7.3 7.3l-7.3-7.3zM585.1 384.4l7.3 7.3l-7.3 7.3l-7.3-7.3zM585.7 383.7l7.3 7.3l-7.3 7.3l-7.3-7.3zM586.3 384.1l7.3 7.3l-7.3 7.3l-7.3-7.3zM586.9 383.6l7.3 7.3l-7.3 7.3l-7.3-7.3zM587.5 383.7l7.3 7.3l-7.3 7.3l-7.3-7.3zM588.1 384.5l7.3 7.3l-7.3 7.3l-7.3-7.3zM588.7 383.3l7.3 7.3l-7.3 7.3l-7.3-7.3zM589.3 384.3l7.3 7.3l-7.3 7.3l-7.3-7.3zM589.9 383l7.3 7.3l-7.3 7.3l-7.3-7.3zM590.5 384.4l7.3 7.3l-7.3 7.3l-7.3-7.3zM591.1 383.9l7.3 7.3l-7.3 7.3l-7.3-7.3zM591.7 383.4l7.3 7.3l-7.3 7.3l-7.3-7.3zM592.3 384.1l7.3 7.3l-7.3 7.3l-7.3-7.3zM592.9 384l7.3 7.3l-7.3 7.3l-7.3-7.3zM593.5 384.3l7.3 7.3l-7.3 7.3l-7.3-7.3zM594.1 383.9l7.3 7.3l-7.3 7.3l-7.3-7.3zM594.7 383.9l7.3 7.3l-7.3 7.3l-7.3-7.3zM595.3 383.3l7.3 7.3l-7.3 7.3l-7.3-7.3zM595.9 384l7.3 7.3l-7.3 7.3l-7.3-7.3zM596.5 383.9l7.3 7.3l-7.3 7.3l-7.3-7.3zM597.1 383.4l7.3 7.3l-7.3 7.3l-7.3-7.3zM597.7 383l7.3 7.3l-7.3 7.3l-7.3-7.3zM598.3 384.1l7.3 7.3l-7.3 7.3l-7.3-7.3zM598.9 383.3l7.3 7.3l-7.3 7.3l-7.3-7.3zM599.5 383.8l7.3 7.3l-7.3 7.3l-7.3-7.3zM600.1 382.7l7.3 7.3l-7.3 7.3l-7.3-7.3zM600.7 383l7.3 7.3l-7.3 7.3l-7.3-7.3zM601.3 382.8l7.3 7.3l-7.3 7.3l-7.3-7.3zM601.9 383.6l7.3 7.3l-7.3 7.3l-7.3-7.3zM602.5 383.1l7.3 7.3l-7.3 7.3l-7.3-7.3zM603.1 383.7l7.3 7.3l-7.3 7.3l-7.3-7.3zM603.7 383l7.3 7.3l-7.3 7.3l-7.3-7.3zM604.3 382.9l7.3 7.3l-7.3 7.3l-7.3-7.3zM604.9 382.9l7.3 7.3l-7.3 7.3l-7.3-7.3zM605.5 382.7l7.3 7.3l-7.3 7.3l-7.3-7.3zM606.1 383.2l7.3 7.3l-7.3 7.3l-7.3-7.3zM606.7 383.1l7.3 7.3l-7.3 7.3l-7.3-7.3zM607.3 383.7l7.3 7.3l-7.3 7.3l-7.3-7.3zM607.9 382.8l7.3 7.3l-7.3 7.3l-7.3-7.3zM608.6 382.4l7.3 7.3l-7.3 7.3l-7.3-7.3zM609.2 383.6l7.3 7.3l-7.3 7.3l-7.3-7.3zM609.8 383.7l7.3 7.3l-7.3 7.3l-7.3-7.3zM610.4 383l7.3 7.3l-7.3 7.3l-7.3-7.3zM611 382.3l7.3 7.3l-7.3 7.3l-7.3-7.3zM611.6 382.9l7.3 7.3l-7.3 7.3l-7.3-7.3zM612.2 382.4l7.3 7.3l-7.3 7.3l-7.3-7.3zM612.8 382.6l7.3 7.3l-7.3 7.3l-7.3-7.3zM613.4 382.7l7.3 7.3l-7.3 7.3l-7.3-7.3zM614 382.1l7.3 7.3l-7.3 7.3l-7.3-7.3zM614.6 382.8l7.3 7.3l-7.3 7.3l-7.3-7.3zM615.2 382.8l7.3 7.3l-7.3 7.3l-7.3-7.3zM615.8 382.4l7.3 7.3l-7.3 7.3l-7.3-7.3zM616.4 382.1l7.3 7.3l-7.3 7.3l-7.3-7.3zM617 382.9l7.3 7.3l-7.3 7.3l-7.3-7.3zM617.6 382.9l7.3 7.3l-7.3 7.3l-7.3-7.3zM618.2 383.4l7.3 7.3l-7.3 7.3l-7.3-7.3zM618.8 382.8l7.3 7.3l-7.3 7.3l-7.3-7.3zM619.4 382.2l7.3 7.3l-7.3 7.3l-7.3-7.3zM620 382.1l7.3 7.3l-7.3 7.3l-7.3-7.3zM620.6 381.8l7.3 7.3l-7.3 7.3l-7.3-7.3zM621.2 381.9l7.3 7.3l-7.3 7.3l-7.3-7.3zM621.8 383l7.3 7.3l-7.3 7.3l-7.3-7.3zM622.4 381.8l7.3 7.3l-7.3 7.3l-7.3-7.3zM623 382.4l7.3 7.3l-7.3 7.3l-7.3-7.3zM623.6 382l7.3 7.3l-7.3 7.3l-7.3-7.3zM624.2 382.7l7.3 7.3l-7.3 7.3l-7.3-7.3zM624.8 382.9l7.3 7.3l-7.3 7.3l-7.3-7.3zM625.4 382.5l7.3 7.3l-7.3 7.3l-7.3-7.3zM626 382.7l7.3 7.3l-7.3 7.3l-7.3-7.3zM626.6 381.6l7.3 7.3l-7.3 7.3l-7.3-7.3zM627.2 381.7l7.3 7.3l-7.3 7.3l-7.3-7.3zM627.8 381.6l7.3 7.3l-7.3 7.3l-7.3-7.3zM628.4 381.9l7.3 7.3l-7.3 7.3l-7.3-7.3zM629 381.5l7.3 7.3l-7.3 7.3l-7.3-7.3zM629.6 382.6l7.3 7.3l-7.3 7.3l-7.3-7.3zM630.2 382.8l7.3 7.3l-7.3 7.3l-7.3-7.3zM630.8 382.6l7.3 7.3l-7.3 7.3l-7.3-7.3zM631.4 381.8l7.3 7.3l-7.3 7.3l-7.3-7.3zM632 382l7.3 7.3l-7.3 7.3l-7.3-7.3zM632.6 382.4l7.3 7.3l-7.3 7.3l-7.3-7.3zM633.2 381.6l7.3 7.3l-7.3 7.3l-7.3-7.3zM633.8 381.8l7.3 7.3l-7.3 7.3l-7.3-7.3zM634.5 382.4l7.3 7.3l-7.3 7.3l-7.3-7.3zM635.1 382.1l7.3 7.3l-7.3 7.3l-7.3-7.3zM635.7 381.9l7.3 7.3l-7.3 7.3l-7.3-7.3zM636.3 381.6l7.3 7.3l-7.3 7.3l-7.3-7.3zM636.9 382.4l7.3 7.3l-7.3 7.3l-7.3-7.3zM637.5 381.7l7.3 7.3l-7.3 7.3l-7.3-7.3z"/><path fill="none" stroke="#b0e0e6" stroke-width="2" d="M95.9 525.9 L95.9 524.7 L95.9 523.5 L96.0 522.3 L96.0 521.1 L96.0 519.9 L96.0 518.7 L96.1 517.5 L96.1 516.3 L96.1 515.1 L96.1 513.9 L96.2 512.7 L96.2 511.5 L96.2 510.3 L96.2 509.1 L96.2 507.9 L96.3 506.7 L96.3 505.5 L96.3 504.3 L96.4 503.1 L96.5 501.9 L96.6 500.7 L96.6 499.5 L96.7 498.3 L96.8 497.1 L96.8 495.9 L96.9 494.7 L97.0 493.5 L97.1 492.3 L97.1 491.1 L97.2 489.9 L97.4 488.7 L97.6 487.6 L97.8 486.4 L98.0 485.2 L98.2 484.0 L98.4 482.8 L98.8 481.7 L99.2 480.6 L99.5 479.4 L99.9 478.3 L100.3 477.1 L100.7 476.0 L101.1 474.9 L101.4 473.7 L101.8 472.6 L102.2 471.4 L102.6 470.3 L103.2 469.3 L103.8 468.2 L104.4 467.2 L105.1 466.2 L105.8 465.2 L106.5 464.3 L107.2 463.3 L108.0 462.4 L108.8 461.5 L109.6 460.6 L110.4 459.8 L111.3 458.9 L112.2 458.1 L113.1 457.3 L114.0 456.5 L114.9 455.8 L115.9 455.0 L116.8 454.3 L117.8 453.6 L118.8 452.9 L119.8 452.2 L120.8 451.6 L121.8 450.9 L122.8 450.3 L123.8 449.7 L124.9 449.1 L125.9 448.5 L127.0 448.0 L128.1 447.4 L129.1 446.9 L130.2 446.3 L131.3 445.8 L132.4 445.3 L133.5 444.8 L134.5 444.3 L135.6 443.8 L136.8 443.4 L137.9 442.9 L139.0 442.4 L140.1 442.0 L141.2 441.5 L142.3 441.1 L143.4 440.7 L144.6 440.3 L145.7 439.9 L146.8 439.5 L148.0 439.1 L149.1 438.7 L150.2 438.3 L151.4 437.9 L152.5 437.5 L153.7 437.2 L154.8 436.8 L155.9 436.5 L157.1 436.1 L158.2 435.8 L159.4 435.4 L160.5 435.1 L161.7 434.8 L162.9 434.4 L164.0 434.1 L165.2 433.8 L166.3 433.5 L167.5 433.2 L168.6 432.9 L169.8 432.6 L171.0 432.3 L172.1 432.0 L173.3 431.7 L174.5 431.4 L175.6 431.1 L176.8 430.8 L178.0 430.5 L179.1 430.3 L180.3 430.0 L181.5 429.7 L182.6 429.5 L183.8 429.2 L185.0 428.9 L186.1 428.7 L187.3 428.4 L188.5 428.2 L189.7 427.9 L190.8 427.7 L192.0 427.4 L193.2 427.2 L194.4 426.9 L195.5 426.7 L196.7 426.5 L197.9 426.2 L199.1 426.0 L200.3 425.8 L201.4 425.5 L202.6 425.3 L203.8 425.1 L205.0 424.9 L206.1 424.7 L207.3 424.4 L208.5 424.2 L209.7 424.0 L210.9 423.8 L212.0 423.6 L213.2 423.4 L214.4 423.2 L215.6 423.0 L216.8 422.8 L218.0 422.6 L219.1 422.4 L220.3 422.2 L221.5 422.0 L222.7 421.8 L223.9 421.6 L225.1 421.4 L226.2 421.2 L227.4 421.0 L228.6 420.8 L229.8 420.6 L231.0 420.4 L232.2 420.2 L233.4 420.1 L234.5 419.9 L235.7 419.7 L236.9 419.5 L238.1 419.3 L239.3 419.2 L240.5 419.0 L241.7 418.8 L242.9 418.6 L244.0 418.5 L245.2 418.3 L246.4 418.1 L247.6 418.0 L248.8 417.8 L250.0 417.6 L251.2 417.5 L252.4 417.3 L253.5 417.1 L254.7 417.0 L255.9 416.8 L257.1 416.6 L258.3 416.5 L259.5 416.3 L260.7 416.2 L261.9 416.0 L263.1 415.8 L264.3 415.7 L265.4 415.5 L266.6 415.4 L267.8 415.2 L269.0 415.1 L270.2 414.9 L271.4 414.8 L272.6 414.6 L273.8 414.5 L275.0 414.3 L276.2 414.2 L277.3 414.0 L278.5 413.9 L279.7 413.8 L280.9 413.6 L282.1 413.5 L283.3 413.3 L284.5 413.2 L285.7 413.0 L286.9 412.9 L288.1 412.8 L289.3 412.6 L290.5 412.5 L291.6 412.4 L292.8 412.2 L294.0 412.1 L295.2 411.9 L296.4 411.8 L297.6 411.7 L298.8 411.5 L300.0 411.4 L301.2 411.3 L302.4 411.1 L303.6 411.0 L304.8 410.9 L306.0 410.8 L307.2 410.6 L308.3 410.5 L309.5 410.4 L310.7 410.2 L311.9 410.1 L313.1 410.0 L314.3 409.9 L315.5 409.7 L316.7 409.6 L317.9 409.5 L319.1 409.4 L320.3 409.3 L321.5 409.1 L322.7 409.0 L323.9 408.9 L325.1 408.8 L326.3 408.6 L327.4 408.5 L328.6 408.4 L329.8 408.3 L331.0 408.2 L332.2 408.1 L333.4 407.9 L334.6 407.8 L335.8 407.7 L337.0 407.6 L338.2 407.5 L339.4 407.4 L340.6 407.3 L341.8 407.1 L343.0 407.0 L344.2 406.9 L345.4 406.8 L346.6 406.7 L347.8 406.6 L348.9 406.5 L350.1 406.4 L351.3 406.2 L352.5 406.1 L353.7 406.0 L354.9 405.9 L356.1 405.8 L357.3 405.7 L358.5 405.6 L359.7 405.5 L360.9 405.4 L362.1 405.3 L363.3 405.2 L364.5 405.1 L365.7 405.0 L366.9 404.9 L368.1 404.8 L369.3 404.6 L370.5 404.5 L371.7 404.4 L372.9 404.3 L374.0 404.2 L375.2 404.1 L376.4 404.0 L377.6 403.9 L378.8 403.8 L380.0 403.7 L381.2 403.6 L382.4 403.5 L383.6 403.4 L384.8 403.3 L386.0 403.2 L387.2 403.1 L388.4 403.0 L389.6 402.9 L390.8 402.8 L392.0 402.7 L393.2 402.6 L394.4 402.6 L395.6 402.5 L396.8 402.4 L398.0 402.3 L399.2 402.2 L400.4 402.1 L401.6 402.0 L402.8 401.9 L403.9 401.8 L405.1 401.7 L406.3 401.6 L407.5 401.5 L408.7 401.4 L409.9 401.3 L411.1 401.2 L412.3 401.1 L413.5 401.1 L414.7 401.0 L415.9 400.9 L417.1 400.8 L418.3 400.7 L419.5 400.6 L420.7 400.5 L421.9 400.4 L423.1 400.3 L424.3 400.2 L425.5 400.2 L426.7 400.1 L427.9 400.0 L429.1 399.9 L430.3 399.8 L431.5 399.7 L432.7 399.6 L433.9 399.5 L435.1 399.5 L436.3 399.4 L437.5 399.3 L438.7 399.2 L439.8 399.1 L441.0 399.0 L442.2 398.9 L443.4 398.9 L444.6 398.8 L445.8 398.7 L447.0 398.6 L448.2 398.5 L449.4 398.4 L450.6 398.3 L451.8 398.3 L453.0 398.2 L454.2 398.1 L455.4 398.0 L456.6 397.9 L457.8 397.9 L459.0 397.8 L460.2 397.7 L461.4 397.6 L462.6 397.5 L463.8 397.4 L465.0 397.4 L466.2 397.3 L467.4 397.2 L468.6 397.1 L469.8 397.0 L471.0 397.0 L472.2 396.9 L473.4 396.8 L474.6 396.7 L475.8 396.6 L477.0 396.6 L478.2 396.5 L479.4 396.4 L480.6 396.3 L481.8 396.3 L482.9 396.2 L484.1 396.1 L485.3 396.0 L486.5 395.9 L487.7 395.9 L488.9 395.8 L490.1 395.7 L491.3 395.6 L492.5 395.6 L493.7 395.5 L494.9 395.4 L496.1 395.3 L497.3 395.3 L498.5 395.2 L499.7 395.1 L500.9 395.0 L502.1 395.0 L503.3 394.9 L504.5 394.8 L505.7 394.7 L506.9 394.7 L508.1 394.6 L509.3 394.5 L510.5 394.5 L511.7 394.4 L512.9 394.3 L514.1 394.2 L515.3 394.2 L516.5 394.1 L517.7 394.0 L518.9 393.9 L520.1 393.9 L521.3 393.8 L522.5 393.7 L523.7 393.7 L524.9 393.6 L526.1 393.5 L527.3 393.4 L528.5 393.4 L529.7 393.3 L530.9 393.2 L532.1 393.2 L533.3 393.1 L534.5 393.0 L535.6 393.0 L536.8 392.9 L538.0 392.8 L539.2 392.7 L540.4 392.7 L541.6 392.6 L542.8 392.5 L544.0 392.5 L545.2 392.4 L546.4 392.3 L547.6 392.3 L548.8 392.2 L550.0 392.1 L551.2 392.1 L552.4 392.0 L553.6 391.9 L554.8 391.9 L556.0 391.8 L557.2 391.7 L558.4 391.7 L559.6 391.6 L560.8 391.5 L562.0 391.5 L563.2 391.4 L564.4 391.3 L565.6 391.3 L566.8 391.2 L568.0 391.1 L569.2 391.1 L570.4 391.0 L571.6 390.9 L572.8 390.9 L574.0 390.8 L575.2 390.7 L576.4 390.7 L577.6 390.6 L578.8 390.5 L580.0 390.5 L581.2 390.4 L582.4 390.4 L583.6 390.3 L584.8 390.2 L586.0 390.2 L587.2 390.1 L588.4 390.0 L589.6 390.0 L590.8 389.9 L592.0 389.8 L593.2 389.8 L594.4 389.7 L595.6 389.7 L596.8 389.6 L598.0 389.5 L599.2 389.5 L600.4 389.4 L601.6 389.3 L602.7 389.3 L603.9 389.2 L605.1 389.2 L606.3 389.1 L607.5 389.0 L608.7 389.0 L609.9 388.9 L611.1 388.9 L612.3 388.8 L613.5 388.7 L614.7 388.7 L615.9 388.6 L617.1 388.6 L618.3 388.5 L619.5 388.4 L620.7 388.4 L621.9 388.3 L623.1 388.3 L624.3 388.2 L625.5 388.1 L626.7 388.1 L627.9 388.0 L629.1 388.0 L630.3 387.9 L631.5 387.8 L632.7 387.8 L633.9 387.7 L635.1 387.7 L636.3 387.6 L637.5 387.5"/></g><rect x="87.2" y="46.5" width="596.0999999999999" height="479.4" fill="none" stroke="#000" stroke-width="3.4"/><path stroke="#000" stroke-width="3.2" fill="none" d="M87.2 525.90h8.9M87.2 483.56h4.5M87.2 441.22h8.9M87.2 398.88h4.5M87.2 356.54h8.9M87.2 314.20h4.5M87.2 271.86h8.9M87.2 229.52h4.5M87.2 187.18h8.9M87.2 144.84h4.5M87.2 102.49h8.9M87.2 60.15h4.5M96.05 525.9v8.9M141.20 525.9v4.5M186.35 525.9v8.9M231.50 525.9v4.5M276.65 525.9v8.9M321.80 525.9v4.5M366.95 525.9v8.9M412.10 525.9v4.5M457.25 525.9v8.9M502.40 525.9v4.5M547.55 525.9v8.9M592.70 525.9v4.5M637.85 525.9v8.9"/><text x="77.5" y="535.9" font-family="Liberation Serif" font-weight="bold" font-size="33" text-anchor="end">0</text><text x="77.5" y="451.2" font-family="Liberation Serif" font-weight="bold" font-size="33" text-anchor="end">3</text><text x="77.5" y="366.5" font-family="Liberation Serif" font-weight="bold" font-size="33" text-anchor="end">6</text><text x="77.5" y="281.9" font-family="Liberation Serif" font-weight="bold" font-size="33" text-anchor="end">9</text><text x="77.5" y="197.2" font-family="Liberation Serif" font-weight="bold" font-size="33" text-anchor="end">12</text><text x="77.5" y="112.5" font-family="Liberation Serif" font-weight="bold" font-size="33" text-anchor="end">15</text><text x="96.6" y="566.5" font-family="Liberation Serif" font-weight="bold" font-size="33" text-anchor="middle">0</text><text x="186.9" y="566.5" font-family="Liberation Serif" font-weight="bold" font-size="33" text-anchor="middle">10</text><text x="277.2" y="566.5" font-family="Liberation Serif" font-weight="bold" font-size="33" text-anchor="middle">20</text><text x="367.6" y="566.5" font-family="Liberation Serif" font-weight="bold" font-size="33" text-anchor="middle">30</text><text x="457.9" y="566.5" font-family="Liberation Serif" font-weight="bold" font-size="33" text-anchor="middle">40</text><text x="548.1" y="566.5" font-family="Liberation Serif" font-weight="bold" font-size="33" text-anchor="middle">50</text><text x="638.4" y="566.5" font-family="Liberation Serif" font-weight="bold" font-size="33" text-anchor="middle">60</text><text x="366" y="604.9" font-family="Liberation Serif" font-weight="bold" font-size="41" text-anchor="middle">Time (min)</text><g transform="translate(36.7,400) rotate(-90)" font-family="Liberation Serif" font-weight="bold"><text x="29.7" y="0" font-size="44" font-style="italic">J</text><text x="60.2" y="0" font-size="42">(</text><text x="73.7" y="0" font-size="42">M</text><text x="110.7" y="0" font-size="42">P</text><text x="135.35" y="0" font-size="42">a</text><text x="156.15" y="-14.25" font-size="30" font-weight="normal" class="thin">−</text><text x="171.45" y="-16.7" font-size="30">1</text><text x="186" y="0" font-size="42">)</text></g><text x="84.3" y="41.4" font-family="Liberation Serif" font-weight="bold" font-size="46">×</text><text x="109.3" y="35.8" font-family="Liberation Serif" font-weight="bold" font-size="42">10</text><text x="149.3" y="22.3" font-family="Liberation Serif" font-size="33" class="thin">−</text><text x="164.5" y="18.6" font-family="Liberation Serif" font-weight="bold" font-size="29">3</text><path fill="#0000ff" d="M494.1 141.2l6.8 11.5h-13.6z"/><text x="522" y="155.9" font-family="Liberation Serif" font-weight="bold" font-size="26" textLength="98" lengthAdjust="spacing">3MPa-37</text><text x="619.3" y="147.9" font-family="Liberation Serif" font-weight="bold" font-size="18">o</text><text x="628.3" y="155.9" font-family="Liberation Serif" font-weight="bold" font-size="26">C</text><path stroke="#f08080" stroke-width="2" d="M471 179.7H517"/><text x="522" y="187.6" font-family="Liberation Serif" font-weight="bold" font-size="26">QPD</text><path fill="#7f00ff" d="M494.1 204.1l7 7l-7 7l-7-7z"/><text x="522" y="218.9" font-family="Liberation Serif" font-weight="bold" font-size="26" textLength="98" lengthAdjust="spacing">3MPa-50</text><text x="619.3" y="210.9" font-family="Liberation Serif" font-weight="bold" font-size="18">o</text><text x="628.3" y="218.9" font-family="Liberation Serif" font-weight="bold" font-size="26">C</text><path stroke="#00cccc" stroke-width="2" d="M471 242.3H517"/><text x="522" y="250.2" font-family="Liberation Serif" font-weight="bold" font-size="26">QPD</text><path fill="#008080" d="M489.4 408.3h10.6v10.6h-10.6z"/><text x="522" y="421.7" font-family="Liberation Serif" font-weight="bold" font-size="26" textLength="98" lengthAdjust="spacing">1MPa-30</text><text x="619.3" y="413.7" font-family="Liberation Serif" font-weight="bold" font-size="18">o</text><text x="628.3" y="421.7" font-family="Liberation Serif" font-weight="bold" font-size="26">C</text><path stroke="#ffe2c8" stroke-width="2" d="M471 445.2H517"/><text x="522" y="453.1" font-family="Liberation Serif" font-weight="bold" font-size="26">QPD</text><path fill="#ff0080" d="M495.1 469.5l7 7l-7 7l-7-7z"/><text x="522" y="484.6" font-family="Liberation Serif" font-weight="bold" font-size="26" textLength="98" lengthAdjust="spacing">5MPa-30</text><text x="619.3" y="476.6" font-family="Liberation Serif" font-weight="bold" font-size="18">o</text><text x="628.3" y="484.6" font-family="Liberation Serif" font-weight="bold" font-size="26">C</text><path stroke="#b0e0e6" stroke-width="2" d="M471 507.5H517"/><text x="522" y="515.4" font-family="Liberation Serif" font-weight="bold" font-size="26">QPD</text></svg>
</body></html>
